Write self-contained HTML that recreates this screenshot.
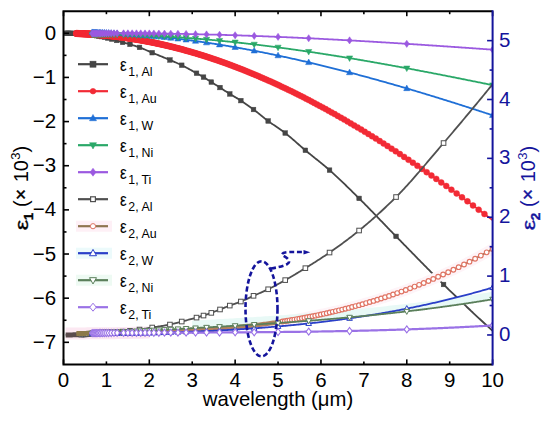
<!DOCTYPE html>
<html><head><meta charset="utf-8"><style>html,body{margin:0;padding:0;background:#fff}svg{display:block}</style></head>
<body>
<svg width="550" height="421" viewBox="0 0 550 421">
<defs><clipPath id="pc"><rect x="63.5" y="11.2" width="429.1" height="353.2"/></clipPath></defs>
<rect width="550" height="421" fill="#fff"/>
<g clip-path="url(#pc)">
<polyline points="65.65,33.27 66.72,33.28 67.79,33.29 68.86,33.30 69.93,33.32 71.00,33.34 72.07,33.37 73.14,33.40 74.21,33.43 75.28,33.46 76.35,33.49 77.42,33.54 78.49,33.59 79.56,33.66 80.63,33.73 81.70,33.82 82.77,33.91 83.84,34.01 84.91,34.12 85.98,34.23 87.05,34.35 88.12,34.47 89.19,34.59 90.26,34.72 91.33,34.86 92.40,35.01 93.47,35.17 94.54,35.34 95.61,35.52 96.68,35.71 97.75,35.90 98.82,36.11 99.89,36.31 100.96,36.53 102.03,36.75 103.10,36.97 104.17,37.20 105.24,37.43 106.31,37.67 107.38,37.91 108.45,38.17 109.52,38.44 110.59,38.72 111.66,39.02 112.73,39.32 113.80,39.62 114.87,39.93 115.94,40.25 117.01,40.56 118.08,40.89 119.15,41.23 120.22,41.58 121.29,41.92 122.36,42.25 123.43,42.55 124.50,42.84 125.57,43.12 126.64,43.40 127.71,43.68 128.78,43.96 129.85,44.27 130.92,44.58 131.99,44.91 133.06,45.24 134.13,45.57 135.20,45.92 136.27,46.28 137.34,46.64 138.41,47.01 139.48,47.40 140.55,47.80 141.62,48.21 142.69,48.64 143.76,49.08 144.83,49.54 145.90,50.00 146.97,50.46 148.04,50.92 149.11,51.39 150.18,51.85 151.25,52.31 152.32,52.75 153.39,53.19 154.46,53.63 155.53,54.07 156.60,54.51 157.67,54.94 158.74,55.37 159.81,55.81 160.88,56.24 161.95,56.68 163.02,57.11 164.09,57.55 165.16,57.99 166.23,58.43 167.30,58.88 168.37,59.33 169.44,59.78 170.51,60.24 171.58,60.70 172.65,61.15 173.72,61.61 174.79,62.07 175.86,62.54 176.93,63.01 178.00,63.49 179.07,63.97 180.14,64.47 181.21,64.98 182.28,65.50 183.35,66.03 184.42,66.58 185.49,67.14 186.56,67.71 187.63,68.29 188.70,68.88 189.77,69.47 190.84,70.07 191.91,70.66 192.98,71.26 194.05,71.86 195.12,72.46 196.19,73.05 197.26,73.64 198.33,74.22 199.40,74.80 200.47,75.39 201.54,75.98 202.61,76.59 203.68,77.22 204.75,77.87 205.82,78.54 206.89,79.22 207.96,79.92 209.03,80.61 210.10,81.31 211.17,81.99 212.24,82.67 213.31,83.34 214.38,84.01 215.45,84.67 216.52,85.34 217.59,86.01 218.66,86.69 219.73,87.37 220.80,88.06 221.87,88.76 222.94,89.46 224.01,90.17 225.08,90.89 226.15,91.59 227.22,92.30 228.29,92.99 229.36,93.68 230.43,94.35 231.51,95.00 232.58,95.64 233.65,96.27 234.72,96.90 235.79,97.52 236.86,98.15 237.93,98.79 239.00,99.44 240.07,100.10 241.14,100.79 242.21,101.49 243.28,102.21 244.35,102.93 245.42,103.67 246.49,104.41 247.56,105.17 248.63,105.93 249.70,106.70 250.77,107.48 251.84,108.26 252.91,109.05 253.98,109.84 255.05,110.65 256.12,111.48 257.19,112.32 258.26,113.17 259.33,114.03 260.40,114.89 261.47,115.76 262.54,116.62 263.61,117.48 264.68,118.33 265.75,119.17 266.82,120.00 267.89,120.81 268.96,121.61 270.03,122.38 271.10,123.14 272.17,123.89 273.24,124.63 274.31,125.36 275.38,126.09 276.45,126.82 277.52,127.54 278.59,128.28 279.66,129.01 280.73,129.76 281.80,130.52 282.87,131.29 283.94,132.08 285.01,132.89 286.08,133.73 287.15,134.58 288.22,135.45 289.29,136.33 290.36,137.23 291.43,138.14 292.50,139.06 293.57,139.99 294.64,140.93 295.71,141.87 296.78,142.82 297.85,143.77 298.92,144.71 299.99,145.66 301.06,146.59 302.13,147.53 303.20,148.45 304.27,149.37 305.34,150.27 306.41,151.16 307.48,152.05 308.55,152.93 309.62,153.80 310.69,154.66 311.76,155.53 312.83,156.39 313.90,157.24 314.97,158.10 316.04,158.96 317.11,159.81 318.18,160.67 319.25,161.53 320.32,162.40 321.39,163.26 322.46,164.14 323.53,165.02 324.60,165.91 325.67,166.81 326.74,167.71 327.81,168.63 328.88,169.56 329.95,170.50 331.02,171.45 332.09,172.41 333.16,173.38 334.23,174.35 335.30,175.33 336.37,176.32 337.44,177.32 338.51,178.32 339.58,179.33 340.65,180.35 341.72,181.37 342.79,182.39 343.86,183.42 344.93,184.46 346.00,185.49 347.07,186.54 348.14,187.58 349.21,188.63 350.28,189.68 351.35,190.73 352.42,191.79 353.49,192.84 354.56,193.90 355.63,194.96 356.70,196.02 357.77,197.08 358.84,198.13 359.91,199.19 360.98,200.26 362.05,201.33 363.12,202.40 364.19,203.48 365.26,204.56 366.33,205.65 367.40,206.74 368.47,207.83 369.54,208.93 370.61,210.03 371.68,211.13 372.75,212.23 373.82,213.34 374.89,214.45 375.96,215.56 377.03,216.67 378.10,217.78 379.17,218.89 380.24,220.01 381.31,221.12 382.38,222.23 383.45,223.35 384.52,224.46 385.59,225.57 386.66,226.68 387.73,227.80 388.80,228.90 389.87,230.01 390.94,231.12 392.01,232.22 393.08,233.32 394.15,234.42 395.22,235.52 396.29,236.61 397.36,237.70 398.43,238.80 399.50,239.89 400.57,240.99 401.64,242.08 402.71,243.18 403.78,244.28 404.85,245.37 405.93,246.47 407.00,247.57 408.07,248.66 409.14,249.76 410.21,250.86 411.28,251.96 412.35,253.05 413.42,254.15 414.49,255.24 415.56,256.34 416.63,257.43 417.70,258.53 418.77,259.62 419.84,260.71 420.91,261.80 421.98,262.89 423.05,263.98 424.12,265.07 425.19,266.15 426.26,267.24 427.33,268.32 428.40,269.40 429.47,270.48 430.54,271.56 431.61,272.64 432.68,273.71 433.75,274.78 434.82,275.85 435.89,276.92 436.96,277.98 438.03,279.04 439.10,280.10 440.17,281.16 441.24,282.22 442.31,283.27 443.38,284.32 444.45,285.36 445.52,286.41 446.59,287.45 447.66,288.49 448.73,289.53 449.80,290.57 450.87,291.61 451.94,292.64 453.01,293.68 454.08,294.71 455.15,295.74 456.22,296.77 457.29,297.80 458.36,298.83 459.43,299.85 460.50,300.88 461.57,301.90 462.64,302.92 463.71,303.94 464.78,304.95 465.85,305.97 466.92,306.98 467.99,308.00 469.06,309.01 470.13,310.02 471.20,311.03 472.27,312.03 473.34,313.04 474.41,314.04 475.48,315.04 476.55,316.04 477.62,317.04 478.69,318.04 479.76,319.03 480.83,320.03 481.90,321.02 482.97,322.01 484.04,323.00 485.11,323.98 486.18,324.97 487.25,325.95 488.32,326.93 489.39,327.91 490.46,328.89 491.53,329.87 492.60,330.85" fill="none" stroke="#454545" stroke-width="1.8"/>
<rect x="63.86" y="30.98" width="4.6" height="4.6" fill="#454545" stroke="#454545" stroke-width="0.5"/>
<rect x="64.75" y="30.98" width="4.6" height="4.6" fill="#454545" stroke="#454545" stroke-width="0.5"/>
<rect x="65.63" y="30.99" width="4.6" height="4.6" fill="#454545" stroke="#454545" stroke-width="0.5"/>
<rect x="66.52" y="31.00" width="4.6" height="4.6" fill="#454545" stroke="#454545" stroke-width="0.5"/>
<rect x="67.85" y="31.02" width="4.6" height="4.6" fill="#454545" stroke="#454545" stroke-width="0.5"/>
<rect x="68.80" y="31.04" width="4.6" height="4.6" fill="#454545" stroke="#454545" stroke-width="0.5"/>
<rect x="70.07" y="31.08" width="4.6" height="4.6" fill="#454545" stroke="#454545" stroke-width="0.5"/>
<rect x="71.84" y="31.13" width="4.6" height="4.6" fill="#454545" stroke="#454545" stroke-width="0.5"/>
<rect x="73.02" y="31.16" width="4.6" height="4.6" fill="#454545" stroke="#454545" stroke-width="0.5"/>
<rect x="74.50" y="31.21" width="4.6" height="4.6" fill="#454545" stroke="#454545" stroke-width="0.5"/>
<rect x="76.40" y="31.30" width="4.6" height="4.6" fill="#454545" stroke="#454545" stroke-width="0.5"/>
<rect x="78.94" y="31.48" width="4.6" height="4.6" fill="#454545" stroke="#454545" stroke-width="0.5"/>
<rect x="80.20" y="31.59" width="4.6" height="4.6" fill="#454545" stroke="#454545" stroke-width="0.5"/>
<rect x="81.66" y="31.73" width="4.6" height="4.6" fill="#454545" stroke="#454545" stroke-width="0.5"/>
<rect x="83.37" y="31.90" width="4.6" height="4.6" fill="#454545" stroke="#454545" stroke-width="0.5"/>
<rect x="85.39" y="32.12" width="4.6" height="4.6" fill="#454545" stroke="#454545" stroke-width="0.5"/>
<rect x="87.80" y="32.40" width="4.6" height="4.6" fill="#454545" stroke="#454545" stroke-width="0.5"/>
<rect x="89.20" y="32.58" width="4.6" height="4.6" fill="#454545" stroke="#454545" stroke-width="0.5"/>
<rect x="90.76" y="32.81" width="4.6" height="4.6" fill="#454545" stroke="#454545" stroke-width="0.5"/>
<rect x="92.50" y="33.08" width="4.6" height="4.6" fill="#454545" stroke="#454545" stroke-width="0.5"/>
<rect x="94.46" y="33.42" width="4.6" height="4.6" fill="#454545" stroke="#454545" stroke-width="0.5"/>
<rect x="96.67" y="33.84" width="4.6" height="4.6" fill="#454545" stroke="#454545" stroke-width="0.5"/>
<rect x="99.21" y="34.34" width="4.6" height="4.6" fill="#454545" stroke="#454545" stroke-width="0.5"/>
<rect x="102.13" y="34.96" width="4.6" height="4.6" fill="#454545" stroke="#454545" stroke-width="0.5"/>
<rect x="105.54" y="35.72" width="4.6" height="4.6" fill="#454545" stroke="#454545" stroke-width="0.5"/>
<rect x="109.57" y="36.77" width="4.6" height="4.6" fill="#454545" stroke="#454545" stroke-width="0.5"/>
<rect x="114.41" y="38.17" width="4.6" height="4.6" fill="#454545" stroke="#454545" stroke-width="0.5"/>
<rect x="120.32" y="40.02" width="4.6" height="4.6" fill="#454545" stroke="#454545" stroke-width="0.5"/>
<rect x="127.71" y="42.01" width="4.6" height="4.6" fill="#454545" stroke="#454545" stroke-width="0.5"/>
<rect x="137.21" y="45.11" width="4.6" height="4.6" fill="#454545" stroke="#454545" stroke-width="0.5"/>
<rect x="149.88" y="50.40" width="4.6" height="4.6" fill="#454545" stroke="#454545" stroke-width="0.5"/>
<rect x="167.62" y="57.69" width="4.6" height="4.6" fill="#454545" stroke="#454545" stroke-width="0.5"/>
<rect x="179.44" y="62.93" width="4.6" height="4.6" fill="#454545" stroke="#454545" stroke-width="0.5"/>
<rect x="194.22" y="70.93" width="4.6" height="4.6" fill="#454545" stroke="#454545" stroke-width="0.5"/>
<rect x="201.22" y="74.82" width="4.6" height="4.6" fill="#454545" stroke="#454545" stroke-width="0.5"/>
<rect x="209.00" y="79.77" width="4.6" height="4.6" fill="#454545" stroke="#454545" stroke-width="0.5"/>
<rect x="217.70" y="85.24" width="4.6" height="4.6" fill="#454545" stroke="#454545" stroke-width="0.5"/>
<rect x="227.48" y="91.64" width="4.6" height="4.6" fill="#454545" stroke="#454545" stroke-width="0.5"/>
<rect x="238.56" y="98.31" width="4.6" height="4.6" fill="#454545" stroke="#454545" stroke-width="0.5"/>
<rect x="251.23" y="107.21" width="4.6" height="4.6" fill="#454545" stroke="#454545" stroke-width="0.5"/>
<rect x="265.85" y="118.71" width="4.6" height="4.6" fill="#454545" stroke="#454545" stroke-width="0.5"/>
<rect x="282.90" y="130.74" width="4.6" height="4.6" fill="#454545" stroke="#454545" stroke-width="0.5"/>
<rect x="303.06" y="147.99" width="4.6" height="4.6" fill="#454545" stroke="#454545" stroke-width="0.5"/>
<rect x="327.24" y="167.84" width="4.6" height="4.6" fill="#454545" stroke="#454545" stroke-width="0.5"/>
<rect x="356.80" y="196.09" width="4.6" height="4.6" fill="#454545" stroke="#454545" stroke-width="0.5"/>
<rect x="393.75" y="234.06" width="4.6" height="4.6" fill="#454545" stroke="#454545" stroke-width="0.5"/>
<rect x="441.26" y="282.19" width="4.6" height="4.6" fill="#454545" stroke="#454545" stroke-width="0.5"/>
<polyline points="76.37,33.47 77.42,33.50 78.46,33.54 79.50,33.57 80.55,33.61 81.59,33.66 82.63,33.70 83.68,33.75 84.72,33.80 85.76,33.85 86.80,33.91 87.85,33.96 88.89,34.02 89.93,34.09 90.98,34.15 92.02,34.22 93.06,34.29 94.11,34.36 95.15,34.44 96.19,34.52 97.24,34.60 98.28,34.68 99.32,34.77 100.37,34.85 101.41,34.95 102.45,35.04 103.50,35.13 104.54,35.23 105.58,35.33 106.63,35.44 107.67,35.54 108.71,35.65 109.75,35.76 110.80,35.87 111.84,35.99 112.88,36.11 113.93,36.23 114.97,36.35 116.01,36.48 117.06,36.61 118.10,36.74 119.14,36.87 120.19,37.00 121.23,37.14 122.27,37.28 123.32,37.43 124.36,37.57 125.40,37.72 126.45,37.87 127.49,38.02 128.53,38.18 129.57,38.34 130.62,38.50 131.66,38.66 132.70,38.83 133.75,38.99 134.79,39.17 135.83,39.34 136.88,39.51 137.92,39.69 138.96,39.87 140.01,40.05 141.05,40.24 142.09,40.43 143.14,40.62 144.18,40.81 145.22,41.01 146.27,41.20 147.31,41.40 148.35,41.61 149.40,41.81 150.44,42.02 151.48,42.23 152.52,42.44 153.57,42.65 154.61,42.87 155.65,43.09 156.70,43.31 157.74,43.54 158.78,43.76 159.83,43.99 160.87,44.23 161.91,44.46 162.96,44.70 164.00,44.93 165.04,45.18 166.09,45.42 167.13,45.67 168.17,45.91 169.22,46.17 170.26,46.42 171.30,46.67 172.35,46.93 173.39,47.19 174.43,47.46 175.47,47.72 176.52,47.99 177.56,48.26 178.60,48.53 179.65,48.81 180.69,49.08 181.73,49.36 182.78,49.65 183.82,49.93 184.86,50.22 185.91,50.51 186.95,50.80 187.99,51.09 189.04,51.39 190.08,51.68 191.12,51.99 192.17,52.29 193.21,52.59 194.25,52.90 195.29,53.21 196.34,53.52 197.38,53.84 198.42,54.16 199.47,54.48 200.51,54.80 201.55,55.12 202.60,55.45 203.64,55.78 204.68,56.11 205.73,56.44 206.77,56.78 207.81,57.11 208.86,57.46 209.90,57.80 210.94,58.14 211.99,58.49 213.03,58.84 214.07,59.19 215.12,59.54 216.16,59.90 217.20,60.26 218.24,60.62 219.29,60.98 220.33,61.35 221.37,61.71 222.42,62.08 223.46,62.46 224.50,62.83 225.55,63.21 226.59,63.59 227.63,63.97 228.68,64.35 229.72,64.73 230.76,65.12 231.81,65.51 232.85,65.90 233.89,66.30 234.94,66.69 235.98,67.09 237.02,67.49 238.07,67.90 239.11,68.30 240.15,68.71 241.19,69.12 242.24,69.53 243.28,69.94 244.32,70.36 245.37,70.78 246.41,71.20 247.45,71.62 248.50,72.04 249.54,72.47 250.58,72.90 251.63,73.33 252.67,73.76 253.71,74.20 254.76,74.64 255.80,75.08 256.84,75.52 257.89,75.96 258.93,76.41 259.97,76.86 261.02,77.31 262.06,77.76 263.10,78.21 264.14,78.67 265.19,79.13 266.23,79.59 267.27,80.05 268.32,80.51 269.36,80.98 270.40,81.45 271.45,81.92 272.49,82.39 273.53,82.87 274.58,83.35 275.62,83.82 276.66,84.31 277.71,84.79 278.75,85.27 279.79,85.76 280.84,86.25 281.88,86.74 282.92,87.23 283.96,87.73 285.01,88.23 286.05,88.73 287.09,89.23 288.14,89.73 289.18,90.24 290.22,90.74 291.27,91.25 292.31,91.76 293.35,92.28 294.40,92.79 295.44,93.31 296.48,93.83 297.53,94.35 298.57,94.87 299.61,95.39 300.66,95.92 301.70,96.45 302.74,96.98 303.79,97.51 304.83,98.05 305.87,98.58 306.91,99.12 307.96,99.66 309.00,100.20 310.04,100.75 311.09,101.29 312.13,101.84 313.17,102.39 314.22,102.94 315.26,103.49 316.30,104.05 317.35,104.60 318.39,105.16 319.43,105.72 320.48,106.29 321.52,106.85 322.56,107.42 323.61,107.98 324.65,108.55 325.69,109.12 326.74,109.70 327.78,110.27 328.82,110.85 329.86,111.43 330.91,112.01 331.95,112.59 332.99,113.17 334.04,113.76 335.08,114.35 336.12,114.94 337.17,115.53 338.21,116.12 339.25,116.71 340.30,117.31 341.34,117.91 342.38,118.51 343.43,119.11 344.47,119.71 345.51,120.32 346.56,120.92 347.60,121.53 348.64,122.14 349.68,122.75 350.73,123.37 351.77,123.98 352.81,124.60 353.86,125.22 354.90,125.84 355.94,126.46 356.99,127.08 358.03,127.71 359.07,128.33 360.12,128.96 361.16,129.59 362.20,130.22 363.25,130.86 364.29,131.49 365.33,132.13 366.38,132.76 367.42,133.40 368.46,134.05 369.51,134.69 370.55,135.33 371.59,135.98 372.63,136.63 373.68,137.27 374.72,137.93 375.76,138.58 376.81,139.23 377.85,139.89 378.89,140.54 379.94,141.20 380.98,141.86 382.02,142.52 383.07,143.19 384.11,143.85 385.15,144.52 386.20,145.18 387.24,145.85 388.28,146.52 389.33,147.20 390.37,147.87 391.41,148.54 392.46,149.22 393.50,149.90 394.54,150.58 395.58,151.26 396.63,151.94 397.67,152.62 398.71,153.31 399.76,154.00 400.80,154.68 401.84,155.37 402.89,156.06 403.93,156.76 404.97,157.45 406.02,158.14 407.06,158.84 408.10,159.54 409.15,160.24 410.19,160.94 411.23,161.64 412.28,162.34 413.32,163.05 414.36,163.75 415.41,164.46 416.45,165.17 417.49,165.88 418.53,166.59 419.58,167.30 420.62,168.02 421.66,168.73 422.71,169.45 423.75,170.17 424.79,170.89 425.84,171.61 426.88,172.33 427.92,173.05 428.97,173.78 430.01,174.50 431.05,175.23 432.10,175.96 433.14,176.69 434.18,177.42 435.23,178.15 436.27,178.88 437.31,179.62 438.35,180.35 439.40,181.09 440.44,181.83 441.48,182.57 442.53,183.31 443.57,184.05 444.61,184.79 445.66,185.54 446.70,186.28 447.74,187.03 448.79,187.78 449.83,188.53 450.87,189.28 451.92,190.03 452.96,190.78 454.00,191.53 455.05,192.29 456.09,193.05 457.13,193.80 458.18,194.56 459.22,195.32 460.26,196.08 461.30,196.84 462.35,197.60 463.39,198.37 464.43,199.13 465.48,199.90 466.52,200.66 467.56,201.43 468.61,202.20 469.65,202.97 470.69,203.74 471.74,204.52 472.78,205.29 473.82,206.06 474.87,206.84 475.91,207.61 476.95,208.39 478.00,209.17 479.04,209.95 480.08,210.73 481.13,211.51 482.17,212.29 483.21,213.08 484.25,213.86 485.30,214.65 486.34,215.43 487.38,216.22 488.43,217.01 489.47,217.80 490.51,218.59 491.56,219.38 492.60,220.17" fill="none" stroke="#f22a35" stroke-width="1.8"/>
<circle cx="76.39" cy="33.47" r="3.0" fill="#f22a35" stroke="#f22a35" stroke-width="0.4"/>
<circle cx="76.43" cy="33.47" r="3.0" fill="#f22a35" stroke="#f22a35" stroke-width="0.4"/>
<circle cx="76.47" cy="33.47" r="3.0" fill="#f22a35" stroke="#f22a35" stroke-width="0.4"/>
<circle cx="76.51" cy="33.47" r="3.0" fill="#f22a35" stroke="#f22a35" stroke-width="0.4"/>
<circle cx="76.55" cy="33.47" r="3.0" fill="#f22a35" stroke="#f22a35" stroke-width="0.4"/>
<circle cx="76.59" cy="33.47" r="3.0" fill="#f22a35" stroke="#f22a35" stroke-width="0.4"/>
<circle cx="76.62" cy="33.48" r="3.0" fill="#f22a35" stroke="#f22a35" stroke-width="0.4"/>
<circle cx="76.66" cy="33.48" r="3.0" fill="#f22a35" stroke="#f22a35" stroke-width="0.4"/>
<circle cx="76.70" cy="33.48" r="3.0" fill="#f22a35" stroke="#f22a35" stroke-width="0.4"/>
<circle cx="76.74" cy="33.48" r="3.0" fill="#f22a35" stroke="#f22a35" stroke-width="0.4"/>
<circle cx="76.78" cy="33.48" r="3.0" fill="#f22a35" stroke="#f22a35" stroke-width="0.4"/>
<circle cx="76.82" cy="33.48" r="3.0" fill="#f22a35" stroke="#f22a35" stroke-width="0.4"/>
<circle cx="76.86" cy="33.48" r="3.0" fill="#f22a35" stroke="#f22a35" stroke-width="0.4"/>
<circle cx="76.90" cy="33.48" r="3.0" fill="#f22a35" stroke="#f22a35" stroke-width="0.4"/>
<circle cx="76.94" cy="33.49" r="3.0" fill="#f22a35" stroke="#f22a35" stroke-width="0.4"/>
<circle cx="76.98" cy="33.49" r="3.0" fill="#f22a35" stroke="#f22a35" stroke-width="0.4"/>
<circle cx="77.03" cy="33.49" r="3.0" fill="#f22a35" stroke="#f22a35" stroke-width="0.4"/>
<circle cx="77.07" cy="33.49" r="3.0" fill="#f22a35" stroke="#f22a35" stroke-width="0.4"/>
<circle cx="77.11" cy="33.49" r="3.0" fill="#f22a35" stroke="#f22a35" stroke-width="0.4"/>
<circle cx="77.15" cy="33.49" r="3.0" fill="#f22a35" stroke="#f22a35" stroke-width="0.4"/>
<circle cx="77.19" cy="33.49" r="3.0" fill="#f22a35" stroke="#f22a35" stroke-width="0.4"/>
<circle cx="77.23" cy="33.49" r="3.0" fill="#f22a35" stroke="#f22a35" stroke-width="0.4"/>
<circle cx="77.28" cy="33.50" r="3.0" fill="#f22a35" stroke="#f22a35" stroke-width="0.4"/>
<circle cx="77.32" cy="33.50" r="3.0" fill="#f22a35" stroke="#f22a35" stroke-width="0.4"/>
<circle cx="77.36" cy="33.50" r="3.0" fill="#f22a35" stroke="#f22a35" stroke-width="0.4"/>
<circle cx="77.40" cy="33.50" r="3.0" fill="#f22a35" stroke="#f22a35" stroke-width="0.4"/>
<circle cx="77.45" cy="33.50" r="3.0" fill="#f22a35" stroke="#f22a35" stroke-width="0.4"/>
<circle cx="77.49" cy="33.50" r="3.0" fill="#f22a35" stroke="#f22a35" stroke-width="0.4"/>
<circle cx="77.53" cy="33.50" r="3.0" fill="#f22a35" stroke="#f22a35" stroke-width="0.4"/>
<circle cx="77.57" cy="33.51" r="3.0" fill="#f22a35" stroke="#f22a35" stroke-width="0.4"/>
<circle cx="77.62" cy="33.51" r="3.0" fill="#f22a35" stroke="#f22a35" stroke-width="0.4"/>
<circle cx="77.66" cy="33.51" r="3.0" fill="#f22a35" stroke="#f22a35" stroke-width="0.4"/>
<circle cx="77.71" cy="33.51" r="3.0" fill="#f22a35" stroke="#f22a35" stroke-width="0.4"/>
<circle cx="77.75" cy="33.51" r="3.0" fill="#f22a35" stroke="#f22a35" stroke-width="0.4"/>
<circle cx="77.79" cy="33.51" r="3.0" fill="#f22a35" stroke="#f22a35" stroke-width="0.4"/>
<circle cx="77.84" cy="33.51" r="3.0" fill="#f22a35" stroke="#f22a35" stroke-width="0.4"/>
<circle cx="77.88" cy="33.52" r="3.0" fill="#f22a35" stroke="#f22a35" stroke-width="0.4"/>
<circle cx="77.93" cy="33.52" r="3.0" fill="#f22a35" stroke="#f22a35" stroke-width="0.4"/>
<circle cx="77.97" cy="33.52" r="3.0" fill="#f22a35" stroke="#f22a35" stroke-width="0.4"/>
<circle cx="78.02" cy="33.52" r="3.0" fill="#f22a35" stroke="#f22a35" stroke-width="0.4"/>
<circle cx="78.06" cy="33.52" r="3.0" fill="#f22a35" stroke="#f22a35" stroke-width="0.4"/>
<circle cx="78.11" cy="33.52" r="3.0" fill="#f22a35" stroke="#f22a35" stroke-width="0.4"/>
<circle cx="78.16" cy="33.52" r="3.0" fill="#f22a35" stroke="#f22a35" stroke-width="0.4"/>
<circle cx="78.20" cy="33.53" r="3.0" fill="#f22a35" stroke="#f22a35" stroke-width="0.4"/>
<circle cx="78.25" cy="33.53" r="3.0" fill="#f22a35" stroke="#f22a35" stroke-width="0.4"/>
<circle cx="78.30" cy="33.53" r="3.0" fill="#f22a35" stroke="#f22a35" stroke-width="0.4"/>
<circle cx="78.34" cy="33.53" r="3.0" fill="#f22a35" stroke="#f22a35" stroke-width="0.4"/>
<circle cx="78.39" cy="33.53" r="3.0" fill="#f22a35" stroke="#f22a35" stroke-width="0.4"/>
<circle cx="78.44" cy="33.53" r="3.0" fill="#f22a35" stroke="#f22a35" stroke-width="0.4"/>
<circle cx="78.48" cy="33.54" r="3.0" fill="#f22a35" stroke="#f22a35" stroke-width="0.4"/>
<circle cx="78.53" cy="33.54" r="3.0" fill="#f22a35" stroke="#f22a35" stroke-width="0.4"/>
<circle cx="78.58" cy="33.54" r="3.0" fill="#f22a35" stroke="#f22a35" stroke-width="0.4"/>
<circle cx="78.63" cy="33.54" r="3.0" fill="#f22a35" stroke="#f22a35" stroke-width="0.4"/>
<circle cx="78.68" cy="33.54" r="3.0" fill="#f22a35" stroke="#f22a35" stroke-width="0.4"/>
<circle cx="78.72" cy="33.54" r="3.0" fill="#f22a35" stroke="#f22a35" stroke-width="0.4"/>
<circle cx="78.77" cy="33.55" r="3.0" fill="#f22a35" stroke="#f22a35" stroke-width="0.4"/>
<circle cx="78.82" cy="33.55" r="3.0" fill="#f22a35" stroke="#f22a35" stroke-width="0.4"/>
<circle cx="78.87" cy="33.55" r="3.0" fill="#f22a35" stroke="#f22a35" stroke-width="0.4"/>
<circle cx="78.92" cy="33.55" r="3.0" fill="#f22a35" stroke="#f22a35" stroke-width="0.4"/>
<circle cx="78.97" cy="33.55" r="3.0" fill="#f22a35" stroke="#f22a35" stroke-width="0.4"/>
<circle cx="79.02" cy="33.56" r="3.0" fill="#f22a35" stroke="#f22a35" stroke-width="0.4"/>
<circle cx="79.07" cy="33.56" r="3.0" fill="#f22a35" stroke="#f22a35" stroke-width="0.4"/>
<circle cx="79.12" cy="33.56" r="3.0" fill="#f22a35" stroke="#f22a35" stroke-width="0.4"/>
<circle cx="79.17" cy="33.56" r="3.0" fill="#f22a35" stroke="#f22a35" stroke-width="0.4"/>
<circle cx="79.22" cy="33.56" r="3.0" fill="#f22a35" stroke="#f22a35" stroke-width="0.4"/>
<circle cx="79.27" cy="33.56" r="3.0" fill="#f22a35" stroke="#f22a35" stroke-width="0.4"/>
<circle cx="79.32" cy="33.57" r="3.0" fill="#f22a35" stroke="#f22a35" stroke-width="0.4"/>
<circle cx="79.38" cy="33.57" r="3.0" fill="#f22a35" stroke="#f22a35" stroke-width="0.4"/>
<circle cx="79.43" cy="33.57" r="3.0" fill="#f22a35" stroke="#f22a35" stroke-width="0.4"/>
<circle cx="79.48" cy="33.57" r="3.0" fill="#f22a35" stroke="#f22a35" stroke-width="0.4"/>
<circle cx="79.53" cy="33.57" r="3.0" fill="#f22a35" stroke="#f22a35" stroke-width="0.4"/>
<circle cx="79.58" cy="33.58" r="3.0" fill="#f22a35" stroke="#f22a35" stroke-width="0.4"/>
<circle cx="79.64" cy="33.58" r="3.0" fill="#f22a35" stroke="#f22a35" stroke-width="0.4"/>
<circle cx="79.69" cy="33.58" r="3.0" fill="#f22a35" stroke="#f22a35" stroke-width="0.4"/>
<circle cx="79.74" cy="33.58" r="3.0" fill="#f22a35" stroke="#f22a35" stroke-width="0.4"/>
<circle cx="79.80" cy="33.58" r="3.0" fill="#f22a35" stroke="#f22a35" stroke-width="0.4"/>
<circle cx="79.85" cy="33.59" r="3.0" fill="#f22a35" stroke="#f22a35" stroke-width="0.4"/>
<circle cx="79.91" cy="33.59" r="3.0" fill="#f22a35" stroke="#f22a35" stroke-width="0.4"/>
<circle cx="79.96" cy="33.59" r="3.0" fill="#f22a35" stroke="#f22a35" stroke-width="0.4"/>
<circle cx="80.01" cy="33.59" r="3.0" fill="#f22a35" stroke="#f22a35" stroke-width="0.4"/>
<circle cx="80.07" cy="33.59" r="3.0" fill="#f22a35" stroke="#f22a35" stroke-width="0.4"/>
<circle cx="80.12" cy="33.60" r="3.0" fill="#f22a35" stroke="#f22a35" stroke-width="0.4"/>
<circle cx="80.18" cy="33.60" r="3.0" fill="#f22a35" stroke="#f22a35" stroke-width="0.4"/>
<circle cx="80.24" cy="33.60" r="3.0" fill="#f22a35" stroke="#f22a35" stroke-width="0.4"/>
<circle cx="80.29" cy="33.60" r="3.0" fill="#f22a35" stroke="#f22a35" stroke-width="0.4"/>
<circle cx="80.35" cy="33.61" r="3.0" fill="#f22a35" stroke="#f22a35" stroke-width="0.4"/>
<circle cx="80.40" cy="33.61" r="3.0" fill="#f22a35" stroke="#f22a35" stroke-width="0.4"/>
<circle cx="80.46" cy="33.61" r="3.0" fill="#f22a35" stroke="#f22a35" stroke-width="0.4"/>
<circle cx="80.52" cy="33.61" r="3.0" fill="#f22a35" stroke="#f22a35" stroke-width="0.4"/>
<circle cx="80.57" cy="33.61" r="3.0" fill="#f22a35" stroke="#f22a35" stroke-width="0.4"/>
<circle cx="80.63" cy="33.62" r="3.0" fill="#f22a35" stroke="#f22a35" stroke-width="0.4"/>
<circle cx="80.69" cy="33.62" r="3.0" fill="#f22a35" stroke="#f22a35" stroke-width="0.4"/>
<circle cx="80.75" cy="33.62" r="3.0" fill="#f22a35" stroke="#f22a35" stroke-width="0.4"/>
<circle cx="80.81" cy="33.62" r="3.0" fill="#f22a35" stroke="#f22a35" stroke-width="0.4"/>
<circle cx="80.86" cy="33.63" r="3.0" fill="#f22a35" stroke="#f22a35" stroke-width="0.4"/>
<circle cx="80.92" cy="33.63" r="3.0" fill="#f22a35" stroke="#f22a35" stroke-width="0.4"/>
<circle cx="80.98" cy="33.63" r="3.0" fill="#f22a35" stroke="#f22a35" stroke-width="0.4"/>
<circle cx="81.04" cy="33.63" r="3.0" fill="#f22a35" stroke="#f22a35" stroke-width="0.4"/>
<circle cx="81.10" cy="33.64" r="3.0" fill="#f22a35" stroke="#f22a35" stroke-width="0.4"/>
<circle cx="81.16" cy="33.64" r="3.0" fill="#f22a35" stroke="#f22a35" stroke-width="0.4"/>
<circle cx="81.22" cy="33.64" r="3.0" fill="#f22a35" stroke="#f22a35" stroke-width="0.4"/>
<circle cx="81.28" cy="33.64" r="3.0" fill="#f22a35" stroke="#f22a35" stroke-width="0.4"/>
<circle cx="81.34" cy="33.65" r="3.0" fill="#f22a35" stroke="#f22a35" stroke-width="0.4"/>
<circle cx="81.41" cy="33.65" r="3.0" fill="#f22a35" stroke="#f22a35" stroke-width="0.4"/>
<circle cx="81.47" cy="33.65" r="3.0" fill="#f22a35" stroke="#f22a35" stroke-width="0.4"/>
<circle cx="81.53" cy="33.65" r="3.0" fill="#f22a35" stroke="#f22a35" stroke-width="0.4"/>
<circle cx="81.59" cy="33.66" r="3.0" fill="#f22a35" stroke="#f22a35" stroke-width="0.4"/>
<circle cx="81.65" cy="33.66" r="3.0" fill="#f22a35" stroke="#f22a35" stroke-width="0.4"/>
<circle cx="81.72" cy="33.66" r="3.0" fill="#f22a35" stroke="#f22a35" stroke-width="0.4"/>
<circle cx="81.78" cy="33.66" r="3.0" fill="#f22a35" stroke="#f22a35" stroke-width="0.4"/>
<circle cx="81.84" cy="33.67" r="3.0" fill="#f22a35" stroke="#f22a35" stroke-width="0.4"/>
<circle cx="81.91" cy="33.67" r="3.0" fill="#f22a35" stroke="#f22a35" stroke-width="0.4"/>
<circle cx="81.97" cy="33.67" r="3.0" fill="#f22a35" stroke="#f22a35" stroke-width="0.4"/>
<circle cx="82.04" cy="33.67" r="3.0" fill="#f22a35" stroke="#f22a35" stroke-width="0.4"/>
<circle cx="82.10" cy="33.68" r="3.0" fill="#f22a35" stroke="#f22a35" stroke-width="0.4"/>
<circle cx="82.17" cy="33.68" r="3.0" fill="#f22a35" stroke="#f22a35" stroke-width="0.4"/>
<circle cx="82.23" cy="33.68" r="3.0" fill="#f22a35" stroke="#f22a35" stroke-width="0.4"/>
<circle cx="82.30" cy="33.69" r="3.0" fill="#f22a35" stroke="#f22a35" stroke-width="0.4"/>
<circle cx="82.36" cy="33.69" r="3.0" fill="#f22a35" stroke="#f22a35" stroke-width="0.4"/>
<circle cx="82.43" cy="33.69" r="3.0" fill="#f22a35" stroke="#f22a35" stroke-width="0.4"/>
<circle cx="82.50" cy="33.69" r="3.0" fill="#f22a35" stroke="#f22a35" stroke-width="0.4"/>
<circle cx="82.56" cy="33.70" r="3.0" fill="#f22a35" stroke="#f22a35" stroke-width="0.4"/>
<circle cx="82.63" cy="33.70" r="3.0" fill="#f22a35" stroke="#f22a35" stroke-width="0.4"/>
<circle cx="82.70" cy="33.70" r="3.0" fill="#f22a35" stroke="#f22a35" stroke-width="0.4"/>
<circle cx="82.77" cy="33.71" r="3.0" fill="#f22a35" stroke="#f22a35" stroke-width="0.4"/>
<circle cx="82.84" cy="33.71" r="3.0" fill="#f22a35" stroke="#f22a35" stroke-width="0.4"/>
<circle cx="82.90" cy="33.71" r="3.0" fill="#f22a35" stroke="#f22a35" stroke-width="0.4"/>
<circle cx="82.97" cy="33.72" r="3.0" fill="#f22a35" stroke="#f22a35" stroke-width="0.4"/>
<circle cx="83.04" cy="33.72" r="3.0" fill="#f22a35" stroke="#f22a35" stroke-width="0.4"/>
<circle cx="83.11" cy="33.72" r="3.0" fill="#f22a35" stroke="#f22a35" stroke-width="0.4"/>
<circle cx="83.18" cy="33.73" r="3.0" fill="#f22a35" stroke="#f22a35" stroke-width="0.4"/>
<circle cx="83.25" cy="33.73" r="3.0" fill="#f22a35" stroke="#f22a35" stroke-width="0.4"/>
<circle cx="83.32" cy="33.73" r="3.0" fill="#f22a35" stroke="#f22a35" stroke-width="0.4"/>
<circle cx="83.40" cy="33.74" r="3.0" fill="#f22a35" stroke="#f22a35" stroke-width="0.4"/>
<circle cx="83.47" cy="33.74" r="3.0" fill="#f22a35" stroke="#f22a35" stroke-width="0.4"/>
<circle cx="83.54" cy="33.74" r="3.0" fill="#f22a35" stroke="#f22a35" stroke-width="0.4"/>
<circle cx="83.61" cy="33.75" r="3.0" fill="#f22a35" stroke="#f22a35" stroke-width="0.4"/>
<circle cx="83.69" cy="33.75" r="3.0" fill="#f22a35" stroke="#f22a35" stroke-width="0.4"/>
<circle cx="83.76" cy="33.75" r="3.0" fill="#f22a35" stroke="#f22a35" stroke-width="0.4"/>
<circle cx="83.83" cy="33.76" r="3.0" fill="#f22a35" stroke="#f22a35" stroke-width="0.4"/>
<circle cx="83.91" cy="33.76" r="3.0" fill="#f22a35" stroke="#f22a35" stroke-width="0.4"/>
<circle cx="83.98" cy="33.76" r="3.0" fill="#f22a35" stroke="#f22a35" stroke-width="0.4"/>
<circle cx="84.06" cy="33.77" r="3.0" fill="#f22a35" stroke="#f22a35" stroke-width="0.4"/>
<circle cx="84.13" cy="33.77" r="3.0" fill="#f22a35" stroke="#f22a35" stroke-width="0.4"/>
<circle cx="84.21" cy="33.77" r="3.0" fill="#f22a35" stroke="#f22a35" stroke-width="0.4"/>
<circle cx="84.28" cy="33.78" r="3.0" fill="#f22a35" stroke="#f22a35" stroke-width="0.4"/>
<circle cx="84.36" cy="33.78" r="3.0" fill="#f22a35" stroke="#f22a35" stroke-width="0.4"/>
<circle cx="84.44" cy="33.78" r="3.0" fill="#f22a35" stroke="#f22a35" stroke-width="0.4"/>
<circle cx="84.51" cy="33.79" r="3.0" fill="#f22a35" stroke="#f22a35" stroke-width="0.4"/>
<circle cx="84.59" cy="33.79" r="3.0" fill="#f22a35" stroke="#f22a35" stroke-width="0.4"/>
<circle cx="84.67" cy="33.80" r="3.0" fill="#f22a35" stroke="#f22a35" stroke-width="0.4"/>
<circle cx="84.75" cy="33.80" r="3.0" fill="#f22a35" stroke="#f22a35" stroke-width="0.4"/>
<circle cx="84.83" cy="33.80" r="3.0" fill="#f22a35" stroke="#f22a35" stroke-width="0.4"/>
<circle cx="84.90" cy="33.81" r="3.0" fill="#f22a35" stroke="#f22a35" stroke-width="0.4"/>
<circle cx="84.98" cy="33.81" r="3.0" fill="#f22a35" stroke="#f22a35" stroke-width="0.4"/>
<circle cx="85.06" cy="33.82" r="3.0" fill="#f22a35" stroke="#f22a35" stroke-width="0.4"/>
<circle cx="85.15" cy="33.82" r="3.0" fill="#f22a35" stroke="#f22a35" stroke-width="0.4"/>
<circle cx="85.23" cy="33.82" r="3.0" fill="#f22a35" stroke="#f22a35" stroke-width="0.4"/>
<circle cx="85.31" cy="33.83" r="3.0" fill="#f22a35" stroke="#f22a35" stroke-width="0.4"/>
<circle cx="85.39" cy="33.83" r="3.0" fill="#f22a35" stroke="#f22a35" stroke-width="0.4"/>
<circle cx="85.47" cy="33.84" r="3.0" fill="#f22a35" stroke="#f22a35" stroke-width="0.4"/>
<circle cx="85.55" cy="33.84" r="3.0" fill="#f22a35" stroke="#f22a35" stroke-width="0.4"/>
<circle cx="85.64" cy="33.85" r="3.0" fill="#f22a35" stroke="#f22a35" stroke-width="0.4"/>
<circle cx="85.72" cy="33.85" r="3.0" fill="#f22a35" stroke="#f22a35" stroke-width="0.4"/>
<circle cx="85.81" cy="33.85" r="3.0" fill="#f22a35" stroke="#f22a35" stroke-width="0.4"/>
<circle cx="85.89" cy="33.86" r="3.0" fill="#f22a35" stroke="#f22a35" stroke-width="0.4"/>
<circle cx="85.98" cy="33.86" r="3.0" fill="#f22a35" stroke="#f22a35" stroke-width="0.4"/>
<circle cx="86.06" cy="33.87" r="3.0" fill="#f22a35" stroke="#f22a35" stroke-width="0.4"/>
<circle cx="86.15" cy="33.87" r="3.0" fill="#f22a35" stroke="#f22a35" stroke-width="0.4"/>
<circle cx="86.23" cy="33.88" r="3.0" fill="#f22a35" stroke="#f22a35" stroke-width="0.4"/>
<circle cx="86.32" cy="33.88" r="3.0" fill="#f22a35" stroke="#f22a35" stroke-width="0.4"/>
<circle cx="86.41" cy="33.89" r="3.0" fill="#f22a35" stroke="#f22a35" stroke-width="0.4"/>
<circle cx="86.50" cy="33.89" r="3.0" fill="#f22a35" stroke="#f22a35" stroke-width="0.4"/>
<circle cx="86.58" cy="33.89" r="3.0" fill="#f22a35" stroke="#f22a35" stroke-width="0.4"/>
<circle cx="86.67" cy="33.90" r="3.0" fill="#f22a35" stroke="#f22a35" stroke-width="0.4"/>
<circle cx="86.76" cy="33.90" r="3.0" fill="#f22a35" stroke="#f22a35" stroke-width="0.4"/>
<circle cx="86.85" cy="33.91" r="3.0" fill="#f22a35" stroke="#f22a35" stroke-width="0.4"/>
<circle cx="86.94" cy="33.91" r="3.0" fill="#f22a35" stroke="#f22a35" stroke-width="0.4"/>
<circle cx="87.03" cy="33.92" r="3.0" fill="#f22a35" stroke="#f22a35" stroke-width="0.4"/>
<circle cx="87.12" cy="33.92" r="3.0" fill="#f22a35" stroke="#f22a35" stroke-width="0.4"/>
<circle cx="87.22" cy="33.93" r="3.0" fill="#f22a35" stroke="#f22a35" stroke-width="0.4"/>
<circle cx="87.31" cy="33.93" r="3.0" fill="#f22a35" stroke="#f22a35" stroke-width="0.4"/>
<circle cx="87.40" cy="33.94" r="3.0" fill="#f22a35" stroke="#f22a35" stroke-width="0.4"/>
<circle cx="87.50" cy="33.94" r="3.0" fill="#f22a35" stroke="#f22a35" stroke-width="0.4"/>
<circle cx="87.59" cy="33.95" r="3.0" fill="#f22a35" stroke="#f22a35" stroke-width="0.4"/>
<circle cx="87.68" cy="33.96" r="3.0" fill="#f22a35" stroke="#f22a35" stroke-width="0.4"/>
<circle cx="87.78" cy="33.96" r="3.0" fill="#f22a35" stroke="#f22a35" stroke-width="0.4"/>
<circle cx="87.87" cy="33.97" r="3.0" fill="#f22a35" stroke="#f22a35" stroke-width="0.4"/>
<circle cx="87.97" cy="33.97" r="3.0" fill="#f22a35" stroke="#f22a35" stroke-width="0.4"/>
<circle cx="88.07" cy="33.98" r="3.0" fill="#f22a35" stroke="#f22a35" stroke-width="0.4"/>
<circle cx="88.16" cy="33.98" r="3.0" fill="#f22a35" stroke="#f22a35" stroke-width="0.4"/>
<circle cx="88.26" cy="33.99" r="3.0" fill="#f22a35" stroke="#f22a35" stroke-width="0.4"/>
<circle cx="88.36" cy="33.99" r="3.0" fill="#f22a35" stroke="#f22a35" stroke-width="0.4"/>
<circle cx="88.46" cy="34.00" r="3.0" fill="#f22a35" stroke="#f22a35" stroke-width="0.4"/>
<circle cx="88.56" cy="34.01" r="3.0" fill="#f22a35" stroke="#f22a35" stroke-width="0.4"/>
<circle cx="88.66" cy="34.01" r="3.0" fill="#f22a35" stroke="#f22a35" stroke-width="0.4"/>
<circle cx="88.76" cy="34.02" r="3.0" fill="#f22a35" stroke="#f22a35" stroke-width="0.4"/>
<circle cx="88.86" cy="34.02" r="3.0" fill="#f22a35" stroke="#f22a35" stroke-width="0.4"/>
<circle cx="88.96" cy="34.03" r="3.0" fill="#f22a35" stroke="#f22a35" stroke-width="0.4"/>
<circle cx="89.07" cy="34.04" r="3.0" fill="#f22a35" stroke="#f22a35" stroke-width="0.4"/>
<circle cx="89.17" cy="34.04" r="3.0" fill="#f22a35" stroke="#f22a35" stroke-width="0.4"/>
<circle cx="89.27" cy="34.05" r="3.0" fill="#f22a35" stroke="#f22a35" stroke-width="0.4"/>
<circle cx="89.38" cy="34.05" r="3.0" fill="#f22a35" stroke="#f22a35" stroke-width="0.4"/>
<circle cx="89.48" cy="34.06" r="3.0" fill="#f22a35" stroke="#f22a35" stroke-width="0.4"/>
<circle cx="89.59" cy="34.07" r="3.0" fill="#f22a35" stroke="#f22a35" stroke-width="0.4"/>
<circle cx="89.69" cy="34.07" r="3.0" fill="#f22a35" stroke="#f22a35" stroke-width="0.4"/>
<circle cx="89.80" cy="34.08" r="3.0" fill="#f22a35" stroke="#f22a35" stroke-width="0.4"/>
<circle cx="89.91" cy="34.09" r="3.0" fill="#f22a35" stroke="#f22a35" stroke-width="0.4"/>
<circle cx="90.01" cy="34.09" r="3.0" fill="#f22a35" stroke="#f22a35" stroke-width="0.4"/>
<circle cx="90.12" cy="34.10" r="3.0" fill="#f22a35" stroke="#f22a35" stroke-width="0.4"/>
<circle cx="90.23" cy="34.11" r="3.0" fill="#f22a35" stroke="#f22a35" stroke-width="0.4"/>
<circle cx="90.34" cy="34.11" r="3.0" fill="#f22a35" stroke="#f22a35" stroke-width="0.4"/>
<circle cx="90.45" cy="34.12" r="3.0" fill="#f22a35" stroke="#f22a35" stroke-width="0.4"/>
<circle cx="90.56" cy="34.13" r="3.0" fill="#f22a35" stroke="#f22a35" stroke-width="0.4"/>
<circle cx="90.68" cy="34.13" r="3.0" fill="#f22a35" stroke="#f22a35" stroke-width="0.4"/>
<circle cx="90.79" cy="34.14" r="3.0" fill="#f22a35" stroke="#f22a35" stroke-width="0.4"/>
<circle cx="90.90" cy="34.15" r="3.0" fill="#f22a35" stroke="#f22a35" stroke-width="0.4"/>
<circle cx="91.01" cy="34.16" r="3.0" fill="#f22a35" stroke="#f22a35" stroke-width="0.4"/>
<circle cx="91.13" cy="34.16" r="3.0" fill="#f22a35" stroke="#f22a35" stroke-width="0.4"/>
<circle cx="91.24" cy="34.17" r="3.0" fill="#f22a35" stroke="#f22a35" stroke-width="0.4"/>
<circle cx="91.36" cy="34.18" r="3.0" fill="#f22a35" stroke="#f22a35" stroke-width="0.4"/>
<circle cx="91.48" cy="34.19" r="3.0" fill="#f22a35" stroke="#f22a35" stroke-width="0.4"/>
<circle cx="91.59" cy="34.19" r="3.0" fill="#f22a35" stroke="#f22a35" stroke-width="0.4"/>
<circle cx="91.71" cy="34.20" r="3.0" fill="#f22a35" stroke="#f22a35" stroke-width="0.4"/>
<circle cx="91.83" cy="34.21" r="3.0" fill="#f22a35" stroke="#f22a35" stroke-width="0.4"/>
<circle cx="91.95" cy="34.22" r="3.0" fill="#f22a35" stroke="#f22a35" stroke-width="0.4"/>
<circle cx="92.07" cy="34.22" r="3.0" fill="#f22a35" stroke="#f22a35" stroke-width="0.4"/>
<circle cx="92.19" cy="34.23" r="3.0" fill="#f22a35" stroke="#f22a35" stroke-width="0.4"/>
<circle cx="92.31" cy="34.24" r="3.0" fill="#f22a35" stroke="#f22a35" stroke-width="0.4"/>
<circle cx="92.44" cy="34.25" r="3.0" fill="#f22a35" stroke="#f22a35" stroke-width="0.4"/>
<circle cx="92.56" cy="34.26" r="3.0" fill="#f22a35" stroke="#f22a35" stroke-width="0.4"/>
<circle cx="92.68" cy="34.27" r="3.0" fill="#f22a35" stroke="#f22a35" stroke-width="0.4"/>
<circle cx="92.81" cy="34.27" r="3.0" fill="#f22a35" stroke="#f22a35" stroke-width="0.4"/>
<circle cx="92.93" cy="34.28" r="3.0" fill="#f22a35" stroke="#f22a35" stroke-width="0.4"/>
<circle cx="93.06" cy="34.29" r="3.0" fill="#f22a35" stroke="#f22a35" stroke-width="0.4"/>
<circle cx="93.19" cy="34.30" r="3.0" fill="#f22a35" stroke="#f22a35" stroke-width="0.4"/>
<circle cx="93.31" cy="34.31" r="3.0" fill="#f22a35" stroke="#f22a35" stroke-width="0.4"/>
<circle cx="93.44" cy="34.32" r="3.0" fill="#f22a35" stroke="#f22a35" stroke-width="0.4"/>
<circle cx="93.57" cy="34.33" r="3.0" fill="#f22a35" stroke="#f22a35" stroke-width="0.4"/>
<circle cx="93.70" cy="34.34" r="3.0" fill="#f22a35" stroke="#f22a35" stroke-width="0.4"/>
<circle cx="93.83" cy="34.34" r="3.0" fill="#f22a35" stroke="#f22a35" stroke-width="0.4"/>
<circle cx="93.96" cy="34.35" r="3.0" fill="#f22a35" stroke="#f22a35" stroke-width="0.4"/>
<circle cx="94.10" cy="34.36" r="3.0" fill="#f22a35" stroke="#f22a35" stroke-width="0.4"/>
<circle cx="94.23" cy="34.37" r="3.0" fill="#f22a35" stroke="#f22a35" stroke-width="0.4"/>
<circle cx="94.36" cy="34.38" r="3.0" fill="#f22a35" stroke="#f22a35" stroke-width="0.4"/>
<circle cx="94.50" cy="34.39" r="3.0" fill="#f22a35" stroke="#f22a35" stroke-width="0.4"/>
<circle cx="94.64" cy="34.40" r="3.0" fill="#f22a35" stroke="#f22a35" stroke-width="0.4"/>
<circle cx="94.77" cy="34.41" r="3.0" fill="#f22a35" stroke="#f22a35" stroke-width="0.4"/>
<circle cx="94.91" cy="34.42" r="3.0" fill="#f22a35" stroke="#f22a35" stroke-width="0.4"/>
<circle cx="95.05" cy="34.43" r="3.0" fill="#f22a35" stroke="#f22a35" stroke-width="0.4"/>
<circle cx="95.19" cy="34.44" r="3.0" fill="#f22a35" stroke="#f22a35" stroke-width="0.4"/>
<circle cx="95.33" cy="34.45" r="3.0" fill="#f22a35" stroke="#f22a35" stroke-width="0.4"/>
<circle cx="95.47" cy="34.46" r="3.0" fill="#f22a35" stroke="#f22a35" stroke-width="0.4"/>
<circle cx="95.61" cy="34.47" r="3.0" fill="#f22a35" stroke="#f22a35" stroke-width="0.4"/>
<circle cx="95.76" cy="34.48" r="3.0" fill="#f22a35" stroke="#f22a35" stroke-width="0.4"/>
<circle cx="95.90" cy="34.50" r="3.0" fill="#f22a35" stroke="#f22a35" stroke-width="0.4"/>
<circle cx="96.04" cy="34.51" r="3.0" fill="#f22a35" stroke="#f22a35" stroke-width="0.4"/>
<circle cx="96.19" cy="34.52" r="3.0" fill="#f22a35" stroke="#f22a35" stroke-width="0.4"/>
<circle cx="96.34" cy="34.53" r="3.0" fill="#f22a35" stroke="#f22a35" stroke-width="0.4"/>
<circle cx="96.48" cy="34.54" r="3.0" fill="#f22a35" stroke="#f22a35" stroke-width="0.4"/>
<circle cx="96.63" cy="34.55" r="3.0" fill="#f22a35" stroke="#f22a35" stroke-width="0.4"/>
<circle cx="96.78" cy="34.56" r="3.0" fill="#f22a35" stroke="#f22a35" stroke-width="0.4"/>
<circle cx="96.93" cy="34.57" r="3.0" fill="#f22a35" stroke="#f22a35" stroke-width="0.4"/>
<circle cx="97.09" cy="34.59" r="3.0" fill="#f22a35" stroke="#f22a35" stroke-width="0.4"/>
<circle cx="97.24" cy="34.60" r="3.0" fill="#f22a35" stroke="#f22a35" stroke-width="0.4"/>
<circle cx="97.39" cy="34.61" r="3.0" fill="#f22a35" stroke="#f22a35" stroke-width="0.4"/>
<circle cx="97.55" cy="34.62" r="3.0" fill="#f22a35" stroke="#f22a35" stroke-width="0.4"/>
<circle cx="97.70" cy="34.63" r="3.0" fill="#f22a35" stroke="#f22a35" stroke-width="0.4"/>
<circle cx="97.86" cy="34.65" r="3.0" fill="#f22a35" stroke="#f22a35" stroke-width="0.4"/>
<circle cx="98.02" cy="34.66" r="3.0" fill="#f22a35" stroke="#f22a35" stroke-width="0.4"/>
<circle cx="98.18" cy="34.67" r="3.0" fill="#f22a35" stroke="#f22a35" stroke-width="0.4"/>
<circle cx="98.34" cy="34.69" r="3.0" fill="#f22a35" stroke="#f22a35" stroke-width="0.4"/>
<circle cx="98.50" cy="34.70" r="3.0" fill="#f22a35" stroke="#f22a35" stroke-width="0.4"/>
<circle cx="98.66" cy="34.71" r="3.0" fill="#f22a35" stroke="#f22a35" stroke-width="0.4"/>
<circle cx="98.82" cy="34.73" r="3.0" fill="#f22a35" stroke="#f22a35" stroke-width="0.4"/>
<circle cx="98.99" cy="34.74" r="3.0" fill="#f22a35" stroke="#f22a35" stroke-width="0.4"/>
<circle cx="99.15" cy="34.75" r="3.0" fill="#f22a35" stroke="#f22a35" stroke-width="0.4"/>
<circle cx="99.32" cy="34.77" r="3.0" fill="#f22a35" stroke="#f22a35" stroke-width="0.4"/>
<circle cx="99.48" cy="34.78" r="3.0" fill="#f22a35" stroke="#f22a35" stroke-width="0.4"/>
<circle cx="99.65" cy="34.79" r="3.0" fill="#f22a35" stroke="#f22a35" stroke-width="0.4"/>
<circle cx="99.82" cy="34.81" r="3.0" fill="#f22a35" stroke="#f22a35" stroke-width="0.4"/>
<circle cx="99.99" cy="34.82" r="3.0" fill="#f22a35" stroke="#f22a35" stroke-width="0.4"/>
<circle cx="100.17" cy="34.84" r="3.0" fill="#f22a35" stroke="#f22a35" stroke-width="0.4"/>
<circle cx="100.34" cy="34.85" r="3.0" fill="#f22a35" stroke="#f22a35" stroke-width="0.4"/>
<circle cx="100.51" cy="34.87" r="3.0" fill="#f22a35" stroke="#f22a35" stroke-width="0.4"/>
<circle cx="100.69" cy="34.88" r="3.0" fill="#f22a35" stroke="#f22a35" stroke-width="0.4"/>
<circle cx="100.87" cy="34.90" r="3.0" fill="#f22a35" stroke="#f22a35" stroke-width="0.4"/>
<circle cx="101.04" cy="34.91" r="3.0" fill="#f22a35" stroke="#f22a35" stroke-width="0.4"/>
<circle cx="101.22" cy="34.93" r="3.0" fill="#f22a35" stroke="#f22a35" stroke-width="0.4"/>
<circle cx="101.40" cy="34.94" r="3.0" fill="#f22a35" stroke="#f22a35" stroke-width="0.4"/>
<circle cx="101.59" cy="34.96" r="3.0" fill="#f22a35" stroke="#f22a35" stroke-width="0.4"/>
<circle cx="101.77" cy="34.98" r="3.0" fill="#f22a35" stroke="#f22a35" stroke-width="0.4"/>
<circle cx="101.95" cy="34.99" r="3.0" fill="#f22a35" stroke="#f22a35" stroke-width="0.4"/>
<circle cx="102.14" cy="35.01" r="3.0" fill="#f22a35" stroke="#f22a35" stroke-width="0.4"/>
<circle cx="102.33" cy="35.03" r="3.0" fill="#f22a35" stroke="#f22a35" stroke-width="0.4"/>
<circle cx="102.51" cy="35.04" r="3.0" fill="#f22a35" stroke="#f22a35" stroke-width="0.4"/>
<circle cx="102.70" cy="35.06" r="3.0" fill="#f22a35" stroke="#f22a35" stroke-width="0.4"/>
<circle cx="102.89" cy="35.08" r="3.0" fill="#f22a35" stroke="#f22a35" stroke-width="0.4"/>
<circle cx="103.09" cy="35.10" r="3.0" fill="#f22a35" stroke="#f22a35" stroke-width="0.4"/>
<circle cx="103.28" cy="35.11" r="3.0" fill="#f22a35" stroke="#f22a35" stroke-width="0.4"/>
<circle cx="103.48" cy="35.13" r="3.0" fill="#f22a35" stroke="#f22a35" stroke-width="0.4"/>
<circle cx="103.67" cy="35.15" r="3.0" fill="#f22a35" stroke="#f22a35" stroke-width="0.4"/>
<circle cx="103.87" cy="35.17" r="3.0" fill="#f22a35" stroke="#f22a35" stroke-width="0.4"/>
<circle cx="104.07" cy="35.19" r="3.0" fill="#f22a35" stroke="#f22a35" stroke-width="0.4"/>
<circle cx="104.27" cy="35.21" r="3.0" fill="#f22a35" stroke="#f22a35" stroke-width="0.4"/>
<circle cx="104.47" cy="35.23" r="3.0" fill="#f22a35" stroke="#f22a35" stroke-width="0.4"/>
<circle cx="104.67" cy="35.25" r="3.0" fill="#f22a35" stroke="#f22a35" stroke-width="0.4"/>
<circle cx="104.88" cy="35.26" r="3.0" fill="#f22a35" stroke="#f22a35" stroke-width="0.4"/>
<circle cx="105.09" cy="35.28" r="3.0" fill="#f22a35" stroke="#f22a35" stroke-width="0.4"/>
<circle cx="105.29" cy="35.30" r="3.0" fill="#f22a35" stroke="#f22a35" stroke-width="0.4"/>
<circle cx="105.50" cy="35.33" r="3.0" fill="#f22a35" stroke="#f22a35" stroke-width="0.4"/>
<circle cx="105.71" cy="35.35" r="3.0" fill="#f22a35" stroke="#f22a35" stroke-width="0.4"/>
<circle cx="105.93" cy="35.37" r="3.0" fill="#f22a35" stroke="#f22a35" stroke-width="0.4"/>
<circle cx="106.14" cy="35.39" r="3.0" fill="#f22a35" stroke="#f22a35" stroke-width="0.4"/>
<circle cx="106.35" cy="35.41" r="3.0" fill="#f22a35" stroke="#f22a35" stroke-width="0.4"/>
<circle cx="106.57" cy="35.43" r="3.0" fill="#f22a35" stroke="#f22a35" stroke-width="0.4"/>
<circle cx="106.79" cy="35.45" r="3.0" fill="#f22a35" stroke="#f22a35" stroke-width="0.4"/>
<circle cx="107.01" cy="35.47" r="3.0" fill="#f22a35" stroke="#f22a35" stroke-width="0.4"/>
<circle cx="107.23" cy="35.50" r="3.0" fill="#f22a35" stroke="#f22a35" stroke-width="0.4"/>
<circle cx="107.46" cy="35.52" r="3.0" fill="#f22a35" stroke="#f22a35" stroke-width="0.4"/>
<circle cx="107.68" cy="35.54" r="3.0" fill="#f22a35" stroke="#f22a35" stroke-width="0.4"/>
<circle cx="107.91" cy="35.57" r="3.0" fill="#f22a35" stroke="#f22a35" stroke-width="0.4"/>
<circle cx="108.14" cy="35.59" r="3.0" fill="#f22a35" stroke="#f22a35" stroke-width="0.4"/>
<circle cx="108.37" cy="35.61" r="3.0" fill="#f22a35" stroke="#f22a35" stroke-width="0.4"/>
<circle cx="108.60" cy="35.64" r="3.0" fill="#f22a35" stroke="#f22a35" stroke-width="0.4"/>
<circle cx="108.83" cy="35.66" r="3.0" fill="#f22a35" stroke="#f22a35" stroke-width="0.4"/>
<circle cx="109.07" cy="35.69" r="3.0" fill="#f22a35" stroke="#f22a35" stroke-width="0.4"/>
<circle cx="109.30" cy="35.71" r="3.0" fill="#f22a35" stroke="#f22a35" stroke-width="0.4"/>
<circle cx="109.54" cy="35.74" r="3.0" fill="#f22a35" stroke="#f22a35" stroke-width="0.4"/>
<circle cx="109.78" cy="35.76" r="3.0" fill="#f22a35" stroke="#f22a35" stroke-width="0.4"/>
<circle cx="110.03" cy="35.79" r="3.0" fill="#f22a35" stroke="#f22a35" stroke-width="0.4"/>
<circle cx="110.27" cy="35.82" r="3.0" fill="#f22a35" stroke="#f22a35" stroke-width="0.4"/>
<circle cx="110.52" cy="35.84" r="3.0" fill="#f22a35" stroke="#f22a35" stroke-width="0.4"/>
<circle cx="110.76" cy="35.87" r="3.0" fill="#f22a35" stroke="#f22a35" stroke-width="0.4"/>
<circle cx="111.01" cy="35.90" r="3.0" fill="#f22a35" stroke="#f22a35" stroke-width="0.4"/>
<circle cx="111.27" cy="35.93" r="3.0" fill="#f22a35" stroke="#f22a35" stroke-width="0.4"/>
<circle cx="111.52" cy="35.95" r="3.0" fill="#f22a35" stroke="#f22a35" stroke-width="0.4"/>
<circle cx="111.78" cy="35.98" r="3.0" fill="#f22a35" stroke="#f22a35" stroke-width="0.4"/>
<circle cx="112.03" cy="36.01" r="3.0" fill="#f22a35" stroke="#f22a35" stroke-width="0.4"/>
<circle cx="112.29" cy="36.04" r="3.0" fill="#f22a35" stroke="#f22a35" stroke-width="0.4"/>
<circle cx="112.56" cy="36.07" r="3.0" fill="#f22a35" stroke="#f22a35" stroke-width="0.4"/>
<circle cx="112.82" cy="36.10" r="3.0" fill="#f22a35" stroke="#f22a35" stroke-width="0.4"/>
<circle cx="113.08" cy="36.13" r="3.0" fill="#f22a35" stroke="#f22a35" stroke-width="0.4"/>
<circle cx="113.35" cy="36.16" r="3.0" fill="#f22a35" stroke="#f22a35" stroke-width="0.4"/>
<circle cx="113.62" cy="36.19" r="3.0" fill="#f22a35" stroke="#f22a35" stroke-width="0.4"/>
<circle cx="113.89" cy="36.22" r="3.0" fill="#f22a35" stroke="#f22a35" stroke-width="0.4"/>
<circle cx="114.17" cy="36.26" r="3.0" fill="#f22a35" stroke="#f22a35" stroke-width="0.4"/>
<circle cx="114.45" cy="36.29" r="3.0" fill="#f22a35" stroke="#f22a35" stroke-width="0.4"/>
<circle cx="114.72" cy="36.32" r="3.0" fill="#f22a35" stroke="#f22a35" stroke-width="0.4"/>
<circle cx="115.00" cy="36.36" r="3.0" fill="#f22a35" stroke="#f22a35" stroke-width="0.4"/>
<circle cx="115.29" cy="36.39" r="3.0" fill="#f22a35" stroke="#f22a35" stroke-width="0.4"/>
<circle cx="115.57" cy="36.42" r="3.0" fill="#f22a35" stroke="#f22a35" stroke-width="0.4"/>
<circle cx="115.86" cy="36.46" r="3.0" fill="#f22a35" stroke="#f22a35" stroke-width="0.4"/>
<circle cx="116.15" cy="36.49" r="3.0" fill="#f22a35" stroke="#f22a35" stroke-width="0.4"/>
<circle cx="116.44" cy="36.53" r="3.0" fill="#f22a35" stroke="#f22a35" stroke-width="0.4"/>
<circle cx="116.74" cy="36.57" r="3.0" fill="#f22a35" stroke="#f22a35" stroke-width="0.4"/>
<circle cx="117.03" cy="36.60" r="3.0" fill="#f22a35" stroke="#f22a35" stroke-width="0.4"/>
<circle cx="117.33" cy="36.64" r="3.0" fill="#f22a35" stroke="#f22a35" stroke-width="0.4"/>
<circle cx="117.63" cy="36.68" r="3.0" fill="#f22a35" stroke="#f22a35" stroke-width="0.4"/>
<circle cx="117.94" cy="36.72" r="3.0" fill="#f22a35" stroke="#f22a35" stroke-width="0.4"/>
<circle cx="118.24" cy="36.75" r="3.0" fill="#f22a35" stroke="#f22a35" stroke-width="0.4"/>
<circle cx="118.55" cy="36.79" r="3.0" fill="#f22a35" stroke="#f22a35" stroke-width="0.4"/>
<circle cx="118.87" cy="36.83" r="3.0" fill="#f22a35" stroke="#f22a35" stroke-width="0.4"/>
<circle cx="119.18" cy="36.87" r="3.0" fill="#f22a35" stroke="#f22a35" stroke-width="0.4"/>
<circle cx="119.50" cy="36.91" r="3.0" fill="#f22a35" stroke="#f22a35" stroke-width="0.4"/>
<circle cx="119.82" cy="36.96" r="3.0" fill="#f22a35" stroke="#f22a35" stroke-width="0.4"/>
<circle cx="120.14" cy="37.00" r="3.0" fill="#f22a35" stroke="#f22a35" stroke-width="0.4"/>
<circle cx="120.46" cy="37.04" r="3.0" fill="#f22a35" stroke="#f22a35" stroke-width="0.4"/>
<circle cx="120.79" cy="37.08" r="3.0" fill="#f22a35" stroke="#f22a35" stroke-width="0.4"/>
<circle cx="121.12" cy="37.13" r="3.0" fill="#f22a35" stroke="#f22a35" stroke-width="0.4"/>
<circle cx="121.45" cy="37.17" r="3.0" fill="#f22a35" stroke="#f22a35" stroke-width="0.4"/>
<circle cx="121.79" cy="37.22" r="3.0" fill="#f22a35" stroke="#f22a35" stroke-width="0.4"/>
<circle cx="122.13" cy="37.26" r="3.0" fill="#f22a35" stroke="#f22a35" stroke-width="0.4"/>
<circle cx="122.47" cy="37.31" r="3.0" fill="#f22a35" stroke="#f22a35" stroke-width="0.4"/>
<circle cx="122.81" cy="37.36" r="3.0" fill="#f22a35" stroke="#f22a35" stroke-width="0.4"/>
<circle cx="123.16" cy="37.40" r="3.0" fill="#f22a35" stroke="#f22a35" stroke-width="0.4"/>
<circle cx="123.51" cy="37.45" r="3.0" fill="#f22a35" stroke="#f22a35" stroke-width="0.4"/>
<circle cx="123.86" cy="37.50" r="3.0" fill="#f22a35" stroke="#f22a35" stroke-width="0.4"/>
<circle cx="124.22" cy="37.55" r="3.0" fill="#f22a35" stroke="#f22a35" stroke-width="0.4"/>
<circle cx="124.57" cy="37.60" r="3.0" fill="#f22a35" stroke="#f22a35" stroke-width="0.4"/>
<circle cx="124.94" cy="37.65" r="3.0" fill="#f22a35" stroke="#f22a35" stroke-width="0.4"/>
<circle cx="125.30" cy="37.71" r="3.0" fill="#f22a35" stroke="#f22a35" stroke-width="0.4"/>
<circle cx="125.67" cy="37.76" r="3.0" fill="#f22a35" stroke="#f22a35" stroke-width="0.4"/>
<circle cx="126.04" cy="37.81" r="3.0" fill="#f22a35" stroke="#f22a35" stroke-width="0.4"/>
<circle cx="126.42" cy="37.87" r="3.0" fill="#f22a35" stroke="#f22a35" stroke-width="0.4"/>
<circle cx="126.79" cy="37.92" r="3.0" fill="#f22a35" stroke="#f22a35" stroke-width="0.4"/>
<circle cx="127.17" cy="37.98" r="3.0" fill="#f22a35" stroke="#f22a35" stroke-width="0.4"/>
<circle cx="127.56" cy="38.03" r="3.0" fill="#f22a35" stroke="#f22a35" stroke-width="0.4"/>
<circle cx="127.95" cy="38.09" r="3.0" fill="#f22a35" stroke="#f22a35" stroke-width="0.4"/>
<circle cx="128.34" cy="38.15" r="3.0" fill="#f22a35" stroke="#f22a35" stroke-width="0.4"/>
<circle cx="128.73" cy="38.21" r="3.0" fill="#f22a35" stroke="#f22a35" stroke-width="0.4"/>
<circle cx="129.13" cy="38.27" r="3.0" fill="#f22a35" stroke="#f22a35" stroke-width="0.4"/>
<circle cx="129.53" cy="38.33" r="3.0" fill="#f22a35" stroke="#f22a35" stroke-width="0.4"/>
<circle cx="129.94" cy="38.39" r="3.0" fill="#f22a35" stroke="#f22a35" stroke-width="0.4"/>
<circle cx="130.34" cy="38.46" r="3.0" fill="#f22a35" stroke="#f22a35" stroke-width="0.4"/>
<circle cx="130.76" cy="38.52" r="3.0" fill="#f22a35" stroke="#f22a35" stroke-width="0.4"/>
<circle cx="131.17" cy="38.58" r="3.0" fill="#f22a35" stroke="#f22a35" stroke-width="0.4"/>
<circle cx="131.59" cy="38.65" r="3.0" fill="#f22a35" stroke="#f22a35" stroke-width="0.4"/>
<circle cx="132.02" cy="38.72" r="3.0" fill="#f22a35" stroke="#f22a35" stroke-width="0.4"/>
<circle cx="132.44" cy="38.79" r="3.0" fill="#f22a35" stroke="#f22a35" stroke-width="0.4"/>
<circle cx="132.87" cy="38.85" r="3.0" fill="#f22a35" stroke="#f22a35" stroke-width="0.4"/>
<circle cx="133.31" cy="38.92" r="3.0" fill="#f22a35" stroke="#f22a35" stroke-width="0.4"/>
<circle cx="133.75" cy="39.00" r="3.0" fill="#f22a35" stroke="#f22a35" stroke-width="0.4"/>
<circle cx="134.19" cy="39.07" r="3.0" fill="#f22a35" stroke="#f22a35" stroke-width="0.4"/>
<circle cx="134.64" cy="39.14" r="3.0" fill="#f22a35" stroke="#f22a35" stroke-width="0.4"/>
<circle cx="135.09" cy="39.21" r="3.0" fill="#f22a35" stroke="#f22a35" stroke-width="0.4"/>
<circle cx="135.54" cy="39.29" r="3.0" fill="#f22a35" stroke="#f22a35" stroke-width="0.4"/>
<circle cx="136.00" cy="39.37" r="3.0" fill="#f22a35" stroke="#f22a35" stroke-width="0.4"/>
<circle cx="136.47" cy="39.44" r="3.0" fill="#f22a35" stroke="#f22a35" stroke-width="0.4"/>
<circle cx="136.94" cy="39.52" r="3.0" fill="#f22a35" stroke="#f22a35" stroke-width="0.4"/>
<circle cx="137.41" cy="39.60" r="3.0" fill="#f22a35" stroke="#f22a35" stroke-width="0.4"/>
<circle cx="137.88" cy="39.69" r="3.0" fill="#f22a35" stroke="#f22a35" stroke-width="0.4"/>
<circle cx="138.37" cy="39.77" r="3.0" fill="#f22a35" stroke="#f22a35" stroke-width="0.4"/>
<circle cx="138.85" cy="39.85" r="3.0" fill="#f22a35" stroke="#f22a35" stroke-width="0.4"/>
<circle cx="139.34" cy="39.94" r="3.0" fill="#f22a35" stroke="#f22a35" stroke-width="0.4"/>
<circle cx="139.84" cy="40.02" r="3.0" fill="#f22a35" stroke="#f22a35" stroke-width="0.4"/>
<circle cx="140.34" cy="40.11" r="3.0" fill="#f22a35" stroke="#f22a35" stroke-width="0.4"/>
<circle cx="140.84" cy="40.20" r="3.0" fill="#f22a35" stroke="#f22a35" stroke-width="0.4"/>
<circle cx="141.35" cy="40.29" r="3.0" fill="#f22a35" stroke="#f22a35" stroke-width="0.4"/>
<circle cx="141.86" cy="40.39" r="3.0" fill="#f22a35" stroke="#f22a35" stroke-width="0.4"/>
<circle cx="142.38" cy="40.48" r="3.0" fill="#f22a35" stroke="#f22a35" stroke-width="0.4"/>
<circle cx="142.90" cy="40.58" r="3.0" fill="#f22a35" stroke="#f22a35" stroke-width="0.4"/>
<circle cx="143.43" cy="40.67" r="3.0" fill="#f22a35" stroke="#f22a35" stroke-width="0.4"/>
<circle cx="143.97" cy="40.77" r="3.0" fill="#f22a35" stroke="#f22a35" stroke-width="0.4"/>
<circle cx="144.51" cy="40.87" r="3.0" fill="#f22a35" stroke="#f22a35" stroke-width="0.4"/>
<circle cx="145.05" cy="40.97" r="3.0" fill="#f22a35" stroke="#f22a35" stroke-width="0.4"/>
<circle cx="145.60" cy="41.08" r="3.0" fill="#f22a35" stroke="#f22a35" stroke-width="0.4"/>
<circle cx="146.15" cy="41.18" r="3.0" fill="#f22a35" stroke="#f22a35" stroke-width="0.4"/>
<circle cx="146.71" cy="41.29" r="3.0" fill="#f22a35" stroke="#f22a35" stroke-width="0.4"/>
<circle cx="147.28" cy="41.40" r="3.0" fill="#f22a35" stroke="#f22a35" stroke-width="0.4"/>
<circle cx="147.85" cy="41.51" r="3.0" fill="#f22a35" stroke="#f22a35" stroke-width="0.4"/>
<circle cx="148.43" cy="41.62" r="3.0" fill="#f22a35" stroke="#f22a35" stroke-width="0.4"/>
<circle cx="149.01" cy="41.73" r="3.0" fill="#f22a35" stroke="#f22a35" stroke-width="0.4"/>
<circle cx="149.60" cy="41.85" r="3.0" fill="#f22a35" stroke="#f22a35" stroke-width="0.4"/>
<circle cx="150.19" cy="41.97" r="3.0" fill="#f22a35" stroke="#f22a35" stroke-width="0.4"/>
<circle cx="150.79" cy="42.09" r="3.0" fill="#f22a35" stroke="#f22a35" stroke-width="0.4"/>
<circle cx="151.40" cy="42.21" r="3.0" fill="#f22a35" stroke="#f22a35" stroke-width="0.4"/>
<circle cx="152.01" cy="42.33" r="3.0" fill="#f22a35" stroke="#f22a35" stroke-width="0.4"/>
<circle cx="152.63" cy="42.46" r="3.0" fill="#f22a35" stroke="#f22a35" stroke-width="0.4"/>
<circle cx="153.25" cy="42.59" r="3.0" fill="#f22a35" stroke="#f22a35" stroke-width="0.4"/>
<circle cx="153.89" cy="42.72" r="3.0" fill="#f22a35" stroke="#f22a35" stroke-width="0.4"/>
<circle cx="154.52" cy="42.85" r="3.0" fill="#f22a35" stroke="#f22a35" stroke-width="0.4"/>
<circle cx="155.17" cy="42.99" r="3.0" fill="#f22a35" stroke="#f22a35" stroke-width="0.4"/>
<circle cx="155.82" cy="43.13" r="3.0" fill="#f22a35" stroke="#f22a35" stroke-width="0.4"/>
<circle cx="156.47" cy="43.27" r="3.0" fill="#f22a35" stroke="#f22a35" stroke-width="0.4"/>
<circle cx="157.14" cy="43.41" r="3.0" fill="#f22a35" stroke="#f22a35" stroke-width="0.4"/>
<circle cx="157.81" cy="43.55" r="3.0" fill="#f22a35" stroke="#f22a35" stroke-width="0.4"/>
<circle cx="158.49" cy="43.70" r="3.0" fill="#f22a35" stroke="#f22a35" stroke-width="0.4"/>
<circle cx="159.17" cy="43.85" r="3.0" fill="#f22a35" stroke="#f22a35" stroke-width="0.4"/>
<circle cx="159.86" cy="44.00" r="3.0" fill="#f22a35" stroke="#f22a35" stroke-width="0.4"/>
<circle cx="160.56" cy="44.16" r="3.0" fill="#f22a35" stroke="#f22a35" stroke-width="0.4"/>
<circle cx="161.27" cy="44.31" r="3.0" fill="#f22a35" stroke="#f22a35" stroke-width="0.4"/>
<circle cx="161.98" cy="44.47" r="3.0" fill="#f22a35" stroke="#f22a35" stroke-width="0.4"/>
<circle cx="162.71" cy="44.64" r="3.0" fill="#f22a35" stroke="#f22a35" stroke-width="0.4"/>
<circle cx="163.43" cy="44.80" r="3.0" fill="#f22a35" stroke="#f22a35" stroke-width="0.4"/>
<circle cx="164.17" cy="44.97" r="3.0" fill="#f22a35" stroke="#f22a35" stroke-width="0.4"/>
<circle cx="164.92" cy="45.15" r="3.0" fill="#f22a35" stroke="#f22a35" stroke-width="0.4"/>
<circle cx="165.67" cy="45.32" r="3.0" fill="#f22a35" stroke="#f22a35" stroke-width="0.4"/>
<circle cx="166.43" cy="45.50" r="3.0" fill="#f22a35" stroke="#f22a35" stroke-width="0.4"/>
<circle cx="167.20" cy="45.68" r="3.0" fill="#f22a35" stroke="#f22a35" stroke-width="0.4"/>
<circle cx="167.98" cy="45.87" r="3.0" fill="#f22a35" stroke="#f22a35" stroke-width="0.4"/>
<circle cx="168.76" cy="46.06" r="3.0" fill="#f22a35" stroke="#f22a35" stroke-width="0.4"/>
<circle cx="169.56" cy="46.25" r="3.0" fill="#f22a35" stroke="#f22a35" stroke-width="0.4"/>
<circle cx="170.36" cy="46.44" r="3.0" fill="#f22a35" stroke="#f22a35" stroke-width="0.4"/>
<circle cx="171.17" cy="46.64" r="3.0" fill="#f22a35" stroke="#f22a35" stroke-width="0.4"/>
<circle cx="171.99" cy="46.84" r="3.0" fill="#f22a35" stroke="#f22a35" stroke-width="0.4"/>
<circle cx="172.82" cy="47.05" r="3.0" fill="#f22a35" stroke="#f22a35" stroke-width="0.4"/>
<circle cx="173.66" cy="47.26" r="3.0" fill="#f22a35" stroke="#f22a35" stroke-width="0.4"/>
<circle cx="174.51" cy="47.48" r="3.0" fill="#f22a35" stroke="#f22a35" stroke-width="0.4"/>
<circle cx="175.37" cy="47.69" r="3.0" fill="#f22a35" stroke="#f22a35" stroke-width="0.4"/>
<circle cx="176.23" cy="47.92" r="3.0" fill="#f22a35" stroke="#f22a35" stroke-width="0.4"/>
<circle cx="177.11" cy="48.14" r="3.0" fill="#f22a35" stroke="#f22a35" stroke-width="0.4"/>
<circle cx="178.00" cy="48.37" r="3.0" fill="#f22a35" stroke="#f22a35" stroke-width="0.4"/>
<circle cx="178.90" cy="48.61" r="3.0" fill="#f22a35" stroke="#f22a35" stroke-width="0.4"/>
<circle cx="179.80" cy="48.85" r="3.0" fill="#f22a35" stroke="#f22a35" stroke-width="0.4"/>
<circle cx="180.72" cy="49.09" r="3.0" fill="#f22a35" stroke="#f22a35" stroke-width="0.4"/>
<circle cx="181.65" cy="49.34" r="3.0" fill="#f22a35" stroke="#f22a35" stroke-width="0.4"/>
<circle cx="182.59" cy="49.59" r="3.0" fill="#f22a35" stroke="#f22a35" stroke-width="0.4"/>
<circle cx="183.54" cy="49.85" r="3.0" fill="#f22a35" stroke="#f22a35" stroke-width="0.4"/>
<circle cx="184.50" cy="50.11" r="3.0" fill="#f22a35" stroke="#f22a35" stroke-width="0.4"/>
<circle cx="185.47" cy="50.38" r="3.0" fill="#f22a35" stroke="#f22a35" stroke-width="0.4"/>
<circle cx="186.45" cy="50.66" r="3.0" fill="#f22a35" stroke="#f22a35" stroke-width="0.4"/>
<circle cx="187.44" cy="50.94" r="3.0" fill="#f22a35" stroke="#f22a35" stroke-width="0.4"/>
<circle cx="188.45" cy="51.22" r="3.0" fill="#f22a35" stroke="#f22a35" stroke-width="0.4"/>
<circle cx="189.47" cy="51.51" r="3.0" fill="#f22a35" stroke="#f22a35" stroke-width="0.4"/>
<circle cx="190.50" cy="51.81" r="3.0" fill="#f22a35" stroke="#f22a35" stroke-width="0.4"/>
<circle cx="191.54" cy="52.11" r="3.0" fill="#f22a35" stroke="#f22a35" stroke-width="0.4"/>
<circle cx="192.59" cy="52.41" r="3.0" fill="#f22a35" stroke="#f22a35" stroke-width="0.4"/>
<circle cx="193.66" cy="52.73" r="3.0" fill="#f22a35" stroke="#f22a35" stroke-width="0.4"/>
<circle cx="194.74" cy="53.05" r="3.0" fill="#f22a35" stroke="#f22a35" stroke-width="0.4"/>
<circle cx="195.83" cy="53.37" r="3.0" fill="#f22a35" stroke="#f22a35" stroke-width="0.4"/>
<circle cx="196.94" cy="53.71" r="3.0" fill="#f22a35" stroke="#f22a35" stroke-width="0.4"/>
<circle cx="198.06" cy="54.04" r="3.0" fill="#f22a35" stroke="#f22a35" stroke-width="0.4"/>
<circle cx="199.19" cy="54.39" r="3.0" fill="#f22a35" stroke="#f22a35" stroke-width="0.4"/>
<circle cx="200.34" cy="54.74" r="3.0" fill="#f22a35" stroke="#f22a35" stroke-width="0.4"/>
<circle cx="201.50" cy="55.10" r="3.0" fill="#f22a35" stroke="#f22a35" stroke-width="0.4"/>
<circle cx="202.67" cy="55.47" r="3.0" fill="#f22a35" stroke="#f22a35" stroke-width="0.4"/>
<circle cx="203.86" cy="55.85" r="3.0" fill="#f22a35" stroke="#f22a35" stroke-width="0.4"/>
<circle cx="205.07" cy="56.23" r="3.0" fill="#f22a35" stroke="#f22a35" stroke-width="0.4"/>
<circle cx="206.28" cy="56.62" r="3.0" fill="#f22a35" stroke="#f22a35" stroke-width="0.4"/>
<circle cx="207.52" cy="57.02" r="3.0" fill="#f22a35" stroke="#f22a35" stroke-width="0.4"/>
<circle cx="208.77" cy="57.43" r="3.0" fill="#f22a35" stroke="#f22a35" stroke-width="0.4"/>
<circle cx="210.03" cy="57.84" r="3.0" fill="#f22a35" stroke="#f22a35" stroke-width="0.4"/>
<circle cx="211.31" cy="58.27" r="3.0" fill="#f22a35" stroke="#f22a35" stroke-width="0.4"/>
<circle cx="212.61" cy="58.70" r="3.0" fill="#f22a35" stroke="#f22a35" stroke-width="0.4"/>
<circle cx="213.93" cy="59.14" r="3.0" fill="#f22a35" stroke="#f22a35" stroke-width="0.4"/>
<circle cx="215.26" cy="59.59" r="3.0" fill="#f22a35" stroke="#f22a35" stroke-width="0.4"/>
<circle cx="216.60" cy="60.05" r="3.0" fill="#f22a35" stroke="#f22a35" stroke-width="0.4"/>
<circle cx="217.97" cy="60.52" r="3.0" fill="#f22a35" stroke="#f22a35" stroke-width="0.4"/>
<circle cx="219.35" cy="61.00" r="3.0" fill="#f22a35" stroke="#f22a35" stroke-width="0.4"/>
<circle cx="220.75" cy="61.50" r="3.0" fill="#f22a35" stroke="#f22a35" stroke-width="0.4"/>
<circle cx="222.17" cy="62.00" r="3.0" fill="#f22a35" stroke="#f22a35" stroke-width="0.4"/>
<circle cx="223.61" cy="62.51" r="3.0" fill="#f22a35" stroke="#f22a35" stroke-width="0.4"/>
<circle cx="225.07" cy="63.03" r="3.0" fill="#f22a35" stroke="#f22a35" stroke-width="0.4"/>
<circle cx="226.54" cy="63.57" r="3.0" fill="#f22a35" stroke="#f22a35" stroke-width="0.4"/>
<circle cx="228.04" cy="64.11" r="3.0" fill="#f22a35" stroke="#f22a35" stroke-width="0.4"/>
<circle cx="229.55" cy="64.67" r="3.0" fill="#f22a35" stroke="#f22a35" stroke-width="0.4"/>
<circle cx="231.09" cy="65.24" r="3.0" fill="#f22a35" stroke="#f22a35" stroke-width="0.4"/>
<circle cx="232.64" cy="65.83" r="3.0" fill="#f22a35" stroke="#f22a35" stroke-width="0.4"/>
<circle cx="234.22" cy="66.42" r="3.0" fill="#f22a35" stroke="#f22a35" stroke-width="0.4"/>
<circle cx="235.82" cy="67.03" r="3.0" fill="#f22a35" stroke="#f22a35" stroke-width="0.4"/>
<circle cx="237.44" cy="67.65" r="3.0" fill="#f22a35" stroke="#f22a35" stroke-width="0.4"/>
<circle cx="239.08" cy="68.29" r="3.0" fill="#f22a35" stroke="#f22a35" stroke-width="0.4"/>
<circle cx="240.74" cy="68.94" r="3.0" fill="#f22a35" stroke="#f22a35" stroke-width="0.4"/>
<circle cx="242.43" cy="69.61" r="3.0" fill="#f22a35" stroke="#f22a35" stroke-width="0.4"/>
<circle cx="244.14" cy="70.29" r="3.0" fill="#f22a35" stroke="#f22a35" stroke-width="0.4"/>
<circle cx="245.87" cy="70.98" r="3.0" fill="#f22a35" stroke="#f22a35" stroke-width="0.4"/>
<circle cx="247.63" cy="71.69" r="3.0" fill="#f22a35" stroke="#f22a35" stroke-width="0.4"/>
<circle cx="249.41" cy="72.42" r="3.0" fill="#f22a35" stroke="#f22a35" stroke-width="0.4"/>
<circle cx="251.22" cy="73.16" r="3.0" fill="#f22a35" stroke="#f22a35" stroke-width="0.4"/>
<circle cx="253.06" cy="73.93" r="3.0" fill="#f22a35" stroke="#f22a35" stroke-width="0.4"/>
<circle cx="254.91" cy="74.70" r="3.0" fill="#f22a35" stroke="#f22a35" stroke-width="0.4"/>
<circle cx="256.80" cy="75.50" r="3.0" fill="#f22a35" stroke="#f22a35" stroke-width="0.4"/>
<circle cx="258.71" cy="76.32" r="3.0" fill="#f22a35" stroke="#f22a35" stroke-width="0.4"/>
<circle cx="260.65" cy="77.15" r="3.0" fill="#f22a35" stroke="#f22a35" stroke-width="0.4"/>
<circle cx="262.62" cy="78.00" r="3.0" fill="#f22a35" stroke="#f22a35" stroke-width="0.4"/>
<circle cx="264.62" cy="78.88" r="3.0" fill="#f22a35" stroke="#f22a35" stroke-width="0.4"/>
<circle cx="266.64" cy="79.77" r="3.0" fill="#f22a35" stroke="#f22a35" stroke-width="0.4"/>
<circle cx="268.70" cy="80.68" r="3.0" fill="#f22a35" stroke="#f22a35" stroke-width="0.4"/>
<circle cx="270.78" cy="81.62" r="3.0" fill="#f22a35" stroke="#f22a35" stroke-width="0.4"/>
<circle cx="272.90" cy="82.58" r="3.0" fill="#f22a35" stroke="#f22a35" stroke-width="0.4"/>
<circle cx="275.04" cy="83.56" r="3.0" fill="#f22a35" stroke="#f22a35" stroke-width="0.4"/>
<circle cx="277.22" cy="84.56" r="3.0" fill="#f22a35" stroke="#f22a35" stroke-width="0.4"/>
<circle cx="279.43" cy="85.59" r="3.0" fill="#f22a35" stroke="#f22a35" stroke-width="0.4"/>
<circle cx="281.68" cy="86.65" r="3.0" fill="#f22a35" stroke="#f22a35" stroke-width="0.4"/>
<circle cx="283.96" cy="87.73" r="3.0" fill="#f22a35" stroke="#f22a35" stroke-width="0.4"/>
<circle cx="286.27" cy="88.83" r="3.0" fill="#f22a35" stroke="#f22a35" stroke-width="0.4"/>
<circle cx="288.62" cy="89.96" r="3.0" fill="#f22a35" stroke="#f22a35" stroke-width="0.4"/>
<circle cx="291.00" cy="91.12" r="3.0" fill="#f22a35" stroke="#f22a35" stroke-width="0.4"/>
<circle cx="293.42" cy="92.31" r="3.0" fill="#f22a35" stroke="#f22a35" stroke-width="0.4"/>
<circle cx="295.88" cy="93.53" r="3.0" fill="#f22a35" stroke="#f22a35" stroke-width="0.4"/>
<circle cx="298.38" cy="94.77" r="3.0" fill="#f22a35" stroke="#f22a35" stroke-width="0.4"/>
<circle cx="300.91" cy="96.05" r="3.0" fill="#f22a35" stroke="#f22a35" stroke-width="0.4"/>
<circle cx="303.49" cy="97.36" r="3.0" fill="#f22a35" stroke="#f22a35" stroke-width="0.4"/>
<circle cx="306.10" cy="98.70" r="3.0" fill="#f22a35" stroke="#f22a35" stroke-width="0.4"/>
<circle cx="308.76" cy="100.07" r="3.0" fill="#f22a35" stroke="#f22a35" stroke-width="0.4"/>
<circle cx="311.46" cy="101.48" r="3.0" fill="#f22a35" stroke="#f22a35" stroke-width="0.4"/>
<circle cx="314.20" cy="102.93" r="3.0" fill="#f22a35" stroke="#f22a35" stroke-width="0.4"/>
<circle cx="316.98" cy="104.41" r="3.0" fill="#f22a35" stroke="#f22a35" stroke-width="0.4"/>
<circle cx="319.81" cy="105.93" r="3.0" fill="#f22a35" stroke="#f22a35" stroke-width="0.4"/>
<circle cx="322.69" cy="107.48" r="3.0" fill="#f22a35" stroke="#f22a35" stroke-width="0.4"/>
<circle cx="325.61" cy="109.08" r="3.0" fill="#f22a35" stroke="#f22a35" stroke-width="0.4"/>
<circle cx="328.58" cy="110.72" r="3.0" fill="#f22a35" stroke="#f22a35" stroke-width="0.4"/>
<circle cx="331.60" cy="112.40" r="3.0" fill="#f22a35" stroke="#f22a35" stroke-width="0.4"/>
<circle cx="334.67" cy="114.12" r="3.0" fill="#f22a35" stroke="#f22a35" stroke-width="0.4"/>
<circle cx="337.79" cy="115.88" r="3.0" fill="#f22a35" stroke="#f22a35" stroke-width="0.4"/>
<circle cx="340.97" cy="117.69" r="3.0" fill="#f22a35" stroke="#f22a35" stroke-width="0.4"/>
<circle cx="344.19" cy="119.55" r="3.0" fill="#f22a35" stroke="#f22a35" stroke-width="0.4"/>
<circle cx="347.47" cy="121.46" r="3.0" fill="#f22a35" stroke="#f22a35" stroke-width="0.4"/>
<circle cx="350.81" cy="123.42" r="3.0" fill="#f22a35" stroke="#f22a35" stroke-width="0.4"/>
<circle cx="354.20" cy="125.42" r="3.0" fill="#f22a35" stroke="#f22a35" stroke-width="0.4"/>
<circle cx="357.66" cy="127.48" r="3.0" fill="#f22a35" stroke="#f22a35" stroke-width="0.4"/>
<circle cx="361.17" cy="129.59" r="3.0" fill="#f22a35" stroke="#f22a35" stroke-width="0.4"/>
<circle cx="364.74" cy="131.76" r="3.0" fill="#f22a35" stroke="#f22a35" stroke-width="0.4"/>
<circle cx="368.37" cy="133.99" r="3.0" fill="#f22a35" stroke="#f22a35" stroke-width="0.4"/>
<circle cx="372.07" cy="136.27" r="3.0" fill="#f22a35" stroke="#f22a35" stroke-width="0.4"/>
<circle cx="375.83" cy="138.62" r="3.0" fill="#f22a35" stroke="#f22a35" stroke-width="0.4"/>
<circle cx="379.66" cy="141.03" r="3.0" fill="#f22a35" stroke="#f22a35" stroke-width="0.4"/>
<circle cx="383.56" cy="143.50" r="3.0" fill="#f22a35" stroke="#f22a35" stroke-width="0.4"/>
<circle cx="387.53" cy="146.04" r="3.0" fill="#f22a35" stroke="#f22a35" stroke-width="0.4"/>
<circle cx="391.56" cy="148.64" r="3.0" fill="#f22a35" stroke="#f22a35" stroke-width="0.4"/>
<circle cx="395.68" cy="151.32" r="3.0" fill="#f22a35" stroke="#f22a35" stroke-width="0.4"/>
<circle cx="399.86" cy="154.06" r="3.0" fill="#f22a35" stroke="#f22a35" stroke-width="0.4"/>
<circle cx="404.13" cy="156.89" r="3.0" fill="#f22a35" stroke="#f22a35" stroke-width="0.4"/>
<circle cx="408.47" cy="159.78" r="3.0" fill="#f22a35" stroke="#f22a35" stroke-width="0.4"/>
<circle cx="412.89" cy="162.76" r="3.0" fill="#f22a35" stroke="#f22a35" stroke-width="0.4"/>
<circle cx="417.39" cy="165.81" r="3.0" fill="#f22a35" stroke="#f22a35" stroke-width="0.4"/>
<circle cx="421.98" cy="168.95" r="3.0" fill="#f22a35" stroke="#f22a35" stroke-width="0.4"/>
<circle cx="426.66" cy="172.18" r="3.0" fill="#f22a35" stroke="#f22a35" stroke-width="0.4"/>
<circle cx="431.42" cy="175.49" r="3.0" fill="#f22a35" stroke="#f22a35" stroke-width="0.4"/>
<circle cx="436.27" cy="178.89" r="3.0" fill="#f22a35" stroke="#f22a35" stroke-width="0.4"/>
<circle cx="441.22" cy="182.38" r="3.0" fill="#f22a35" stroke="#f22a35" stroke-width="0.4"/>
<circle cx="446.26" cy="185.97" r="3.0" fill="#f22a35" stroke="#f22a35" stroke-width="0.4"/>
<circle cx="451.40" cy="189.66" r="3.0" fill="#f22a35" stroke="#f22a35" stroke-width="0.4"/>
<circle cx="456.65" cy="193.45" r="3.0" fill="#f22a35" stroke="#f22a35" stroke-width="0.4"/>
<circle cx="461.99" cy="197.34" r="3.0" fill="#f22a35" stroke="#f22a35" stroke-width="0.4"/>
<circle cx="467.44" cy="201.34" r="3.0" fill="#f22a35" stroke="#f22a35" stroke-width="0.4"/>
<circle cx="473.00" cy="205.45" r="3.0" fill="#f22a35" stroke="#f22a35" stroke-width="0.4"/>
<circle cx="478.66" cy="209.67" r="3.0" fill="#f22a35" stroke="#f22a35" stroke-width="0.4"/>
<circle cx="484.45" cy="214.01" r="3.0" fill="#f22a35" stroke="#f22a35" stroke-width="0.4"/>
<polyline points="92.12,32.30 93.12,32.33 94.13,32.36 95.13,32.39 96.14,32.42 97.14,32.45 98.14,32.48 99.15,32.52 100.15,32.55 101.15,32.59 102.16,32.63 103.16,32.67 104.17,32.71 105.17,32.75 106.17,32.80 107.18,32.84 108.18,32.89 109.18,32.93 110.19,32.98 111.19,33.03 112.20,33.08 113.20,33.13 114.20,33.18 115.21,33.24 116.21,33.29 117.21,33.35 118.22,33.40 119.22,33.46 120.22,33.52 121.23,33.58 122.23,33.64 123.24,33.70 124.24,33.77 125.24,33.83 126.25,33.90 127.25,33.97 128.25,34.03 129.26,34.10 130.26,34.17 131.27,34.25 132.27,34.32 133.27,34.39 134.28,34.47 135.28,34.54 136.28,34.62 137.29,34.70 138.29,34.78 139.30,34.86 140.30,34.94 141.30,35.02 142.31,35.11 143.31,35.19 144.31,35.28 145.32,35.36 146.32,35.45 147.32,35.54 148.33,35.63 149.33,35.72 150.34,35.82 151.34,35.91 152.34,36.00 153.35,36.10 154.35,36.20 155.35,36.29 156.36,36.39 157.36,36.49 158.37,36.59 159.37,36.69 160.37,36.80 161.38,36.90 162.38,37.01 163.38,37.11 164.39,37.22 165.39,37.33 166.40,37.44 167.40,37.55 168.40,37.66 169.41,37.77 170.41,37.88 171.41,38.00 172.42,38.11 173.42,38.23 174.42,38.35 175.43,38.47 176.43,38.59 177.44,38.71 178.44,38.83 179.44,38.95 180.45,39.07 181.45,39.20 182.45,39.32 183.46,39.45 184.46,39.58 185.47,39.71 186.47,39.84 187.47,39.97 188.48,40.10 189.48,40.23 190.48,40.36 191.49,40.50 192.49,40.63 193.50,40.77 194.50,40.91 195.50,41.05 196.51,41.19 197.51,41.33 198.51,41.47 199.52,41.61 200.52,41.75 201.53,41.90 202.53,42.04 203.53,42.19 204.54,42.33 205.54,42.48 206.54,42.63 207.55,42.78 208.55,42.93 209.55,43.08 210.56,43.24 211.56,43.39 212.57,43.54 213.57,43.70 214.57,43.86 215.58,44.01 216.58,44.17 217.58,44.33 218.59,44.49 219.59,44.65 220.60,44.82 221.60,44.98 222.60,45.14 223.61,45.31 224.61,45.47 225.61,45.64 226.62,45.81 227.62,45.97 228.63,46.14 229.63,46.31 230.63,46.49 231.64,46.66 232.64,46.83 233.64,47.00 234.65,47.18 235.65,47.35 236.65,47.53 237.66,47.71 238.66,47.89 239.67,48.07 240.67,48.25 241.67,48.43 242.68,48.61 243.68,48.79 244.68,48.97 245.69,49.16 246.69,49.34 247.70,49.53 248.70,49.72 249.70,49.90 250.71,50.09 251.71,50.28 252.71,50.47 253.72,50.66 254.72,50.86 255.73,51.05 256.73,51.24 257.73,51.44 258.74,51.63 259.74,51.83 260.74,52.02 261.75,52.22 262.75,52.42 263.75,52.62 264.76,52.82 265.76,53.02 266.77,53.22 267.77,53.43 268.77,53.63 269.78,53.84 270.78,54.04 271.78,54.25 272.79,54.45 273.79,54.66 274.80,54.87 275.80,55.08 276.80,55.29 277.81,55.50 278.81,55.71 279.81,55.92 280.82,56.14 281.82,56.35 282.83,56.57 283.83,56.78 284.83,57.00 285.84,57.21 286.84,57.43 287.84,57.65 288.85,57.87 289.85,58.09 290.85,58.31 291.86,58.53 292.86,58.76 293.87,58.98 294.87,59.20 295.87,59.43 296.88,59.65 297.88,59.88 298.88,60.11 299.89,60.33 300.89,60.56 301.90,60.79 302.90,61.02 303.90,61.25 304.91,61.48 305.91,61.72 306.91,61.95 307.92,62.18 308.92,62.42 309.93,62.65 310.93,62.89 311.93,63.13 312.94,63.36 313.94,63.60 314.94,63.84 315.95,64.08 316.95,64.32 317.96,64.56 318.96,64.80 319.96,65.04 320.97,65.29 321.97,65.53 322.97,65.78 323.98,66.02 324.98,66.27 325.98,66.51 326.99,66.76 327.99,67.01 329.00,67.26 330.00,67.51 331.00,67.76 332.01,68.01 333.01,68.26 334.01,68.51 335.02,68.76 336.02,69.01 337.03,69.27 338.03,69.52 339.03,69.78 340.04,70.03 341.04,70.29 342.04,70.55 343.05,70.81 344.05,71.06 345.06,71.32 346.06,71.58 347.06,71.84 348.07,72.11 349.07,72.37 350.07,72.63 351.08,72.89 352.08,73.16 353.08,73.42 354.09,73.69 355.09,73.95 356.10,74.22 357.10,74.48 358.10,74.75 359.11,75.02 360.11,75.29 361.11,75.56 362.12,75.83 363.12,76.10 364.13,76.37 365.13,76.64 366.13,76.91 367.14,77.19 368.14,77.46 369.14,77.73 370.15,78.01 371.15,78.28 372.16,78.56 373.16,78.84 374.16,79.11 375.17,79.39 376.17,79.67 377.17,79.95 378.18,80.23 379.18,80.51 380.18,80.79 381.19,81.07 382.19,81.35 383.20,81.63 384.20,81.91 385.20,82.20 386.21,82.48 387.21,82.77 388.21,83.05 389.22,83.34 390.22,83.62 391.23,83.91 392.23,84.20 393.23,84.48 394.24,84.77 395.24,85.06 396.24,85.35 397.25,85.64 398.25,85.93 399.26,86.22 400.26,86.51 401.26,86.81 402.27,87.10 403.27,87.39 404.27,87.69 405.28,87.98 406.28,88.27 407.28,88.57 408.29,88.86 409.29,89.16 410.30,89.46 411.30,89.76 412.30,90.05 413.31,90.35 414.31,90.65 415.31,90.95 416.32,91.25 417.32,91.55 418.33,91.85 419.33,92.15 420.33,92.45 421.34,92.75 422.34,93.06 423.34,93.36 424.35,93.66 425.35,93.97 426.36,94.27 427.36,94.58 428.36,94.88 429.37,95.19 430.37,95.49 431.37,95.80 432.38,96.11 433.38,96.42 434.39,96.72 435.39,97.03 436.39,97.34 437.40,97.65 438.40,97.96 439.40,98.27 440.41,98.58 441.41,98.90 442.41,99.21 443.42,99.52 444.42,99.83 445.43,100.14 446.43,100.46 447.43,100.77 448.44,101.09 449.44,101.40 450.44,101.72 451.45,102.03 452.45,102.35 453.46,102.66 454.46,102.98 455.46,103.30 456.47,103.62 457.47,103.93 458.47,104.25 459.48,104.57 460.48,104.89 461.49,105.21 462.49,105.53 463.49,105.85 464.50,106.17 465.50,106.49 466.50,106.82 467.51,107.14 468.51,107.46 469.51,107.78 470.52,108.11 471.52,108.43 472.53,108.75 473.53,109.08 474.53,109.40 475.54,109.73 476.54,110.05 477.54,110.38 478.55,110.70 479.55,111.03 480.56,111.36 481.56,111.68 482.56,112.01 483.57,112.34 484.57,112.67 485.57,113.00 486.58,113.33 487.58,113.65 488.59,113.98 489.59,114.31 490.59,114.64 491.60,114.97 492.60,115.31" fill="none" stroke="#1f6fd6" stroke-width="1.8"/>
<path d="M92.11,28.95 L95.21,34.53 L89.01,34.53Z" fill="#1f6fd6" stroke="#1f6fd6" stroke-width="0.5"/>
<path d="M93.09,28.98 L96.19,34.56 L89.99,34.56Z" fill="#1f6fd6" stroke="#1f6fd6" stroke-width="0.5"/>
<path d="M94.15,29.01 L97.25,34.59 L91.05,34.59Z" fill="#1f6fd6" stroke="#1f6fd6" stroke-width="0.5"/>
<path d="M95.29,29.04 L98.39,34.62 L92.19,34.62Z" fill="#1f6fd6" stroke="#1f6fd6" stroke-width="0.5"/>
<path d="M96.51,29.08 L99.61,34.66 L93.41,34.66Z" fill="#1f6fd6" stroke="#1f6fd6" stroke-width="0.5"/>
<path d="M97.83,29.13 L100.93,34.71 L94.73,34.71Z" fill="#1f6fd6" stroke="#1f6fd6" stroke-width="0.5"/>
<path d="M99.26,29.17 L102.36,34.75 L96.16,34.75Z" fill="#1f6fd6" stroke="#1f6fd6" stroke-width="0.5"/>
<path d="M100.81,29.23 L103.91,34.81 L97.71,34.81Z" fill="#1f6fd6" stroke="#1f6fd6" stroke-width="0.5"/>
<path d="M102.51,29.30 L105.61,34.88 L99.41,34.88Z" fill="#1f6fd6" stroke="#1f6fd6" stroke-width="0.5"/>
<path d="M104.37,29.37 L107.47,34.95 L101.27,34.95Z" fill="#1f6fd6" stroke="#1f6fd6" stroke-width="0.5"/>
<path d="M106.41,29.46 L109.51,35.04 L103.31,35.04Z" fill="#1f6fd6" stroke="#1f6fd6" stroke-width="0.5"/>
<path d="M108.67,29.56 L111.77,35.14 L105.57,35.14Z" fill="#1f6fd6" stroke="#1f6fd6" stroke-width="0.5"/>
<path d="M111.18,29.68 L114.28,35.26 L108.08,35.26Z" fill="#1f6fd6" stroke="#1f6fd6" stroke-width="0.5"/>
<path d="M113.98,29.82 L117.08,35.40 L110.88,35.40Z" fill="#1f6fd6" stroke="#1f6fd6" stroke-width="0.5"/>
<path d="M117.14,29.99 L120.24,35.57 L114.04,35.57Z" fill="#1f6fd6" stroke="#1f6fd6" stroke-width="0.5"/>
<path d="M123.57,30.38 L126.67,35.96 L120.47,35.96Z" fill="#1f6fd6" stroke="#1f6fd6" stroke-width="0.5"/>
<path d="M127.87,30.66 L130.97,36.24 L124.77,36.24Z" fill="#1f6fd6" stroke="#1f6fd6" stroke-width="0.5"/>
<path d="M132.16,30.96 L135.26,36.54 L129.06,36.54Z" fill="#1f6fd6" stroke="#1f6fd6" stroke-width="0.5"/>
<path d="M136.45,31.29 L139.55,36.87 L133.35,36.87Z" fill="#1f6fd6" stroke="#1f6fd6" stroke-width="0.5"/>
<path d="M140.74,31.63 L143.84,37.21 L137.64,37.21Z" fill="#1f6fd6" stroke="#1f6fd6" stroke-width="0.5"/>
<path d="M145.03,31.99 L148.13,37.57 L141.93,37.57Z" fill="#1f6fd6" stroke="#1f6fd6" stroke-width="0.5"/>
<path d="M149.32,32.37 L152.42,37.95 L146.22,37.95Z" fill="#1f6fd6" stroke="#1f6fd6" stroke-width="0.5"/>
<path d="M153.84,32.80 L156.94,38.38 L150.74,38.38Z" fill="#1f6fd6" stroke="#1f6fd6" stroke-width="0.5"/>
<path d="M158.86,33.29 L161.96,38.87 L155.76,38.87Z" fill="#1f6fd6" stroke="#1f6fd6" stroke-width="0.5"/>
<path d="M164.46,33.88 L167.56,39.46 L161.36,39.46Z" fill="#1f6fd6" stroke="#1f6fd6" stroke-width="0.5"/>
<path d="M170.78,34.58 L173.88,40.16 L167.68,40.16Z" fill="#1f6fd6" stroke="#1f6fd6" stroke-width="0.5"/>
<path d="M177.93,35.42 L181.03,41.00 L174.83,41.00Z" fill="#1f6fd6" stroke="#1f6fd6" stroke-width="0.5"/>
<path d="M186.10,36.44 L189.20,42.02 L183.00,42.02Z" fill="#1f6fd6" stroke="#1f6fd6" stroke-width="0.5"/>
<path d="M195.53,37.70 L198.63,43.28 L192.43,43.28Z" fill="#1f6fd6" stroke="#1f6fd6" stroke-width="0.5"/>
<path d="M206.53,39.28 L209.63,44.86 L203.43,44.86Z" fill="#1f6fd6" stroke="#1f6fd6" stroke-width="0.5"/>
<path d="M219.54,41.30 L222.64,46.88 L216.44,46.88Z" fill="#1f6fd6" stroke="#1f6fd6" stroke-width="0.5"/>
<path d="M235.14,43.92 L238.24,49.50 L232.04,49.50Z" fill="#1f6fd6" stroke="#1f6fd6" stroke-width="0.5"/>
<path d="M254.21,47.41 L257.31,52.99 L251.11,52.99Z" fill="#1f6fd6" stroke="#1f6fd6" stroke-width="0.5"/>
<path d="M278.05,52.20 L281.15,57.78 L274.95,57.78Z" fill="#1f6fd6" stroke="#1f6fd6" stroke-width="0.5"/>
<path d="M308.70,59.02 L311.80,64.60 L305.60,64.60Z" fill="#1f6fd6" stroke="#1f6fd6" stroke-width="0.5"/>
<path d="M349.57,69.15 L352.67,74.73 L346.47,74.73Z" fill="#1f6fd6" stroke="#1f6fd6" stroke-width="0.5"/>
<path d="M406.78,85.07 L409.88,90.65 L403.68,90.65Z" fill="#1f6fd6" stroke="#1f6fd6" stroke-width="0.5"/>
<path d="M492.60,111.96 L495.70,117.54 L489.50,117.54Z" fill="#1f6fd6" stroke="#1f6fd6" stroke-width="0.5"/>
<polyline points="92.12,34.40 93.12,34.40 94.13,34.40 95.13,34.40 96.14,34.40 97.14,34.40 98.14,34.41 99.15,34.41 100.15,34.41 101.15,34.42 102.16,34.43 103.16,34.43 104.17,34.44 105.17,34.45 106.17,34.46 107.18,34.47 108.18,34.48 109.18,34.49 110.19,34.51 111.19,34.52 112.20,34.53 113.20,34.55 114.20,34.57 115.21,34.58 116.21,34.60 117.21,34.62 118.22,34.64 119.22,34.66 120.22,34.68 121.23,34.71 122.23,34.73 123.24,34.75 124.24,34.78 125.24,34.80 126.25,34.83 127.25,34.86 128.25,34.89 129.26,34.92 130.26,34.95 131.27,34.98 132.27,35.01 133.27,35.04 134.28,35.07 135.28,35.11 136.28,35.14 137.29,35.18 138.29,35.21 139.30,35.25 140.30,35.29 141.30,35.33 142.31,35.37 143.31,35.41 144.31,35.45 145.32,35.49 146.32,35.53 147.32,35.58 148.33,35.62 149.33,35.67 150.34,35.71 151.34,35.76 152.34,35.81 153.35,35.86 154.35,35.91 155.35,35.96 156.36,36.01 157.36,36.06 158.37,36.11 159.37,36.16 160.37,36.22 161.38,36.27 162.38,36.33 163.38,36.38 164.39,36.44 165.39,36.50 166.40,36.56 167.40,36.62 168.40,36.68 169.41,36.74 170.41,36.80 171.41,36.86 172.42,36.92 173.42,36.99 174.42,37.05 175.43,37.12 176.43,37.18 177.44,37.25 178.44,37.32 179.44,37.39 180.45,37.45 181.45,37.52 182.45,37.59 183.46,37.67 184.46,37.74 185.47,37.81 186.47,37.88 187.47,37.96 188.48,38.03 189.48,38.11 190.48,38.18 191.49,38.26 192.49,38.34 193.50,38.42 194.50,38.50 195.50,38.58 196.51,38.66 197.51,38.74 198.51,38.82 199.52,38.90 200.52,38.99 201.53,39.07 202.53,39.15 203.53,39.24 204.54,39.33 205.54,39.41 206.54,39.50 207.55,39.59 208.55,39.68 209.55,39.77 210.56,39.86 211.56,39.95 212.57,40.04 213.57,40.13 214.57,40.22 215.58,40.32 216.58,40.41 217.58,40.51 218.59,40.60 219.59,40.70 220.60,40.80 221.60,40.89 222.60,40.99 223.61,41.09 224.61,41.19 225.61,41.29 226.62,41.39 227.62,41.49 228.63,41.60 229.63,41.70 230.63,41.80 231.64,41.91 232.64,42.01 233.64,42.12 234.65,42.22 235.65,42.33 236.65,42.44 237.66,42.55 238.66,42.66 239.67,42.76 240.67,42.87 241.67,42.99 242.68,43.10 243.68,43.21 244.68,43.32 245.69,43.43 246.69,43.55 247.70,43.66 248.70,43.78 249.70,43.89 250.71,44.01 251.71,44.13 252.71,44.24 253.72,44.36 254.72,44.48 255.73,44.60 256.73,44.72 257.73,44.84 258.74,44.96 259.74,45.08 260.74,45.20 261.75,45.33 262.75,45.45 263.75,45.57 264.76,45.70 265.76,45.82 266.77,45.95 267.77,46.08 268.77,46.20 269.78,46.33 270.78,46.46 271.78,46.59 272.79,46.72 273.79,46.85 274.80,46.98 275.80,47.11 276.80,47.24 277.81,47.37 278.81,47.51 279.81,47.64 280.82,47.77 281.82,47.91 282.83,48.04 283.83,48.18 284.83,48.31 285.84,48.45 286.84,48.59 287.84,48.72 288.85,48.86 289.85,49.00 290.85,49.14 291.86,49.28 292.86,49.42 293.87,49.56 294.87,49.70 295.87,49.84 296.88,49.99 297.88,50.13 298.88,50.27 299.89,50.42 300.89,50.56 301.90,50.71 302.90,50.85 303.90,51.00 304.91,51.14 305.91,51.29 306.91,51.44 307.92,51.59 308.92,51.73 309.93,51.88 310.93,52.03 311.93,52.18 312.94,52.33 313.94,52.48 314.94,52.63 315.95,52.79 316.95,52.94 317.96,53.09 318.96,53.25 319.96,53.40 320.97,53.55 321.97,53.71 322.97,53.86 323.98,54.02 324.98,54.17 325.98,54.33 326.99,54.49 327.99,54.65 329.00,54.80 330.00,54.96 331.00,55.12 332.01,55.28 333.01,55.44 334.01,55.60 335.02,55.76 336.02,55.92 337.03,56.08 338.03,56.25 339.03,56.41 340.04,56.57 341.04,56.73 342.04,56.90 343.05,57.06 344.05,57.23 345.06,57.39 346.06,57.56 347.06,57.72 348.07,57.89 349.07,58.06 350.07,58.22 351.08,58.39 352.08,58.56 353.08,58.73 354.09,58.89 355.09,59.06 356.10,59.23 357.10,59.40 358.10,59.57 359.11,59.74 360.11,59.92 361.11,60.09 362.12,60.26 363.12,60.43 364.13,60.60 365.13,60.78 366.13,60.95 367.14,61.12 368.14,61.30 369.14,61.47 370.15,61.65 371.15,61.82 372.16,62.00 373.16,62.17 374.16,62.35 375.17,62.53 376.17,62.70 377.17,62.88 378.18,63.06 379.18,63.24 380.18,63.42 381.19,63.59 382.19,63.77 383.20,63.95 384.20,64.13 385.20,64.31 386.21,64.49 387.21,64.67 388.21,64.86 389.22,65.04 390.22,65.22 391.23,65.40 392.23,65.58 393.23,65.77 394.24,65.95 395.24,66.13 396.24,66.32 397.25,66.50 398.25,66.69 399.26,66.87 400.26,67.06 401.26,67.24 402.27,67.43 403.27,67.61 404.27,67.80 405.28,67.99 406.28,68.17 407.28,68.36 408.29,68.55 409.29,68.74 410.30,68.92 411.30,69.11 412.30,69.30 413.31,69.49 414.31,69.68 415.31,69.87 416.32,70.06 417.32,70.25 418.33,70.44 419.33,70.63 420.33,70.82 421.34,71.01 422.34,71.20 423.34,71.39 424.35,71.59 425.35,71.78 426.36,71.97 427.36,72.16 428.36,72.36 429.37,72.55 430.37,72.74 431.37,72.94 432.38,73.13 433.38,73.32 434.39,73.52 435.39,73.71 436.39,73.91 437.40,74.10 438.40,74.30 439.40,74.49 440.41,74.69 441.41,74.89 442.41,75.08 443.42,75.28 444.42,75.47 445.43,75.67 446.43,75.87 447.43,76.07 448.44,76.26 449.44,76.46 450.44,76.66 451.45,76.86 452.45,77.06 453.46,77.25 454.46,77.45 455.46,77.65 456.47,77.85 457.47,78.05 458.47,78.25 459.48,78.45 460.48,78.65 461.49,78.85 462.49,79.05 463.49,79.25 464.50,79.45 465.50,79.65 466.50,79.85 467.51,80.05 468.51,80.26 469.51,80.46 470.52,80.66 471.52,80.86 472.53,81.06 473.53,81.26 474.53,81.47 475.54,81.67 476.54,81.87 477.54,82.07 478.55,82.28 479.55,82.48 480.56,82.68 481.56,82.89 482.56,83.09 483.57,83.29 484.57,83.50 485.57,83.70 486.58,83.91 487.58,84.11 488.59,84.31 489.59,84.52 490.59,84.72 491.60,84.93 492.60,85.13" fill="none" stroke="#2aa868" stroke-width="1.8"/>
<path d="M92.11,37.75 L95.21,32.17 L89.01,32.17Z" fill="#2aa868" stroke="#2aa868" stroke-width="0.5"/>
<path d="M93.09,37.75 L96.19,32.17 L89.99,32.17Z" fill="#2aa868" stroke="#2aa868" stroke-width="0.5"/>
<path d="M94.15,37.75 L97.25,32.17 L91.05,32.17Z" fill="#2aa868" stroke="#2aa868" stroke-width="0.5"/>
<path d="M95.29,37.75 L98.39,32.17 L92.19,32.17Z" fill="#2aa868" stroke="#2aa868" stroke-width="0.5"/>
<path d="M96.51,37.75 L99.61,32.17 L93.41,32.17Z" fill="#2aa868" stroke="#2aa868" stroke-width="0.5"/>
<path d="M97.83,37.75 L100.93,32.17 L94.73,32.17Z" fill="#2aa868" stroke="#2aa868" stroke-width="0.5"/>
<path d="M99.26,37.76 L102.36,32.18 L96.16,32.18Z" fill="#2aa868" stroke="#2aa868" stroke-width="0.5"/>
<path d="M100.81,37.77 L103.91,32.19 L97.71,32.19Z" fill="#2aa868" stroke="#2aa868" stroke-width="0.5"/>
<path d="M102.51,37.78 L105.61,32.20 L99.41,32.20Z" fill="#2aa868" stroke="#2aa868" stroke-width="0.5"/>
<path d="M104.37,37.79 L107.47,32.21 L101.27,32.21Z" fill="#2aa868" stroke="#2aa868" stroke-width="0.5"/>
<path d="M106.41,37.81 L109.51,32.23 L103.31,32.23Z" fill="#2aa868" stroke="#2aa868" stroke-width="0.5"/>
<path d="M108.67,37.83 L111.77,32.25 L105.57,32.25Z" fill="#2aa868" stroke="#2aa868" stroke-width="0.5"/>
<path d="M111.18,37.87 L114.28,32.29 L108.08,32.29Z" fill="#2aa868" stroke="#2aa868" stroke-width="0.5"/>
<path d="M113.98,37.91 L117.08,32.33 L110.88,32.33Z" fill="#2aa868" stroke="#2aa868" stroke-width="0.5"/>
<path d="M117.14,37.97 L120.24,32.39 L114.04,32.39Z" fill="#2aa868" stroke="#2aa868" stroke-width="0.5"/>
<path d="M123.57,38.11 L126.67,32.53 L120.47,32.53Z" fill="#2aa868" stroke="#2aa868" stroke-width="0.5"/>
<path d="M127.87,38.22 L130.97,32.64 L124.77,32.64Z" fill="#2aa868" stroke="#2aa868" stroke-width="0.5"/>
<path d="M132.16,38.35 L135.26,32.77 L129.06,32.77Z" fill="#2aa868" stroke="#2aa868" stroke-width="0.5"/>
<path d="M136.45,38.50 L139.55,32.92 L133.35,32.92Z" fill="#2aa868" stroke="#2aa868" stroke-width="0.5"/>
<path d="M140.74,38.65 L143.84,33.07 L137.64,33.07Z" fill="#2aa868" stroke="#2aa868" stroke-width="0.5"/>
<path d="M145.03,38.83 L148.13,33.25 L141.93,33.25Z" fill="#2aa868" stroke="#2aa868" stroke-width="0.5"/>
<path d="M149.32,39.02 L152.42,33.44 L146.22,33.44Z" fill="#2aa868" stroke="#2aa868" stroke-width="0.5"/>
<path d="M153.84,39.23 L156.94,33.65 L150.74,33.65Z" fill="#2aa868" stroke="#2aa868" stroke-width="0.5"/>
<path d="M158.86,39.48 L161.96,33.90 L155.76,33.90Z" fill="#2aa868" stroke="#2aa868" stroke-width="0.5"/>
<path d="M164.46,39.79 L167.56,34.21 L161.36,34.21Z" fill="#2aa868" stroke="#2aa868" stroke-width="0.5"/>
<path d="M170.78,40.17 L173.88,34.59 L167.68,34.59Z" fill="#2aa868" stroke="#2aa868" stroke-width="0.5"/>
<path d="M177.93,40.63 L181.03,35.05 L174.83,35.05Z" fill="#2aa868" stroke="#2aa868" stroke-width="0.5"/>
<path d="M186.10,41.20 L189.20,35.62 L183.00,35.62Z" fill="#2aa868" stroke="#2aa868" stroke-width="0.5"/>
<path d="M195.53,41.93 L198.63,36.35 L192.43,36.35Z" fill="#2aa868" stroke="#2aa868" stroke-width="0.5"/>
<path d="M206.53,42.85 L209.63,37.27 L203.43,37.27Z" fill="#2aa868" stroke="#2aa868" stroke-width="0.5"/>
<path d="M219.54,44.04 L222.64,38.46 L216.44,38.46Z" fill="#2aa868" stroke="#2aa868" stroke-width="0.5"/>
<path d="M235.14,45.62 L238.24,40.04 L232.04,40.04Z" fill="#2aa868" stroke="#2aa868" stroke-width="0.5"/>
<path d="M254.21,47.77 L257.31,42.19 L251.11,42.19Z" fill="#2aa868" stroke="#2aa868" stroke-width="0.5"/>
<path d="M278.05,50.75 L281.15,45.17 L274.95,45.17Z" fill="#2aa868" stroke="#2aa868" stroke-width="0.5"/>
<path d="M308.70,55.05 L311.80,49.47 L305.60,49.47Z" fill="#2aa868" stroke="#2aa868" stroke-width="0.5"/>
<path d="M349.57,61.49 L352.67,55.91 L346.47,55.91Z" fill="#2aa868" stroke="#2aa868" stroke-width="0.5"/>
<path d="M406.78,71.61 L409.88,66.03 L403.68,66.03Z" fill="#2aa868" stroke="#2aa868" stroke-width="0.5"/>
<path d="M492.60,88.48 L495.70,82.90 L489.50,82.90Z" fill="#2aa868" stroke="#2aa868" stroke-width="0.5"/>
<polyline points="92.12,33.48 93.12,33.47 94.13,33.46 95.13,33.45 96.14,33.44 97.14,33.43 98.14,33.43 99.15,33.42 100.15,33.41 101.15,33.41 102.16,33.40 103.16,33.39 104.17,33.39 105.17,33.38 106.17,33.38 107.18,33.37 108.18,33.37 109.18,33.36 110.19,33.36 111.19,33.36 112.20,33.35 113.20,33.35 114.20,33.35 115.21,33.35 116.21,33.35 117.21,33.34 118.22,33.34 119.22,33.34 120.22,33.34 121.23,33.34 122.23,33.34 123.24,33.34 124.24,33.34 125.24,33.35 126.25,33.35 127.25,33.35 128.25,33.35 129.26,33.35 130.26,33.36 131.27,33.36 132.27,33.36 133.27,33.37 134.28,33.37 135.28,33.38 136.28,33.38 137.29,33.39 138.29,33.39 139.30,33.40 140.30,33.40 141.30,33.41 142.31,33.42 143.31,33.42 144.31,33.43 145.32,33.44 146.32,33.45 147.32,33.45 148.33,33.46 149.33,33.47 150.34,33.48 151.34,33.49 152.34,33.50 153.35,33.51 154.35,33.52 155.35,33.53 156.36,33.54 157.36,33.55 158.37,33.56 159.37,33.58 160.37,33.59 161.38,33.60 162.38,33.61 163.38,33.63 164.39,33.64 165.39,33.65 166.40,33.67 167.40,33.68 168.40,33.70 169.41,33.71 170.41,33.72 171.41,33.74 172.42,33.76 173.42,33.77 174.42,33.79 175.43,33.80 176.43,33.82 177.44,33.84 178.44,33.86 179.44,33.87 180.45,33.89 181.45,33.91 182.45,33.93 183.46,33.95 184.46,33.97 185.47,33.99 186.47,34.00 187.47,34.02 188.48,34.04 189.48,34.07 190.48,34.09 191.49,34.11 192.49,34.13 193.50,34.15 194.50,34.17 195.50,34.19 196.51,34.22 197.51,34.24 198.51,34.26 199.52,34.28 200.52,34.31 201.53,34.33 202.53,34.36 203.53,34.38 204.54,34.40 205.54,34.43 206.54,34.45 207.55,34.48 208.55,34.51 209.55,34.53 210.56,34.56 211.56,34.58 212.57,34.61 213.57,34.64 214.57,34.66 215.58,34.69 216.58,34.72 217.58,34.75 218.59,34.78 219.59,34.80 220.60,34.83 221.60,34.86 222.60,34.89 223.61,34.92 224.61,34.95 225.61,34.98 226.62,35.01 227.62,35.04 228.63,35.07 229.63,35.10 230.63,35.13 231.64,35.16 232.64,35.20 233.64,35.23 234.65,35.26 235.65,35.29 236.65,35.33 237.66,35.36 238.66,35.39 239.67,35.42 240.67,35.46 241.67,35.49 242.68,35.53 243.68,35.56 244.68,35.60 245.69,35.63 246.69,35.67 247.70,35.70 248.70,35.74 249.70,35.77 250.71,35.81 251.71,35.84 252.71,35.88 253.72,35.92 254.72,35.95 255.73,35.99 256.73,36.03 257.73,36.07 258.74,36.10 259.74,36.14 260.74,36.18 261.75,36.22 262.75,36.26 263.75,36.30 264.76,36.34 265.76,36.38 266.77,36.42 267.77,36.46 268.77,36.50 269.78,36.54 270.78,36.58 271.78,36.62 272.79,36.66 273.79,36.70 274.80,36.74 275.80,36.78 276.80,36.83 277.81,36.87 278.81,36.91 279.81,36.95 280.82,37.00 281.82,37.04 282.83,37.08 283.83,37.12 284.83,37.17 285.84,37.21 286.84,37.26 287.84,37.30 288.85,37.34 289.85,37.39 290.85,37.43 291.86,37.48 292.86,37.52 293.87,37.57 294.87,37.62 295.87,37.66 296.88,37.71 297.88,37.75 298.88,37.80 299.89,37.85 300.89,37.89 301.90,37.94 302.90,37.99 303.90,38.04 304.91,38.08 305.91,38.13 306.91,38.18 307.92,38.23 308.92,38.28 309.93,38.32 310.93,38.37 311.93,38.42 312.94,38.47 313.94,38.52 314.94,38.57 315.95,38.62 316.95,38.67 317.96,38.72 318.96,38.77 319.96,38.82 320.97,38.87 321.97,38.92 322.97,38.97 323.98,39.03 324.98,39.08 325.98,39.13 326.99,39.18 327.99,39.23 329.00,39.28 330.00,39.34 331.00,39.39 332.01,39.44 333.01,39.50 334.01,39.55 335.02,39.60 336.02,39.66 337.03,39.71 338.03,39.76 339.03,39.82 340.04,39.87 341.04,39.93 342.04,39.98 343.05,40.03 344.05,40.09 345.06,40.14 346.06,40.20 347.06,40.25 348.07,40.31 349.07,40.37 350.07,40.42 351.08,40.48 352.08,40.53 353.08,40.59 354.09,40.65 355.09,40.70 356.10,40.76 357.10,40.82 358.10,40.87 359.11,40.93 360.11,40.99 361.11,41.05 362.12,41.10 363.12,41.16 364.13,41.22 365.13,41.28 366.13,41.34 367.14,41.40 368.14,41.45 369.14,41.51 370.15,41.57 371.15,41.63 372.16,41.69 373.16,41.75 374.16,41.81 375.17,41.87 376.17,41.93 377.17,41.99 378.18,42.05 379.18,42.11 380.18,42.17 381.19,42.23 382.19,42.29 383.20,42.35 384.20,42.41 385.20,42.47 386.21,42.54 387.21,42.60 388.21,42.66 389.22,42.72 390.22,42.78 391.23,42.84 392.23,42.91 393.23,42.97 394.24,43.03 395.24,43.09 396.24,43.16 397.25,43.22 398.25,43.28 399.26,43.34 400.26,43.41 401.26,43.47 402.27,43.53 403.27,43.60 404.27,43.66 405.28,43.73 406.28,43.79 407.28,43.85 408.29,43.92 409.29,43.98 410.30,44.05 411.30,44.11 412.30,44.18 413.31,44.24 414.31,44.31 415.31,44.37 416.32,44.44 417.32,44.50 418.33,44.57 419.33,44.63 420.33,44.70 421.34,44.76 422.34,44.83 423.34,44.90 424.35,44.96 425.35,45.03 426.36,45.09 427.36,45.16 428.36,45.23 429.37,45.29 430.37,45.36 431.37,45.43 432.38,45.50 433.38,45.56 434.39,45.63 435.39,45.70 436.39,45.76 437.40,45.83 438.40,45.90 439.40,45.97 440.41,46.04 441.41,46.10 442.41,46.17 443.42,46.24 444.42,46.31 445.43,46.38 446.43,46.44 447.43,46.51 448.44,46.58 449.44,46.65 450.44,46.72 451.45,46.79 452.45,46.86 453.46,46.93 454.46,47.00 455.46,47.07 456.47,47.13 457.47,47.20 458.47,47.27 459.48,47.34 460.48,47.41 461.49,47.48 462.49,47.55 463.49,47.62 464.50,47.69 465.50,47.76 466.50,47.83 467.51,47.90 468.51,47.97 469.51,48.04 470.52,48.12 471.52,48.19 472.53,48.26 473.53,48.33 474.53,48.40 475.54,48.47 476.54,48.54 477.54,48.61 478.55,48.68 479.55,48.75 480.56,48.83 481.56,48.90 482.56,48.97 483.57,49.04 484.57,49.11 485.57,49.18 486.58,49.26 487.58,49.33 488.59,49.40 489.59,49.47 490.59,49.54 491.60,49.62 492.60,49.69" fill="none" stroke="#9b59e0" stroke-width="1.8"/>
<path d="M92.11,29.88 L94.61,33.48 L92.11,37.08 L89.61,33.48Z" fill="#9b59e0" stroke="#9b59e0" stroke-width="0.5"/>
<path d="M93.09,29.87 L95.59,33.47 L93.09,37.07 L90.59,33.47Z" fill="#9b59e0" stroke="#9b59e0" stroke-width="0.5"/>
<path d="M94.15,29.86 L96.65,33.46 L94.15,37.06 L91.65,33.46Z" fill="#9b59e0" stroke="#9b59e0" stroke-width="0.5"/>
<path d="M95.29,29.85 L97.79,33.45 L95.29,37.05 L92.79,33.45Z" fill="#9b59e0" stroke="#9b59e0" stroke-width="0.5"/>
<path d="M96.51,29.84 L99.01,33.44 L96.51,37.04 L94.01,33.44Z" fill="#9b59e0" stroke="#9b59e0" stroke-width="0.5"/>
<path d="M97.83,29.83 L100.33,33.43 L97.83,37.03 L95.33,33.43Z" fill="#9b59e0" stroke="#9b59e0" stroke-width="0.5"/>
<path d="M99.26,29.82 L101.76,33.42 L99.26,37.02 L96.76,33.42Z" fill="#9b59e0" stroke="#9b59e0" stroke-width="0.5"/>
<path d="M100.81,29.81 L103.31,33.41 L100.81,37.01 L98.31,33.41Z" fill="#9b59e0" stroke="#9b59e0" stroke-width="0.5"/>
<path d="M102.51,29.80 L105.01,33.40 L102.51,37.00 L100.01,33.40Z" fill="#9b59e0" stroke="#9b59e0" stroke-width="0.5"/>
<path d="M104.37,29.79 L106.87,33.39 L104.37,36.99 L101.87,33.39Z" fill="#9b59e0" stroke="#9b59e0" stroke-width="0.5"/>
<path d="M106.41,29.78 L108.91,33.38 L106.41,36.98 L103.91,33.38Z" fill="#9b59e0" stroke="#9b59e0" stroke-width="0.5"/>
<path d="M108.67,29.77 L111.17,33.37 L108.67,36.97 L106.17,33.37Z" fill="#9b59e0" stroke="#9b59e0" stroke-width="0.5"/>
<path d="M111.18,29.76 L113.68,33.36 L111.18,36.96 L108.68,33.36Z" fill="#9b59e0" stroke="#9b59e0" stroke-width="0.5"/>
<path d="M113.98,29.75 L116.48,33.35 L113.98,36.95 L111.48,33.35Z" fill="#9b59e0" stroke="#9b59e0" stroke-width="0.5"/>
<path d="M117.14,29.74 L119.64,33.34 L117.14,36.94 L114.64,33.34Z" fill="#9b59e0" stroke="#9b59e0" stroke-width="0.5"/>
<path d="M123.57,29.74 L126.07,33.34 L123.57,36.94 L121.07,33.34Z" fill="#9b59e0" stroke="#9b59e0" stroke-width="0.5"/>
<path d="M127.87,29.75 L130.37,33.35 L127.87,36.95 L125.37,33.35Z" fill="#9b59e0" stroke="#9b59e0" stroke-width="0.5"/>
<path d="M132.16,29.76 L134.66,33.36 L132.16,36.96 L129.66,33.36Z" fill="#9b59e0" stroke="#9b59e0" stroke-width="0.5"/>
<path d="M136.45,29.78 L138.95,33.38 L136.45,36.98 L133.95,33.38Z" fill="#9b59e0" stroke="#9b59e0" stroke-width="0.5"/>
<path d="M140.74,29.81 L143.24,33.41 L140.74,37.01 L138.24,33.41Z" fill="#9b59e0" stroke="#9b59e0" stroke-width="0.5"/>
<path d="M145.03,29.84 L147.53,33.44 L145.03,37.04 L142.53,33.44Z" fill="#9b59e0" stroke="#9b59e0" stroke-width="0.5"/>
<path d="M149.32,29.87 L151.82,33.47 L149.32,37.07 L146.82,33.47Z" fill="#9b59e0" stroke="#9b59e0" stroke-width="0.5"/>
<path d="M153.84,29.91 L156.34,33.51 L153.84,37.11 L151.34,33.51Z" fill="#9b59e0" stroke="#9b59e0" stroke-width="0.5"/>
<path d="M158.86,29.97 L161.36,33.57 L158.86,37.17 L156.36,33.57Z" fill="#9b59e0" stroke="#9b59e0" stroke-width="0.5"/>
<path d="M164.46,30.04 L166.96,33.64 L164.46,37.24 L161.96,33.64Z" fill="#9b59e0" stroke="#9b59e0" stroke-width="0.5"/>
<path d="M170.78,30.13 L173.28,33.73 L170.78,37.33 L168.28,33.73Z" fill="#9b59e0" stroke="#9b59e0" stroke-width="0.5"/>
<path d="M177.93,30.25 L180.43,33.85 L177.93,37.45 L175.43,33.85Z" fill="#9b59e0" stroke="#9b59e0" stroke-width="0.5"/>
<path d="M186.10,30.40 L188.60,34.00 L186.10,37.60 L183.60,34.00Z" fill="#9b59e0" stroke="#9b59e0" stroke-width="0.5"/>
<path d="M195.53,30.59 L198.03,34.19 L195.53,37.79 L193.03,34.19Z" fill="#9b59e0" stroke="#9b59e0" stroke-width="0.5"/>
<path d="M206.53,30.85 L209.03,34.45 L206.53,38.05 L204.03,34.45Z" fill="#9b59e0" stroke="#9b59e0" stroke-width="0.5"/>
<path d="M219.54,31.20 L222.04,34.80 L219.54,38.40 L217.04,34.80Z" fill="#9b59e0" stroke="#9b59e0" stroke-width="0.5"/>
<path d="M235.14,31.68 L237.64,35.28 L235.14,38.88 L232.64,35.28Z" fill="#9b59e0" stroke="#9b59e0" stroke-width="0.5"/>
<path d="M254.21,32.34 L256.71,35.94 L254.21,39.54 L251.71,35.94Z" fill="#9b59e0" stroke="#9b59e0" stroke-width="0.5"/>
<path d="M278.05,33.28 L280.55,36.88 L278.05,40.48 L275.55,36.88Z" fill="#9b59e0" stroke="#9b59e0" stroke-width="0.5"/>
<path d="M308.70,34.67 L311.20,38.27 L308.70,41.87 L306.20,38.27Z" fill="#9b59e0" stroke="#9b59e0" stroke-width="0.5"/>
<path d="M349.57,36.79 L352.07,40.39 L349.57,43.99 L347.07,40.39Z" fill="#9b59e0" stroke="#9b59e0" stroke-width="0.5"/>
<path d="M406.78,40.22 L409.28,43.82 L406.78,47.42 L404.28,43.82Z" fill="#9b59e0" stroke="#9b59e0" stroke-width="0.5"/>
<path d="M492.60,46.09 L495.10,49.69 L492.60,53.29 L490.10,49.69Z" fill="#9b59e0" stroke="#9b59e0" stroke-width="0.5"/>
<polyline points="65.65,333.46 67.79,333.46 69.94,333.45 72.08,333.44 74.23,333.43 76.37,333.42 78.52,333.41 80.66,333.40 82.81,333.39 84.95,333.38 87.10,333.37 89.25,333.36 91.39,333.34 93.54,333.33 95.68,333.31 97.83,333.30 99.97,333.28 102.12,333.26 104.26,333.24 106.41,333.22 108.56,333.20 110.70,333.18 112.85,333.15 114.99,333.13 117.14,333.10 119.28,333.07 121.43,333.04 123.57,333.01 125.72,332.97 127.87,332.94 130.01,332.90 132.16,332.86 134.30,332.82 136.45,332.77 138.59,332.73 140.74,332.68 142.88,332.63 145.03,332.57 147.17,332.52 149.32,332.46" fill="none" stroke="#fce8f2" stroke-width="12"/>
<polyline points="248.01,326.09 250.07,325.86 252.12,325.62 254.18,325.38 256.23,325.14 258.29,324.88 260.35,324.63 262.40,324.36 264.46,324.10 266.51,323.82 268.57,323.54 270.62,323.26 272.68,322.97 274.73,322.68 276.79,322.38 278.84,322.07 280.90,321.76 282.95,321.44 285.01,321.12 287.06,320.79 289.12,320.45 291.18,320.11 293.23,319.76 295.29,319.41 297.34,319.05 299.40,318.69 301.45,318.31 303.51,317.94 305.56,317.55 307.62,317.16 309.67,316.76 311.73,316.36 313.78,315.95 315.84,315.53 317.90,315.11 319.95,314.68 322.01,314.24 324.06,313.79 326.12,313.34 328.17,312.89 330.23,312.42 332.28,311.95 334.34,311.47 336.39,310.98 338.45,310.49 340.50,309.99 342.56,309.48 344.61,308.96 346.67,308.44 348.73,307.91 350.78,307.37 352.84,306.83 354.89,306.27 356.95,305.71 359.00,305.14 361.06,304.57 363.11,303.98 365.17,303.39 367.22,302.79 369.28,302.18 371.33,301.57 373.39,300.94 375.44,300.31 377.50,299.67 379.56,299.02 381.61,298.36 383.67,297.69 385.72,297.02 387.78,296.34 389.83,295.64 391.89,294.94 393.94,294.23 396.00,293.52 398.05,292.79 400.11,292.06 402.16,291.31 404.22,290.56 406.28,289.80 408.33,289.02 410.39,288.24 412.44,287.45 414.50,286.66 416.55,285.85 418.61,285.03 420.66,284.20 422.72,283.37 424.77,282.52 426.83,281.67 428.88,280.80 430.94,279.93 432.99,279.04 435.05,278.15 437.11,277.25 439.16,276.33 441.22,275.41 443.27,274.47 445.33,273.53 447.38,272.58 449.44,271.61 451.49,270.64 453.55,269.66 455.60,268.66 457.66,267.66 459.71,266.64 461.77,265.62 463.83,264.58 465.88,263.53 467.94,262.47 469.99,261.41 472.05,260.33 474.10,259.24 476.16,258.14 478.21,257.03 480.27,255.90 482.32,254.77 484.38,253.63 486.43,252.47 488.49,251.30 490.54,250.13 492.60,248.94" fill="none" stroke="#fef4f8" stroke-width="11"/>
<polyline points="192.23,324.64 194.75,324.50 197.28,324.37 199.80,324.23 202.33,324.09 204.85,323.95 207.37,323.81 209.90,323.67 212.42,323.53 214.95,323.39 217.47,323.24 220.00,323.10 222.52,322.96 225.04,322.81 227.57,322.66 230.09,322.52 232.62,322.37 235.14,322.22 237.66,322.07 240.19,321.92 242.71,321.76 245.24,321.61 247.76,321.45 250.28,321.30 252.81,321.14 255.33,320.98 257.86,320.82 260.38,320.66 262.91,320.49 265.43,320.33 267.95,320.16 270.48,319.99 273.00,319.82 275.53,319.65 278.05,319.48 280.57,319.31 283.10,319.13 285.62,318.95 288.15,318.77 290.67,318.59 293.19,318.41 295.72,318.22 298.24,318.04 300.77,317.85 303.29,317.66 305.82,317.47 308.34,317.27 310.86,317.08 313.39,316.88 315.91,316.68 318.44,316.48 320.96,316.27 323.48,316.07 326.01,315.86 328.53,315.65 331.06,315.43 333.58,315.22 336.10,315.00 338.63,314.78 341.15,314.56 343.68,314.33 346.20,314.11 348.73,313.88 351.25,313.64 353.77,313.41 356.30,313.17 358.82,312.93 361.35,312.69 363.87,312.44 366.39,312.20 368.92,311.95 371.44,311.69 373.97,311.44 376.49,311.18 379.01,310.92 381.54,310.65 384.06,310.39 386.59,310.12 389.11,309.84 391.64,309.57 394.16,309.29 396.68,309.01 399.21,308.72 401.73,308.43 404.26,308.14 406.78,307.85 409.30,307.55 411.83,307.25 414.35,306.95 416.88,306.64 419.40,306.33 421.92,306.01 424.45,305.70 426.97,305.38 429.50,305.05 432.02,304.72 434.55,304.39 437.07,304.06 439.59,303.72 442.12,303.38 444.64,303.03 447.17,302.68 449.69,302.33 452.21,301.97 454.74,301.61 457.26,301.25 459.79,300.88 462.31,300.51 464.83,300.14 467.36,299.76 469.88,299.37 472.41,298.99 474.93,298.59 477.46,298.20 479.98,297.80 482.50,297.40 485.03,296.99 487.55,296.58 490.08,296.16 492.60,295.74" fill="none" stroke="#e8f9f6" stroke-width="8"/>
<polyline points="65.65,334.97 66.72,334.96 67.79,334.96 68.86,334.95 69.93,334.93 71.00,334.91 72.07,334.89 73.14,334.86 74.21,334.83 75.28,334.80 76.35,334.76 77.42,334.72 78.49,334.68 79.56,334.64 80.63,334.59 81.70,334.54 82.77,334.49 83.84,334.44 84.91,334.38 85.98,334.31 87.05,334.19 88.12,334.05 89.19,333.88 90.26,333.70 91.33,333.51 92.40,333.32 93.47,333.13 94.54,332.96 95.61,332.82 96.68,332.70 97.75,332.62 98.82,332.56 99.89,332.52 100.96,332.47 102.03,332.44 103.10,332.41 104.17,332.38 105.24,332.35 106.31,332.33 107.38,332.30 108.45,332.28 109.52,332.26 110.59,332.23 111.66,332.20 112.73,332.17 113.80,332.14 114.87,332.10 115.94,332.06 117.01,332.01 118.08,331.95 119.15,331.88 120.22,331.80 121.29,331.72 122.36,331.63 123.43,331.53 124.50,331.43 125.57,331.32 126.64,331.21 127.71,331.10 128.78,330.98 129.85,330.86 130.92,330.74 131.99,330.62 133.06,330.48 134.13,330.34 135.20,330.20 136.27,330.05 137.34,329.89 138.41,329.73 139.48,329.57 140.55,329.40 141.62,329.23 142.69,329.06 143.76,328.89 144.83,328.71 145.90,328.54 146.97,328.36 148.04,328.19 149.11,328.01 150.18,327.84 151.25,327.67 152.32,327.50 153.39,327.33 154.46,327.16 155.53,327.00 156.60,326.83 157.67,326.67 158.74,326.50 159.81,326.33 160.88,326.16 161.95,325.99 163.02,325.81 164.09,325.63 165.16,325.45 166.23,325.26 167.30,325.06 168.37,324.86 169.44,324.64 170.51,324.42 171.58,324.19 172.65,323.93 173.72,323.67 174.79,323.40 175.86,323.12 176.93,322.83 178.00,322.54 179.07,322.25 180.14,321.96 181.21,321.68 182.28,321.40 183.35,321.12 184.42,320.84 185.49,320.56 186.56,320.28 187.63,320.00 188.70,319.72 189.77,319.44 190.84,319.15 191.91,318.86 192.98,318.58 194.05,318.28 195.12,317.99 196.19,317.69 197.26,317.39 198.33,317.09 199.40,316.79 200.47,316.48 201.54,316.16 202.61,315.84 203.68,315.51 204.75,315.16 205.82,314.81 206.89,314.45 207.96,314.08 209.03,313.70 210.10,313.32 211.17,312.93 212.24,312.53 213.31,312.12 214.38,311.71 215.45,311.28 216.52,310.86 217.59,310.43 218.66,310.00 219.73,309.58 220.80,309.15 221.87,308.73 222.94,308.30 224.01,307.87 225.08,307.44 226.15,307.01 227.22,306.58 228.29,306.16 229.36,305.75 230.43,305.34 231.51,304.95 232.58,304.56 233.65,304.18 234.72,303.81 235.79,303.43 236.86,303.05 237.93,302.66 239.00,302.26 240.07,301.85 241.14,301.42 242.21,300.97 243.28,300.52 244.35,300.04 245.42,299.56 246.49,299.07 247.56,298.58 248.63,298.08 249.70,297.59 250.77,297.09 251.84,296.60 252.91,296.11 253.98,295.63 255.05,295.16 256.12,294.69 257.19,294.22 258.26,293.76 259.33,293.29 260.40,292.83 261.47,292.35 262.54,291.88 263.61,291.40 264.68,290.91 265.75,290.42 266.82,289.91 267.89,289.40 268.96,288.87 270.03,288.34 271.10,287.79 272.17,287.24 273.24,286.68 274.31,286.12 275.38,285.55 276.45,284.97 277.52,284.39 278.59,283.80 279.66,283.21 280.73,282.62 281.80,282.03 282.87,281.43 283.94,280.83 285.01,280.23 286.08,279.62 287.15,279.02 288.22,278.41 289.29,277.79 290.36,277.17 291.43,276.55 292.50,275.92 293.57,275.29 294.64,274.66 295.71,274.02 296.78,273.38 297.85,272.74 298.92,272.09 299.99,271.45 301.06,270.80 302.13,270.14 303.20,269.49 304.27,268.83 305.34,268.17 306.41,267.51 307.48,266.85 308.55,266.19 309.62,265.52 310.69,264.85 311.76,264.18 312.83,263.51 313.90,262.84 314.97,262.16 316.04,261.48 317.11,260.80 318.18,260.11 319.25,259.42 320.32,258.73 321.39,258.03 322.46,257.33 323.53,256.62 324.60,255.91 325.67,255.19 326.74,254.47 327.81,253.74 328.88,253.01 329.95,252.27 331.02,251.53 332.09,250.78 333.16,250.03 334.23,249.28 335.30,248.53 336.37,247.77 337.44,247.00 338.51,246.24 339.58,245.47 340.65,244.69 341.72,243.91 342.79,243.12 343.86,242.34 344.93,241.54 346.00,240.74 347.07,239.94 348.14,239.13 349.21,238.31 350.28,237.49 351.35,236.67 352.42,235.84 353.49,235.00 354.56,234.16 355.63,233.31 356.70,232.46 357.77,231.60 358.84,230.73 359.91,229.86 360.98,228.98 362.05,228.09 363.12,227.20 364.19,226.31 365.26,225.41 366.33,224.51 367.40,223.59 368.47,222.68 369.54,221.76 370.61,220.83 371.68,219.90 372.75,218.96 373.82,218.01 374.89,217.06 375.96,216.11 377.03,215.14 378.10,214.18 379.17,213.20 380.24,212.22 381.31,211.24 382.38,210.25 383.45,209.25 384.52,208.25 385.59,207.24 386.66,206.22 387.73,205.20 388.80,204.17 389.87,203.14 390.94,202.10 392.01,201.05 393.08,200.00 394.15,198.94 395.22,197.87 396.29,196.80 397.36,195.72 398.43,194.62 399.50,193.52 400.57,192.41 401.64,191.28 402.71,190.15 403.78,189.01 404.85,187.86 405.93,186.70 407.00,185.53 408.07,184.35 409.14,183.17 410.21,181.98 411.28,180.78 412.35,179.57 413.42,178.36 414.49,177.15 415.56,175.92 416.63,174.70 417.70,173.46 418.77,172.23 419.84,170.99 420.91,169.74 421.98,168.49 423.05,167.24 424.12,165.98 425.19,164.73 426.26,163.47 427.33,162.20 428.40,160.94 429.47,159.68 430.54,158.41 431.61,157.14 432.68,155.88 433.75,154.61 434.82,153.34 435.89,152.08 436.96,150.81 438.03,149.55 439.10,148.29 440.17,147.03 441.24,145.77 442.31,144.52 443.38,143.27 444.45,142.02 445.52,140.77 446.59,139.51 447.66,138.26 448.73,137.00 449.80,135.75 450.87,134.49 451.94,133.23 453.01,131.97 454.08,130.70 455.15,129.44 456.22,128.17 457.29,126.90 458.36,125.63 459.43,124.36 460.50,123.09 461.57,121.81 462.64,120.54 463.71,119.26 464.78,117.98 465.85,116.70 466.92,115.42 467.99,114.13 469.06,112.85 470.13,111.56 471.20,110.27 472.27,108.99 473.34,107.69 474.41,106.40 475.48,105.11 476.55,103.81 477.62,102.51 478.69,101.22 479.76,99.92 480.83,98.61 481.90,97.31 482.97,96.01 484.04,94.70 485.11,93.39 486.18,92.08 487.25,90.77 488.32,89.46 489.39,88.15 490.46,86.83 491.53,85.51 492.60,84.19" fill="none" stroke="#505050" stroke-width="1.8"/>
<polyline points="65.65,334.97 66.16,334.97 66.68,334.96 67.20,334.96 67.72,334.96 68.23,334.95 68.75,334.95 69.27,334.94 69.79,334.93 70.31,334.92 70.82,334.92 71.34,334.90 71.86,334.89 72.38,334.88 72.90,334.87 73.41,334.85 73.93,334.84 74.45,334.82 74.97,334.81 75.49,334.79 76.00,334.77 76.52,334.76 77.04,334.74 77.56,334.72 78.07,334.70 78.59,334.68 79.11,334.66 79.63,334.63 80.15,334.61 80.66,334.59" fill="none" stroke="#5a4a4c" stroke-width="5"/>
<rect x="78.94" y="332.26" width="4.6" height="4.6" fill="#fff" stroke="#505050" stroke-width="1.0"/>
<rect x="80.20" y="332.20" width="4.6" height="4.6" fill="#fff" stroke="#505050" stroke-width="1.0"/>
<rect x="81.66" y="332.13" width="4.6" height="4.6" fill="#fff" stroke="#505050" stroke-width="1.0"/>
<rect x="83.37" y="332.03" width="4.6" height="4.6" fill="#fff" stroke="#505050" stroke-width="1.0"/>
<rect x="85.39" y="331.81" width="4.6" height="4.6" fill="#fff" stroke="#505050" stroke-width="1.0"/>
<rect x="87.80" y="331.43" width="4.6" height="4.6" fill="#fff" stroke="#505050" stroke-width="1.0"/>
<rect x="89.20" y="331.18" width="4.6" height="4.6" fill="#fff" stroke="#505050" stroke-width="1.0"/>
<rect x="90.76" y="330.90" width="4.6" height="4.6" fill="#fff" stroke="#505050" stroke-width="1.0"/>
<rect x="92.50" y="330.62" width="4.6" height="4.6" fill="#fff" stroke="#505050" stroke-width="1.0"/>
<rect x="94.46" y="330.39" width="4.6" height="4.6" fill="#fff" stroke="#505050" stroke-width="1.0"/>
<rect x="96.67" y="330.26" width="4.6" height="4.6" fill="#fff" stroke="#505050" stroke-width="1.0"/>
<rect x="99.21" y="330.15" width="4.6" height="4.6" fill="#fff" stroke="#505050" stroke-width="1.0"/>
<rect x="102.13" y="330.07" width="4.6" height="4.6" fill="#fff" stroke="#505050" stroke-width="1.0"/>
<rect x="105.54" y="329.99" width="4.6" height="4.6" fill="#fff" stroke="#505050" stroke-width="1.0"/>
<rect x="109.57" y="329.90" width="4.6" height="4.6" fill="#fff" stroke="#505050" stroke-width="1.0"/>
<rect x="114.41" y="329.72" width="4.6" height="4.6" fill="#fff" stroke="#505050" stroke-width="1.0"/>
<rect x="120.32" y="329.31" width="4.6" height="4.6" fill="#fff" stroke="#505050" stroke-width="1.0"/>
<rect x="127.71" y="328.55" width="4.6" height="4.6" fill="#fff" stroke="#505050" stroke-width="1.0"/>
<rect x="137.21" y="327.27" width="4.6" height="4.6" fill="#fff" stroke="#505050" stroke-width="1.0"/>
<rect x="149.88" y="325.22" width="4.6" height="4.6" fill="#fff" stroke="#505050" stroke-width="1.0"/>
<rect x="167.62" y="322.25" width="4.6" height="4.6" fill="#fff" stroke="#505050" stroke-width="1.0"/>
<rect x="179.44" y="319.24" width="4.6" height="4.6" fill="#fff" stroke="#505050" stroke-width="1.0"/>
<rect x="194.22" y="315.30" width="4.6" height="4.6" fill="#fff" stroke="#505050" stroke-width="1.0"/>
<rect x="201.22" y="313.26" width="4.6" height="4.6" fill="#fff" stroke="#505050" stroke-width="1.0"/>
<rect x="209.00" y="310.58" width="4.6" height="4.6" fill="#fff" stroke="#505050" stroke-width="1.0"/>
<rect x="217.70" y="307.18" width="4.6" height="4.6" fill="#fff" stroke="#505050" stroke-width="1.0"/>
<rect x="227.48" y="303.29" width="4.6" height="4.6" fill="#fff" stroke="#505050" stroke-width="1.0"/>
<rect x="238.56" y="299.23" width="4.6" height="4.6" fill="#fff" stroke="#505050" stroke-width="1.0"/>
<rect x="251.23" y="293.53" width="4.6" height="4.6" fill="#fff" stroke="#505050" stroke-width="1.0"/>
<rect x="265.85" y="286.97" width="4.6" height="4.6" fill="#fff" stroke="#505050" stroke-width="1.0"/>
<rect x="282.90" y="277.82" width="4.6" height="4.6" fill="#fff" stroke="#505050" stroke-width="1.0"/>
<rect x="303.06" y="265.86" width="4.6" height="4.6" fill="#fff" stroke="#505050" stroke-width="1.0"/>
<rect x="327.24" y="250.25" width="4.6" height="4.6" fill="#fff" stroke="#505050" stroke-width="1.0"/>
<rect x="356.80" y="228.22" width="4.6" height="4.6" fill="#fff" stroke="#505050" stroke-width="1.0"/>
<rect x="393.75" y="194.74" width="4.6" height="4.6" fill="#fff" stroke="#505050" stroke-width="1.0"/>
<rect x="441.26" y="140.75" width="4.6" height="4.6" fill="#fff" stroke="#505050" stroke-width="1.0"/>
<polyline points="76.37,333.42 77.42,333.42 78.46,333.41 79.50,333.41 80.55,333.40 81.59,333.40 82.63,333.39 83.68,333.39 84.72,333.38 85.76,333.38 86.80,333.37 87.85,333.36 88.89,333.36 89.93,333.35 90.98,333.35 92.02,333.34 93.06,333.33 94.11,333.32 95.15,333.32 96.19,333.31 97.24,333.30 98.28,333.29 99.32,333.29 100.37,333.28 101.41,333.27 102.45,333.26 103.50,333.25 104.54,333.24 105.58,333.23 106.63,333.22 107.67,333.21 108.71,333.20 109.75,333.19 110.80,333.18 111.84,333.16 112.88,333.15 113.93,333.14 114.97,333.13 116.01,333.11 117.06,333.10 118.10,333.09 119.14,333.07 120.19,333.06 121.23,333.04 122.27,333.03 123.32,333.01 124.36,333.00 125.40,332.98 126.45,332.96 127.49,332.94 128.53,332.93 129.57,332.91 130.62,332.89 131.66,332.87 132.70,332.85 133.75,332.83 134.79,332.81 135.83,332.79 136.88,332.76 137.92,332.74 138.96,332.72 140.01,332.70 141.05,332.67 142.09,332.65 143.14,332.62 144.18,332.60 145.22,332.57 146.27,332.54 147.31,332.52 148.35,332.49 149.40,332.46 150.44,332.43 151.48,332.40 152.52,332.37 153.57,332.34 154.61,332.31 155.65,332.28 156.70,332.24 157.74,332.21 158.78,332.18 159.83,332.14 160.87,332.11 161.91,332.07 162.96,332.03 164.00,332.00 165.04,331.96 166.09,331.92 167.13,331.88 168.17,331.84 169.22,331.80 170.26,331.76 171.30,331.71 172.35,331.67 173.39,331.63 174.43,331.58 175.47,331.54 176.52,331.49 177.56,331.44 178.60,331.40 179.65,331.35 180.69,331.30 181.73,331.25 182.78,331.20 183.82,331.15 184.86,331.09 185.91,331.04 186.95,330.98 187.99,330.93 189.04,330.87 190.08,330.82 191.12,330.76 192.17,330.70 193.21,330.64 194.25,330.58 195.29,330.52 196.34,330.46 197.38,330.39 198.42,330.33 199.47,330.27 200.51,330.20 201.55,330.13 202.60,330.06 203.64,330.00 204.68,329.93 205.73,329.86 206.77,329.78 207.81,329.71 208.86,329.64 209.90,329.56 210.94,329.49 211.99,329.41 213.03,329.33 214.07,329.25 215.12,329.18 216.16,329.09 217.20,329.01 218.24,328.93 219.29,328.85 220.33,328.76 221.37,328.68 222.42,328.59 223.46,328.50 224.50,328.41 225.55,328.32 226.59,328.23 227.63,328.14 228.68,328.04 229.72,327.95 230.76,327.85 231.81,327.75 232.85,327.66 233.89,327.56 234.94,327.46 235.98,327.35 237.02,327.25 238.07,327.15 239.11,327.04 240.15,326.94 241.19,326.83 242.24,326.72 243.28,326.61 244.32,326.50 245.37,326.38 246.41,326.27 247.45,326.16 248.50,326.04 249.54,325.92 250.58,325.80 251.63,325.68 252.67,325.56 253.71,325.44 254.76,325.31 255.80,325.19 256.84,325.06 257.89,324.93 258.93,324.80 259.97,324.67 261.02,324.54 262.06,324.41 263.10,324.27 264.14,324.14 265.19,324.00 266.23,323.86 267.27,323.72 268.32,323.58 269.36,323.44 270.40,323.29 271.45,323.15 272.49,323.00 273.53,322.85 274.58,322.70 275.62,322.55 276.66,322.39 277.71,322.24 278.75,322.08 279.79,321.93 280.84,321.77 281.88,321.61 282.92,321.45 283.96,321.28 285.01,321.12 286.05,320.95 287.09,320.78 288.14,320.61 289.18,320.44 290.22,320.27 291.27,320.10 292.31,319.92 293.35,319.74 294.40,319.56 295.44,319.38 296.48,319.20 297.53,319.02 298.57,318.83 299.61,318.65 300.66,318.46 301.70,318.27 302.74,318.08 303.79,317.88 304.83,317.69 305.87,317.49 306.91,317.29 307.96,317.09 309.00,316.89 310.04,316.69 311.09,316.49 312.13,316.28 313.17,316.07 314.22,315.86 315.26,315.65 316.30,315.44 317.35,315.22 318.39,315.00 319.43,314.79 320.48,314.57 321.52,314.34 322.56,314.12 323.61,313.89 324.65,313.67 325.69,313.44 326.74,313.21 327.78,312.97 328.82,312.74 329.86,312.50 330.91,312.26 331.95,312.02 332.99,311.78 334.04,311.54 335.08,311.29 336.12,311.05 337.17,310.80 338.21,310.55 339.25,310.29 340.30,310.04 341.34,309.78 342.38,309.52 343.43,309.26 344.47,309.00 345.51,308.74 346.56,308.47 347.60,308.20 348.64,307.93 349.68,307.66 350.73,307.39 351.77,307.11 352.81,306.83 353.86,306.55 354.90,306.27 355.94,305.99 356.99,305.70 358.03,305.41 359.07,305.12 360.12,304.83 361.16,304.54 362.20,304.24 363.25,303.94 364.29,303.64 365.33,303.34 366.38,303.04 367.42,302.73 368.46,302.42 369.51,302.11 370.55,301.80 371.59,301.49 372.63,301.17 373.68,300.85 374.72,300.53 375.76,300.21 376.81,299.88 377.85,299.56 378.89,299.23 379.94,298.90 380.98,298.56 382.02,298.23 383.07,297.89 384.11,297.55 385.15,297.21 386.20,296.86 387.24,296.52 388.28,296.17 389.33,295.82 390.37,295.46 391.41,295.11 392.46,294.75 393.50,294.39 394.54,294.03 395.58,293.66 396.63,293.30 397.67,292.93 398.71,292.56 399.76,292.18 400.80,291.81 401.84,291.43 402.89,291.05 403.93,290.66 404.97,290.28 406.02,289.89 407.06,289.50 408.10,289.11 409.15,288.72 410.19,288.32 411.23,287.92 412.28,287.52 413.32,287.11 414.36,286.71 415.41,286.30 416.45,285.89 417.49,285.48 418.53,285.06 419.58,284.64 420.62,284.22 421.66,283.80 422.71,283.37 423.75,282.94 424.79,282.51 425.84,282.08 426.88,281.64 427.92,281.21 428.97,280.77 430.01,280.32 431.05,279.88 432.10,279.43 433.14,278.98 434.18,278.53 435.23,278.07 436.27,277.61 437.31,277.15 438.35,276.69 439.40,276.23 440.44,275.76 441.48,275.29 442.53,274.81 443.57,274.34 444.61,273.86 445.66,273.38 446.70,272.89 447.74,272.41 448.79,271.92 449.83,271.43 450.87,270.93 451.92,270.44 452.96,269.94 454.00,269.44 455.05,268.93 456.09,268.42 457.13,267.91 458.18,267.40 459.22,266.89 460.26,266.37 461.30,265.85 462.35,265.32 463.39,264.80 464.43,264.27 465.48,263.74 466.52,263.20 467.56,262.67 468.61,262.13 469.65,261.58 470.69,261.04 471.74,260.49 472.78,259.94 473.82,259.39 474.87,258.83 475.91,258.27 476.95,257.71 478.00,257.14 479.04,256.58 480.08,256.01 481.13,255.43 482.17,254.86 483.21,254.28 484.25,253.70 485.30,253.11 486.34,252.52 487.38,251.93 488.43,251.34 489.47,250.74 490.51,250.14 491.56,249.54 492.60,248.94" fill="none" stroke="#8f7550" stroke-width="1.8"/>
<polyline points="76.37,333.42 77.32,333.42 78.26,333.41 79.21,333.41 80.15,333.40 81.10,333.40 82.05,333.40 82.99,333.39 83.94,333.39 84.88,333.38 85.83,333.38 86.77,333.37 87.72,333.37 88.66,333.36 89.61,333.35 90.56,333.35 91.50,333.34 92.45,333.34 93.39,333.33 94.34,333.32 95.28,333.32 96.23,333.31 97.17,333.30 98.12,333.30 99.06,333.29 100.01,333.28 100.96,333.27 101.90,333.26 102.85,333.26 103.79,333.25 104.74,333.24 105.68,333.23 106.63,333.22 107.57,333.21 108.52,333.20 109.46,333.19 110.41,333.18 111.36,333.17 112.30,333.16 113.25,333.15 114.19,333.14 115.14,333.13 116.08,333.11 117.03,333.10 117.97,333.09 118.92,333.08 119.86,333.06 120.81,333.05 121.76,333.04 122.70,333.02 123.65,333.01 124.59,332.99 125.54,332.98 126.48,332.96 127.43,332.94 128.37,332.93 129.32,332.91 130.27,332.89 131.21,332.88 132.16,332.86" fill="none" stroke="#8c7848" stroke-width="5"/>
<polyline points="132.16,332.86 133.67,332.83 135.19,332.80 136.71,332.77 138.22,332.74 139.74,332.70 141.26,332.67 142.78,332.63 144.29,332.59 145.81,332.56 147.33,332.52 148.84,332.47 150.36,332.43 151.88,332.39 153.39,332.35 154.91,332.30 156.43,332.25 157.95,332.20 159.46,332.15 160.98,332.10 162.50,332.05 164.01,332.00 165.53,331.94 167.05,331.88 168.56,331.82 170.08,331.76 171.60,331.70 173.12,331.64 174.63,331.57 176.15,331.51 177.67,331.44 179.18,331.37 180.70,331.30 182.22,331.22 183.73,331.15 185.25,331.07 186.77,330.99 188.29,330.91 189.80,330.83 191.32,330.75 192.84,330.66 194.35,330.57 195.87,330.49 197.39,330.39 198.90,330.30 200.42,330.20 201.94,330.11 203.46,330.01 204.97,329.91 206.49,329.80 208.01,329.70 209.52,329.59 211.04,329.48 212.56,329.37 214.08,329.25 215.59,329.14 217.11,329.02 218.63,328.90 220.14,328.78 221.66,328.65 223.18,328.52 224.69,328.39 226.21,328.26 227.73,328.13 229.25,327.99 230.76,327.85 232.28,327.71 233.80,327.57 235.31,327.42 236.83,327.27 238.35,327.12 239.86,326.96 241.38,326.81 242.90,326.65 244.42,326.49 245.93,326.32 247.45,326.16 248.97,325.99 250.48,325.81 252.00,325.64 253.52,325.46 255.03,325.28 256.55,325.10 258.07,324.91 259.59,324.72 261.10,324.53 262.62,324.34 264.14,324.14 265.65,323.94 267.17,323.73 268.69,323.53 270.20,323.32 271.72,323.11 273.24,322.89 274.76,322.67 276.27,322.45 277.79,322.23 279.31,322.00 280.82,321.77 282.34,321.54" fill="none" stroke="#b3815f" stroke-width="4.6"/>
<circle cx="282.53" cy="321.51" r="2.35" fill="#fff" stroke="#e07464" stroke-width="1.15"/>
<circle cx="284.82" cy="321.15" r="2.35" fill="#fff" stroke="#e07464" stroke-width="1.15"/>
<circle cx="287.15" cy="320.77" r="2.35" fill="#fff" stroke="#e07464" stroke-width="1.15"/>
<circle cx="289.51" cy="320.39" r="2.35" fill="#fff" stroke="#e07464" stroke-width="1.15"/>
<circle cx="291.91" cy="319.99" r="2.35" fill="#fff" stroke="#e07464" stroke-width="1.15"/>
<circle cx="294.34" cy="319.57" r="2.35" fill="#fff" stroke="#e07464" stroke-width="1.15"/>
<circle cx="296.82" cy="319.14" r="2.35" fill="#fff" stroke="#e07464" stroke-width="1.15"/>
<circle cx="299.33" cy="318.70" r="2.35" fill="#fff" stroke="#e07464" stroke-width="1.15"/>
<circle cx="301.88" cy="318.24" r="2.35" fill="#fff" stroke="#e07464" stroke-width="1.15"/>
<circle cx="304.47" cy="317.76" r="2.35" fill="#fff" stroke="#e07464" stroke-width="1.15"/>
<circle cx="307.10" cy="317.26" r="2.35" fill="#fff" stroke="#e07464" stroke-width="1.15"/>
<circle cx="309.77" cy="316.74" r="2.35" fill="#fff" stroke="#e07464" stroke-width="1.15"/>
<circle cx="312.48" cy="316.21" r="2.35" fill="#fff" stroke="#e07464" stroke-width="1.15"/>
<circle cx="315.24" cy="315.65" r="2.35" fill="#fff" stroke="#e07464" stroke-width="1.15"/>
<circle cx="318.04" cy="315.08" r="2.35" fill="#fff" stroke="#e07464" stroke-width="1.15"/>
<circle cx="320.89" cy="314.48" r="2.35" fill="#fff" stroke="#e07464" stroke-width="1.15"/>
<circle cx="323.78" cy="313.85" r="2.35" fill="#fff" stroke="#e07464" stroke-width="1.15"/>
<circle cx="326.73" cy="313.21" r="2.35" fill="#fff" stroke="#e07464" stroke-width="1.15"/>
<circle cx="329.72" cy="312.54" r="2.35" fill="#fff" stroke="#e07464" stroke-width="1.15"/>
<circle cx="332.75" cy="311.84" r="2.35" fill="#fff" stroke="#e07464" stroke-width="1.15"/>
<circle cx="335.84" cy="311.11" r="2.35" fill="#fff" stroke="#e07464" stroke-width="1.15"/>
<circle cx="338.98" cy="310.36" r="2.35" fill="#fff" stroke="#e07464" stroke-width="1.15"/>
<circle cx="342.18" cy="309.58" r="2.35" fill="#fff" stroke="#e07464" stroke-width="1.15"/>
<circle cx="345.42" cy="308.76" r="2.35" fill="#fff" stroke="#e07464" stroke-width="1.15"/>
<circle cx="348.72" cy="307.91" r="2.35" fill="#fff" stroke="#e07464" stroke-width="1.15"/>
<circle cx="352.08" cy="307.03" r="2.35" fill="#fff" stroke="#e07464" stroke-width="1.15"/>
<circle cx="355.50" cy="306.11" r="2.35" fill="#fff" stroke="#e07464" stroke-width="1.15"/>
<circle cx="358.97" cy="305.15" r="2.35" fill="#fff" stroke="#e07464" stroke-width="1.15"/>
<circle cx="362.50" cy="304.16" r="2.35" fill="#fff" stroke="#e07464" stroke-width="1.15"/>
<circle cx="366.10" cy="303.12" r="2.35" fill="#fff" stroke="#e07464" stroke-width="1.15"/>
<circle cx="369.76" cy="302.04" r="2.35" fill="#fff" stroke="#e07464" stroke-width="1.15"/>
<circle cx="373.48" cy="300.91" r="2.35" fill="#fff" stroke="#e07464" stroke-width="1.15"/>
<circle cx="377.27" cy="299.74" r="2.35" fill="#fff" stroke="#e07464" stroke-width="1.15"/>
<circle cx="381.12" cy="298.52" r="2.35" fill="#fff" stroke="#e07464" stroke-width="1.15"/>
<circle cx="385.04" cy="297.24" r="2.35" fill="#fff" stroke="#e07464" stroke-width="1.15"/>
<circle cx="389.04" cy="295.91" r="2.35" fill="#fff" stroke="#e07464" stroke-width="1.15"/>
<circle cx="393.10" cy="294.53" r="2.35" fill="#fff" stroke="#e07464" stroke-width="1.15"/>
<circle cx="397.24" cy="293.08" r="2.35" fill="#fff" stroke="#e07464" stroke-width="1.15"/>
<circle cx="401.46" cy="291.57" r="2.35" fill="#fff" stroke="#e07464" stroke-width="1.15"/>
<circle cx="405.75" cy="289.99" r="2.35" fill="#fff" stroke="#e07464" stroke-width="1.15"/>
<circle cx="410.12" cy="288.34" r="2.35" fill="#fff" stroke="#e07464" stroke-width="1.15"/>
<circle cx="414.58" cy="286.62" r="2.35" fill="#fff" stroke="#e07464" stroke-width="1.15"/>
<circle cx="419.11" cy="284.83" r="2.35" fill="#fff" stroke="#e07464" stroke-width="1.15"/>
<circle cx="423.73" cy="282.95" r="2.35" fill="#fff" stroke="#e07464" stroke-width="1.15"/>
<circle cx="428.44" cy="280.99" r="2.35" fill="#fff" stroke="#e07464" stroke-width="1.15"/>
<circle cx="433.24" cy="278.94" r="2.35" fill="#fff" stroke="#e07464" stroke-width="1.15"/>
<circle cx="438.13" cy="276.79" r="2.35" fill="#fff" stroke="#e07464" stroke-width="1.15"/>
<circle cx="443.11" cy="274.55" r="2.35" fill="#fff" stroke="#e07464" stroke-width="1.15"/>
<circle cx="448.19" cy="272.20" r="2.35" fill="#fff" stroke="#e07464" stroke-width="1.15"/>
<circle cx="453.37" cy="269.74" r="2.35" fill="#fff" stroke="#e07464" stroke-width="1.15"/>
<circle cx="458.65" cy="267.17" r="2.35" fill="#fff" stroke="#e07464" stroke-width="1.15"/>
<circle cx="464.03" cy="264.48" r="2.35" fill="#fff" stroke="#e07464" stroke-width="1.15"/>
<circle cx="469.52" cy="261.65" r="2.35" fill="#fff" stroke="#e07464" stroke-width="1.15"/>
<circle cx="475.12" cy="258.70" r="2.35" fill="#fff" stroke="#e07464" stroke-width="1.15"/>
<circle cx="480.83" cy="255.60" r="2.35" fill="#fff" stroke="#e07464" stroke-width="1.15"/>
<circle cx="486.66" cy="252.35" r="2.35" fill="#fff" stroke="#e07464" stroke-width="1.15"/>
<circle cx="492.60" cy="248.94" r="2.35" fill="#fff" stroke="#e07464" stroke-width="1.15"/>
<polyline points="92.12,333.67 93.12,333.67 94.13,333.66 95.13,333.65 96.14,333.64 97.14,333.64 98.14,333.63 99.15,333.62 100.15,333.61 101.15,333.60 102.16,333.59 103.16,333.58 104.17,333.58 105.17,333.57 106.17,333.56 107.18,333.55 108.18,333.54 109.18,333.53 110.19,333.52 111.19,333.51 112.20,333.49 113.20,333.48 114.20,333.47 115.21,333.46 116.21,333.45 117.21,333.44 118.22,333.42 119.22,333.41 120.22,333.40 121.23,333.39 122.23,333.37 123.24,333.36 124.24,333.35 125.24,333.33 126.25,333.32 127.25,333.30 128.25,333.29 129.26,333.27 130.26,333.26 131.27,333.24 132.27,333.22 133.27,333.21 134.28,333.19 135.28,333.17 136.28,333.16 137.29,333.14 138.29,333.12 139.30,333.10 140.30,333.09 141.30,333.07 142.31,333.05 143.31,333.03 144.31,333.01 145.32,332.99 146.32,332.97 147.32,332.95 148.33,332.93 149.33,332.91 150.34,332.88 151.34,332.86 152.34,332.84 153.35,332.82 154.35,332.79 155.35,332.77 156.36,332.75 157.36,332.72 158.37,332.70 159.37,332.67 160.37,332.65 161.38,332.62 162.38,332.60 163.38,332.57 164.39,332.55 165.39,332.52 166.40,332.49 167.40,332.46 168.40,332.44 169.41,332.41 170.41,332.38 171.41,332.35 172.42,332.32 173.42,332.29 174.42,332.26 175.43,332.23 176.43,332.20 177.44,332.16 178.44,332.13 179.44,332.10 180.45,332.07 181.45,332.03 182.45,332.00 183.46,331.97 184.46,331.93 185.47,331.90 186.47,331.86 187.47,331.82 188.48,331.79 189.48,331.75 190.48,331.71 191.49,331.68 192.49,331.64 193.50,331.60 194.50,331.56 195.50,331.52 196.51,331.48 197.51,331.44 198.51,331.40 199.52,331.36 200.52,331.32 201.53,331.27 202.53,331.23 203.53,331.19 204.54,331.14 205.54,331.10 206.54,331.06 207.55,331.01 208.55,330.96 209.55,330.92 210.56,330.87 211.56,330.82 212.57,330.78 213.57,330.73 214.57,330.68 215.58,330.63 216.58,330.58 217.58,330.53 218.59,330.48 219.59,330.43 220.60,330.38 221.60,330.32 222.60,330.27 223.61,330.22 224.61,330.16 225.61,330.11 226.62,330.05 227.62,330.00 228.63,329.94 229.63,329.89 230.63,329.83 231.64,329.77 232.64,329.71 233.64,329.65 234.65,329.59 235.65,329.53 236.65,329.47 237.66,329.41 238.66,329.35 239.67,329.29 240.67,329.22 241.67,329.16 242.68,329.10 243.68,329.03 244.68,328.97 245.69,328.90 246.69,328.83 247.70,328.77 248.70,328.70 249.70,328.63 250.71,328.56 251.71,328.49 252.71,328.42 253.72,328.35 254.72,328.28 255.73,328.21 256.73,328.13 257.73,328.06 258.74,327.99 259.74,327.91 260.74,327.84 261.75,327.76 262.75,327.68 263.75,327.61 264.76,327.53 265.76,327.45 266.77,327.37 267.77,327.29 268.77,327.21 269.78,327.13 270.78,327.05 271.78,326.97 272.79,326.88 273.79,326.80 274.80,326.71 275.80,326.63 276.80,326.54 277.81,326.46 278.81,326.37 279.81,326.28 280.82,326.19 281.82,326.10 282.83,326.01 283.83,325.92 284.83,325.83 285.84,325.74 286.84,325.65 287.84,325.55 288.85,325.46 289.85,325.36 290.85,325.27 291.86,325.17 292.86,325.07 293.87,324.98 294.87,324.88 295.87,324.78 296.88,324.68 297.88,324.58 298.88,324.48 299.89,324.37 300.89,324.27 301.90,324.17 302.90,324.06 303.90,323.96 304.91,323.85 305.91,323.74 306.91,323.64 307.92,323.53 308.92,323.42 309.93,323.31 310.93,323.20 311.93,323.09 312.94,322.97 313.94,322.86 314.94,322.75 315.95,322.63 316.95,322.52 317.96,322.40 318.96,322.28 319.96,322.17 320.97,322.05 321.97,321.93 322.97,321.81 323.98,321.69 324.98,321.56 325.98,321.44 326.99,321.32 327.99,321.19 329.00,321.07 330.00,320.94 331.00,320.81 332.01,320.69 333.01,320.56 334.01,320.43 335.02,320.30 336.02,320.17 337.03,320.04 338.03,319.90 339.03,319.77 340.04,319.63 341.04,319.50 342.04,319.36 343.05,319.23 344.05,319.09 345.06,318.95 346.06,318.81 347.06,318.67 348.07,318.53 349.07,318.38 350.07,318.24 351.08,318.10 352.08,317.95 353.08,317.81 354.09,317.66 355.09,317.51 356.10,317.36 357.10,317.21 358.10,317.06 359.11,316.91 360.11,316.76 361.11,316.61 362.12,316.45 363.12,316.30 364.13,316.14 365.13,315.98 366.13,315.83 367.14,315.67 368.14,315.51 369.14,315.35 370.15,315.19 371.15,315.02 372.16,314.86 373.16,314.70 374.16,314.53 375.17,314.36 376.17,314.20 377.17,314.03 378.18,313.86 379.18,313.69 380.18,313.52 381.19,313.35 382.19,313.17 383.20,313.00 384.20,312.82 385.20,312.65 386.21,312.47 387.21,312.29 388.21,312.11 389.22,311.93 390.22,311.75 391.23,311.57 392.23,311.39 393.23,311.20 394.24,311.02 395.24,310.83 396.24,310.65 397.25,310.46 398.25,310.27 399.26,310.08 400.26,309.89 401.26,309.70 402.27,309.50 403.27,309.31 404.27,309.11 405.28,308.92 406.28,308.72 407.28,308.52 408.29,308.32 409.29,308.12 410.30,307.92 411.30,307.72 412.30,307.51 413.31,307.31 414.31,307.10 415.31,306.90 416.32,306.69 417.32,306.48 418.33,306.27 419.33,306.06 420.33,305.85 421.34,305.63 422.34,305.42 423.34,305.20 424.35,304.99 425.35,304.77 426.36,304.55 427.36,304.33 428.36,304.11 429.37,303.89 430.37,303.66 431.37,303.44 432.38,303.21 433.38,302.99 434.39,302.76 435.39,302.53 436.39,302.30 437.40,302.07 438.40,301.84 439.40,301.61 440.41,301.37 441.41,301.14 442.41,300.90 443.42,300.66 444.42,300.42 445.43,300.18 446.43,299.94 447.43,299.70 448.44,299.45 449.44,299.21 450.44,298.96 451.45,298.72 452.45,298.47 453.46,298.22 454.46,297.97 455.46,297.72 456.47,297.46 457.47,297.21 458.47,296.95 459.48,296.70 460.48,296.44 461.49,296.18 462.49,295.92 463.49,295.66 464.50,295.40 465.50,295.13 466.50,294.87 467.51,294.60 468.51,294.34 469.51,294.07 470.52,293.80 471.52,293.53 472.53,293.25 473.53,292.98 474.53,292.71 475.54,292.43 476.54,292.15 477.54,291.87 478.55,291.60 479.55,291.31 480.56,291.03 481.56,290.75 482.56,290.46 483.57,290.18 484.57,289.89 485.57,289.60 486.58,289.31 487.58,289.02 488.59,288.73 489.59,288.44 490.59,288.14 491.60,287.85 492.60,287.55" fill="none" stroke="#2a3fc8" stroke-width="1.8"/>
<path d="M92.11,330.65 L94.91,335.69 L89.31,335.69Z" fill="#fff" stroke="#2a3fc8" stroke-width="1.0"/>
<path d="M93.09,330.64 L95.89,335.68 L90.29,335.68Z" fill="#fff" stroke="#2a3fc8" stroke-width="1.0"/>
<path d="M94.15,330.63 L96.95,335.67 L91.35,335.67Z" fill="#fff" stroke="#2a3fc8" stroke-width="1.0"/>
<path d="M95.29,330.63 L98.09,335.67 L92.49,335.67Z" fill="#fff" stroke="#2a3fc8" stroke-width="1.0"/>
<path d="M96.51,330.62 L99.31,335.66 L93.71,335.66Z" fill="#fff" stroke="#2a3fc8" stroke-width="1.0"/>
<path d="M97.83,330.61 L100.63,335.65 L95.03,335.65Z" fill="#fff" stroke="#2a3fc8" stroke-width="1.0"/>
<path d="M99.26,330.59 L102.06,335.63 L96.46,335.63Z" fill="#fff" stroke="#2a3fc8" stroke-width="1.0"/>
<path d="M100.81,330.58 L103.61,335.62 L98.01,335.62Z" fill="#fff" stroke="#2a3fc8" stroke-width="1.0"/>
<path d="M102.51,330.57 L105.31,335.61 L99.71,335.61Z" fill="#fff" stroke="#2a3fc8" stroke-width="1.0"/>
<path d="M104.37,330.55 L107.17,335.59 L101.57,335.59Z" fill="#fff" stroke="#2a3fc8" stroke-width="1.0"/>
<path d="M106.41,330.53 L109.21,335.57 L103.61,335.57Z" fill="#fff" stroke="#2a3fc8" stroke-width="1.0"/>
<path d="M108.67,330.51 L111.47,335.55 L105.87,335.55Z" fill="#fff" stroke="#2a3fc8" stroke-width="1.0"/>
<path d="M111.18,330.48 L113.98,335.52 L108.38,335.52Z" fill="#fff" stroke="#2a3fc8" stroke-width="1.0"/>
<path d="M113.98,330.45 L116.78,335.49 L111.18,335.49Z" fill="#fff" stroke="#2a3fc8" stroke-width="1.0"/>
<path d="M117.14,330.41 L119.94,335.45 L114.34,335.45Z" fill="#fff" stroke="#2a3fc8" stroke-width="1.0"/>
<path d="M123.57,330.33 L126.37,335.37 L120.77,335.37Z" fill="#fff" stroke="#2a3fc8" stroke-width="1.0"/>
<path d="M127.87,330.27 L130.67,335.31 L125.07,335.31Z" fill="#fff" stroke="#2a3fc8" stroke-width="1.0"/>
<path d="M132.16,330.20 L134.96,335.24 L129.36,335.24Z" fill="#fff" stroke="#2a3fc8" stroke-width="1.0"/>
<path d="M136.45,330.13 L139.25,335.17 L133.65,335.17Z" fill="#fff" stroke="#2a3fc8" stroke-width="1.0"/>
<path d="M140.74,330.05 L143.54,335.09 L137.94,335.09Z" fill="#fff" stroke="#2a3fc8" stroke-width="1.0"/>
<path d="M145.03,329.97 L147.83,335.01 L142.23,335.01Z" fill="#fff" stroke="#2a3fc8" stroke-width="1.0"/>
<path d="M149.32,329.88 L152.12,334.92 L146.52,334.92Z" fill="#fff" stroke="#2a3fc8" stroke-width="1.0"/>
<path d="M153.84,329.78 L156.64,334.82 L151.04,334.82Z" fill="#fff" stroke="#2a3fc8" stroke-width="1.0"/>
<path d="M158.86,329.66 L161.66,334.70 L156.06,334.70Z" fill="#fff" stroke="#2a3fc8" stroke-width="1.0"/>
<path d="M164.46,329.52 L167.26,334.56 L161.66,334.56Z" fill="#fff" stroke="#2a3fc8" stroke-width="1.0"/>
<path d="M170.78,329.34 L173.58,334.38 L167.97,334.38Z" fill="#fff" stroke="#2a3fc8" stroke-width="1.0"/>
<path d="M177.93,329.12 L180.73,334.16 L175.13,334.16Z" fill="#fff" stroke="#2a3fc8" stroke-width="1.0"/>
<path d="M186.10,328.85 L188.90,333.89 L183.30,333.89Z" fill="#fff" stroke="#2a3fc8" stroke-width="1.0"/>
<path d="M195.53,328.50 L198.33,333.54 L192.73,333.54Z" fill="#fff" stroke="#2a3fc8" stroke-width="1.0"/>
<path d="M206.53,328.03 L209.33,333.07 L203.73,333.07Z" fill="#fff" stroke="#2a3fc8" stroke-width="1.0"/>
<path d="M219.54,327.41 L222.34,332.45 L216.74,332.45Z" fill="#fff" stroke="#2a3fc8" stroke-width="1.0"/>
<path d="M235.14,326.54 L237.94,331.58 L232.34,331.58Z" fill="#fff" stroke="#2a3fc8" stroke-width="1.0"/>
<path d="M254.21,325.29 L257.01,330.33 L251.41,330.33Z" fill="#fff" stroke="#2a3fc8" stroke-width="1.0"/>
<path d="M278.05,323.41 L280.85,328.45 L275.25,328.45Z" fill="#fff" stroke="#2a3fc8" stroke-width="1.0"/>
<path d="M308.70,320.42 L311.50,325.46 L305.90,325.46Z" fill="#fff" stroke="#2a3fc8" stroke-width="1.0"/>
<path d="M349.57,315.29 L352.37,320.33 L346.77,320.33Z" fill="#fff" stroke="#2a3fc8" stroke-width="1.0"/>
<path d="M406.78,305.60 L409.58,310.64 L403.98,310.64Z" fill="#fff" stroke="#2a3fc8" stroke-width="1.0"/>
<path d="M492.60,284.52 L495.40,289.56 L489.80,289.56Z" fill="#fff" stroke="#2a3fc8" stroke-width="1.0"/>
<polyline points="92.12,333.43 93.12,333.37 94.13,333.32 95.13,333.26 96.14,333.21 97.14,333.15 98.14,333.10 99.15,333.05 100.15,332.99 101.15,332.94 102.16,332.89 103.16,332.83 104.17,332.78 105.17,332.73 106.17,332.67 107.18,332.62 108.18,332.57 109.18,332.51 110.19,332.46 111.19,332.41 112.20,332.35 113.20,332.30 114.20,332.25 115.21,332.20 116.21,332.14 117.21,332.09 118.22,332.04 119.22,331.98 120.22,331.93 121.23,331.88 122.23,331.83 123.24,331.78 124.24,331.72 125.24,331.67 126.25,331.62 127.25,331.57 128.25,331.51 129.26,331.46 130.26,331.41 131.27,331.36 132.27,331.31 133.27,331.25 134.28,331.20 135.28,331.15 136.28,331.10 137.29,331.05 138.29,330.99 139.30,330.94 140.30,330.89 141.30,330.84 142.31,330.79 143.31,330.73 144.31,330.68 145.32,330.63 146.32,330.58 147.32,330.53 148.33,330.48 149.33,330.42 150.34,330.37 151.34,330.32 152.34,330.27 153.35,330.22 154.35,330.16 155.35,330.11 156.36,330.06 157.36,330.01 158.37,329.96 159.37,329.90 160.37,329.85 161.38,329.80 162.38,329.75 163.38,329.69 164.39,329.64 165.39,329.59 166.40,329.54 167.40,329.49 168.40,329.43 169.41,329.38 170.41,329.33 171.41,329.28 172.42,329.22 173.42,329.17 174.42,329.12 175.43,329.06 176.43,329.01 177.44,328.96 178.44,328.91 179.44,328.85 180.45,328.80 181.45,328.75 182.45,328.69 183.46,328.64 184.46,328.59 185.47,328.53 186.47,328.48 187.47,328.43 188.48,328.37 189.48,328.32 190.48,328.26 191.49,328.21 192.49,328.16 193.50,328.10 194.50,328.05 195.50,327.99 196.51,327.94 197.51,327.89 198.51,327.83 199.52,327.78 200.52,327.72 201.53,327.67 202.53,327.61 203.53,327.56 204.54,327.50 205.54,327.45 206.54,327.39 207.55,327.33 208.55,327.28 209.55,327.22 210.56,327.17 211.56,327.11 212.57,327.05 213.57,327.00 214.57,326.94 215.58,326.88 216.58,326.83 217.58,326.77 218.59,326.71 219.59,326.66 220.60,326.60 221.60,326.54 222.60,326.48 223.61,326.43 224.61,326.37 225.61,326.31 226.62,326.25 227.62,326.19 228.63,326.13 229.63,326.08 230.63,326.02 231.64,325.96 232.64,325.90 233.64,325.84 234.65,325.78 235.65,325.72 236.65,325.66 237.66,325.60 238.66,325.54 239.67,325.48 240.67,325.42 241.67,325.36 242.68,325.30 243.68,325.24 244.68,325.17 245.69,325.11 246.69,325.05 247.70,324.99 248.70,324.93 249.70,324.86 250.71,324.80 251.71,324.74 252.71,324.68 253.72,324.61 254.72,324.55 255.73,324.49 256.73,324.42 257.73,324.36 258.74,324.29 259.74,324.23 260.74,324.16 261.75,324.10 262.75,324.03 263.75,323.97 264.76,323.90 265.76,323.84 266.77,323.77 267.77,323.70 268.77,323.64 269.78,323.57 270.78,323.50 271.78,323.44 272.79,323.37 273.79,323.30 274.80,323.23 275.80,323.17 276.80,323.10 277.81,323.03 278.81,322.96 279.81,322.89 280.82,322.82 281.82,322.75 282.83,322.68 283.83,322.61 284.83,322.54 285.84,322.47 286.84,322.40 287.84,322.33 288.85,322.25 289.85,322.18 290.85,322.11 291.86,322.04 292.86,321.96 293.87,321.89 294.87,321.82 295.87,321.74 296.88,321.67 297.88,321.60 298.88,321.52 299.89,321.45 300.89,321.37 301.90,321.30 302.90,321.22 303.90,321.14 304.91,321.07 305.91,320.99 306.91,320.91 307.92,320.84 308.92,320.76 309.93,320.68 310.93,320.60 311.93,320.53 312.94,320.45 313.94,320.37 314.94,320.29 315.95,320.21 316.95,320.13 317.96,320.05 318.96,319.97 319.96,319.88 320.97,319.80 321.97,319.72 322.97,319.64 323.98,319.56 324.98,319.47 325.98,319.39 326.99,319.31 327.99,319.22 329.00,319.14 330.00,319.05 331.00,318.97 332.01,318.88 333.01,318.80 334.01,318.71 335.02,318.63 336.02,318.54 337.03,318.45 338.03,318.36 339.03,318.28 340.04,318.19 341.04,318.10 342.04,318.01 343.05,317.92 344.05,317.83 345.06,317.74 346.06,317.65 347.06,317.56 348.07,317.47 349.07,317.38 350.07,317.28 351.08,317.19 352.08,317.10 353.08,317.01 354.09,316.91 355.09,316.82 356.10,316.72 357.10,316.63 358.10,316.53 359.11,316.44 360.11,316.34 361.11,316.24 362.12,316.15 363.12,316.05 364.13,315.95 365.13,315.85 366.13,315.75 367.14,315.66 368.14,315.56 369.14,315.46 370.15,315.36 371.15,315.26 372.16,315.15 373.16,315.05 374.16,314.95 375.17,314.85 376.17,314.74 377.17,314.64 378.18,314.54 379.18,314.43 380.18,314.33 381.19,314.22 382.19,314.12 383.20,314.01 384.20,313.90 385.20,313.80 386.21,313.69 387.21,313.58 388.21,313.47 389.22,313.36 390.22,313.25 391.23,313.14 392.23,313.03 393.23,312.92 394.24,312.81 395.24,312.70 396.24,312.59 397.25,312.48 398.25,312.36 399.26,312.25 400.26,312.13 401.26,312.02 402.27,311.90 403.27,311.79 404.27,311.67 405.28,311.56 406.28,311.44 407.28,311.32 408.29,311.20 409.29,311.08 410.30,310.96 411.30,310.84 412.30,310.72 413.31,310.60 414.31,310.48 415.31,310.36 416.32,310.24 417.32,310.12 418.33,309.99 419.33,309.87 420.33,309.74 421.34,309.62 422.34,309.49 423.34,309.37 424.35,309.24 425.35,309.11 426.36,308.99 427.36,308.86 428.36,308.73 429.37,308.60 430.37,308.47 431.37,308.34 432.38,308.21 433.38,308.08 434.39,307.95 435.39,307.81 436.39,307.68 437.40,307.55 438.40,307.41 439.40,307.28 440.41,307.14 441.41,307.01 442.41,306.87 443.42,306.73 444.42,306.59 445.43,306.46 446.43,306.32 447.43,306.18 448.44,306.04 449.44,305.90 450.44,305.76 451.45,305.61 452.45,305.47 453.46,305.33 454.46,305.19 455.46,305.04 456.47,304.90 457.47,304.75 458.47,304.61 459.48,304.46 460.48,304.31 461.49,304.16 462.49,304.02 463.49,303.87 464.50,303.72 465.50,303.57 466.50,303.42 467.51,303.27 468.51,303.11 469.51,302.96 470.52,302.81 471.52,302.65 472.53,302.50 473.53,302.34 474.53,302.19 475.54,302.03 476.54,301.88 477.54,301.72 478.55,301.56 479.55,301.40 480.56,301.24 481.56,301.08 482.56,300.92 483.57,300.76 484.57,300.60 485.57,300.43 486.58,300.27 487.58,300.11 488.59,299.94 489.59,299.77 490.59,299.61 491.60,299.44 492.60,299.27" fill="none" stroke="#5b7f5b" stroke-width="1.8"/>
<path d="M92.11,336.45 L94.91,331.41 L89.31,331.41Z" fill="#fff" stroke="#5b7f5b" stroke-width="1.0"/>
<path d="M93.09,336.40 L95.89,331.36 L90.29,331.36Z" fill="#fff" stroke="#5b7f5b" stroke-width="1.0"/>
<path d="M94.15,336.34 L96.95,331.30 L91.35,331.30Z" fill="#fff" stroke="#5b7f5b" stroke-width="1.0"/>
<path d="M95.29,336.28 L98.09,331.24 L92.49,331.24Z" fill="#fff" stroke="#5b7f5b" stroke-width="1.0"/>
<path d="M96.51,336.21 L99.31,331.17 L93.71,331.17Z" fill="#fff" stroke="#5b7f5b" stroke-width="1.0"/>
<path d="M97.83,336.14 L100.63,331.10 L95.03,331.10Z" fill="#fff" stroke="#5b7f5b" stroke-width="1.0"/>
<path d="M99.26,336.06 L102.06,331.02 L96.46,331.02Z" fill="#fff" stroke="#5b7f5b" stroke-width="1.0"/>
<path d="M100.81,335.98 L103.61,330.94 L98.01,330.94Z" fill="#fff" stroke="#5b7f5b" stroke-width="1.0"/>
<path d="M102.51,335.89 L105.31,330.85 L99.71,330.85Z" fill="#fff" stroke="#5b7f5b" stroke-width="1.0"/>
<path d="M104.37,335.79 L107.17,330.75 L101.57,330.75Z" fill="#fff" stroke="#5b7f5b" stroke-width="1.0"/>
<path d="M106.41,335.68 L109.21,330.64 L103.61,330.64Z" fill="#fff" stroke="#5b7f5b" stroke-width="1.0"/>
<path d="M108.67,335.56 L111.47,330.52 L105.87,330.52Z" fill="#fff" stroke="#5b7f5b" stroke-width="1.0"/>
<path d="M111.18,335.43 L113.98,330.39 L108.38,330.39Z" fill="#fff" stroke="#5b7f5b" stroke-width="1.0"/>
<path d="M113.98,335.28 L116.78,330.24 L111.18,330.24Z" fill="#fff" stroke="#5b7f5b" stroke-width="1.0"/>
<path d="M117.14,335.12 L119.94,330.08 L114.34,330.08Z" fill="#fff" stroke="#5b7f5b" stroke-width="1.0"/>
<path d="M123.57,334.78 L126.37,329.74 L120.77,329.74Z" fill="#fff" stroke="#5b7f5b" stroke-width="1.0"/>
<path d="M127.87,334.56 L130.67,329.52 L125.07,329.52Z" fill="#fff" stroke="#5b7f5b" stroke-width="1.0"/>
<path d="M132.16,334.34 L134.96,329.30 L129.36,329.30Z" fill="#fff" stroke="#5b7f5b" stroke-width="1.0"/>
<path d="M136.45,334.11 L139.25,329.07 L133.65,329.07Z" fill="#fff" stroke="#5b7f5b" stroke-width="1.0"/>
<path d="M140.74,333.89 L143.54,328.85 L137.94,328.85Z" fill="#fff" stroke="#5b7f5b" stroke-width="1.0"/>
<path d="M145.03,333.67 L147.83,328.63 L142.23,328.63Z" fill="#fff" stroke="#5b7f5b" stroke-width="1.0"/>
<path d="M149.32,333.45 L152.12,328.41 L146.52,328.41Z" fill="#fff" stroke="#5b7f5b" stroke-width="1.0"/>
<path d="M153.84,333.21 L156.64,328.17 L151.04,328.17Z" fill="#fff" stroke="#5b7f5b" stroke-width="1.0"/>
<path d="M158.86,332.95 L161.66,327.91 L156.06,327.91Z" fill="#fff" stroke="#5b7f5b" stroke-width="1.0"/>
<path d="M164.46,332.66 L167.26,327.62 L161.66,327.62Z" fill="#fff" stroke="#5b7f5b" stroke-width="1.0"/>
<path d="M170.78,332.33 L173.58,327.29 L167.97,327.29Z" fill="#fff" stroke="#5b7f5b" stroke-width="1.0"/>
<path d="M177.93,331.96 L180.73,326.92 L175.13,326.92Z" fill="#fff" stroke="#5b7f5b" stroke-width="1.0"/>
<path d="M186.10,331.52 L188.90,326.48 L183.30,326.48Z" fill="#fff" stroke="#5b7f5b" stroke-width="1.0"/>
<path d="M195.53,331.02 L198.33,325.98 L192.73,325.98Z" fill="#fff" stroke="#5b7f5b" stroke-width="1.0"/>
<path d="M206.53,330.41 L209.33,325.37 L203.73,325.37Z" fill="#fff" stroke="#5b7f5b" stroke-width="1.0"/>
<path d="M219.54,329.68 L222.34,324.64 L216.74,324.64Z" fill="#fff" stroke="#5b7f5b" stroke-width="1.0"/>
<path d="M235.14,328.77 L237.94,323.73 L232.34,323.73Z" fill="#fff" stroke="#5b7f5b" stroke-width="1.0"/>
<path d="M254.21,327.61 L257.01,322.57 L251.41,322.57Z" fill="#fff" stroke="#5b7f5b" stroke-width="1.0"/>
<path d="M278.05,326.04 L280.85,321.00 L275.25,321.00Z" fill="#fff" stroke="#5b7f5b" stroke-width="1.0"/>
<path d="M308.70,323.80 L311.50,318.76 L305.90,318.76Z" fill="#fff" stroke="#5b7f5b" stroke-width="1.0"/>
<path d="M349.57,320.35 L352.37,315.31 L346.77,315.31Z" fill="#fff" stroke="#5b7f5b" stroke-width="1.0"/>
<path d="M406.78,314.40 L409.58,309.36 L403.98,309.36Z" fill="#fff" stroke="#5b7f5b" stroke-width="1.0"/>
<path d="M492.60,302.30 L495.40,297.26 L489.80,297.26Z" fill="#fff" stroke="#5b7f5b" stroke-width="1.0"/>
<polyline points="92.12,333.10 93.12,333.09 94.13,333.08 95.13,333.07 96.14,333.07 97.14,333.06 98.14,333.05 99.15,333.04 100.15,333.04 101.15,333.03 102.16,333.02 103.16,333.02 104.17,333.01 105.17,333.00 106.17,333.00 107.18,332.99 108.18,332.98 109.18,332.98 110.19,332.97 111.19,332.96 112.20,332.96 113.20,332.95 114.20,332.95 115.21,332.94 116.21,332.93 117.21,332.93 118.22,332.92 119.22,332.92 120.22,332.91 121.23,332.90 122.23,332.90 123.24,332.89 124.24,332.89 125.24,332.88 126.25,332.88 127.25,332.87 128.25,332.87 129.26,332.86 130.26,332.86 131.27,332.85 132.27,332.85 133.27,332.84 134.28,332.84 135.28,332.83 136.28,332.83 137.29,332.82 138.29,332.82 139.30,332.81 140.30,332.81 141.30,332.80 142.31,332.80 143.31,332.79 144.31,332.79 145.32,332.78 146.32,332.78 147.32,332.77 148.33,332.77 149.33,332.77 150.34,332.76 151.34,332.76 152.34,332.75 153.35,332.75 154.35,332.74 155.35,332.74 156.36,332.74 157.36,332.73 158.37,332.73 159.37,332.72 160.37,332.72 161.38,332.71 162.38,332.71 163.38,332.71 164.39,332.70 165.39,332.70 166.40,332.69 167.40,332.69 168.40,332.69 169.41,332.68 170.41,332.68 171.41,332.67 172.42,332.67 173.42,332.66 174.42,332.66 175.43,332.66 176.43,332.65 177.44,332.65 178.44,332.64 179.44,332.64 180.45,332.64 181.45,332.63 182.45,332.63 183.46,332.62 184.46,332.62 185.47,332.62 186.47,332.61 187.47,332.61 188.48,332.60 189.48,332.60 190.48,332.59 191.49,332.59 192.49,332.59 193.50,332.58 194.50,332.58 195.50,332.57 196.51,332.57 197.51,332.56 198.51,332.56 199.52,332.56 200.52,332.55 201.53,332.55 202.53,332.54 203.53,332.54 204.54,332.53 205.54,332.53 206.54,332.52 207.55,332.52 208.55,332.51 209.55,332.51 210.56,332.50 211.56,332.50 212.57,332.49 213.57,332.49 214.57,332.48 215.58,332.48 216.58,332.47 217.58,332.47 218.59,332.46 219.59,332.46 220.60,332.45 221.60,332.45 222.60,332.44 223.61,332.44 224.61,332.43 225.61,332.43 226.62,332.42 227.62,332.41 228.63,332.41 229.63,332.40 230.63,332.40 231.64,332.39 232.64,332.39 233.64,332.38 234.65,332.37 235.65,332.37 236.65,332.36 237.66,332.35 238.66,332.35 239.67,332.34 240.67,332.34 241.67,332.33 242.68,332.32 243.68,332.32 244.68,332.31 245.69,332.30 246.69,332.29 247.70,332.29 248.70,332.28 249.70,332.27 250.71,332.27 251.71,332.26 252.71,332.25 253.72,332.24 254.72,332.24 255.73,332.23 256.73,332.22 257.73,332.21 258.74,332.20 259.74,332.20 260.74,332.19 261.75,332.18 262.75,332.17 263.75,332.16 264.76,332.15 265.76,332.15 266.77,332.14 267.77,332.13 268.77,332.12 269.78,332.11 270.78,332.10 271.78,332.09 272.79,332.08 273.79,332.07 274.80,332.06 275.80,332.05 276.80,332.04 277.81,332.03 278.81,332.02 279.81,332.01 280.82,332.00 281.82,331.99 282.83,331.98 283.83,331.97 284.83,331.96 285.84,331.95 286.84,331.94 287.84,331.93 288.85,331.92 289.85,331.90 290.85,331.89 291.86,331.88 292.86,331.87 293.87,331.86 294.87,331.85 295.87,331.83 296.88,331.82 297.88,331.81 298.88,331.80 299.89,331.78 300.89,331.77 301.90,331.76 302.90,331.74 303.90,331.73 304.91,331.72 305.91,331.70 306.91,331.69 307.92,331.68 308.92,331.66 309.93,331.65 310.93,331.63 311.93,331.62 312.94,331.60 313.94,331.59 314.94,331.57 315.95,331.56 316.95,331.54 317.96,331.53 318.96,331.51 319.96,331.50 320.97,331.48 321.97,331.46 322.97,331.45 323.98,331.43 324.98,331.42 325.98,331.40 326.99,331.38 327.99,331.37 329.00,331.35 330.00,331.33 331.00,331.31 332.01,331.30 333.01,331.28 334.01,331.26 335.02,331.24 336.02,331.22 337.03,331.20 338.03,331.19 339.03,331.17 340.04,331.15 341.04,331.13 342.04,331.11 343.05,331.09 344.05,331.07 345.06,331.05 346.06,331.03 347.06,331.01 348.07,330.99 349.07,330.97 350.07,330.94 351.08,330.92 352.08,330.90 353.08,330.88 354.09,330.86 355.09,330.84 356.10,330.81 357.10,330.79 358.10,330.77 359.11,330.75 360.11,330.72 361.11,330.70 362.12,330.68 363.12,330.65 364.13,330.63 365.13,330.61 366.13,330.58 367.14,330.56 368.14,330.53 369.14,330.51 370.15,330.48 371.15,330.46 372.16,330.43 373.16,330.41 374.16,330.38 375.17,330.35 376.17,330.33 377.17,330.30 378.18,330.27 379.18,330.25 380.18,330.22 381.19,330.19 382.19,330.16 383.20,330.14 384.20,330.11 385.20,330.08 386.21,330.05 387.21,330.02 388.21,329.99 389.22,329.96 390.22,329.93 391.23,329.90 392.23,329.87 393.23,329.84 394.24,329.81 395.24,329.78 396.24,329.75 397.25,329.72 398.25,329.69 399.26,329.65 400.26,329.62 401.26,329.59 402.27,329.56 403.27,329.52 404.27,329.49 405.28,329.46 406.28,329.42 407.28,329.39 408.29,329.36 409.29,329.32 410.30,329.29 411.30,329.25 412.30,329.22 413.31,329.18 414.31,329.15 415.31,329.11 416.32,329.07 417.32,329.04 418.33,329.00 419.33,328.96 420.33,328.93 421.34,328.89 422.34,328.85 423.34,328.81 424.35,328.77 425.35,328.74 426.36,328.70 427.36,328.66 428.36,328.62 429.37,328.58 430.37,328.54 431.37,328.50 432.38,328.46 433.38,328.42 434.39,328.38 435.39,328.33 436.39,328.29 437.40,328.25 438.40,328.21 439.40,328.17 440.41,328.12 441.41,328.08 442.41,328.04 443.42,327.99 444.42,327.95 445.43,327.90 446.43,327.86 447.43,327.81 448.44,327.77 449.44,327.72 450.44,327.68 451.45,327.63 452.45,327.58 453.46,327.54 454.46,327.49 455.46,327.44 456.47,327.40 457.47,327.35 458.47,327.30 459.48,327.25 460.48,327.20 461.49,327.15 462.49,327.10 463.49,327.05 464.50,327.00 465.50,326.95 466.50,326.90 467.51,326.85 468.51,326.80 469.51,326.75 470.52,326.69 471.52,326.64 472.53,326.59 473.53,326.54 474.53,326.48 475.54,326.43 476.54,326.37 477.54,326.32 478.55,326.26 479.55,326.21 480.56,326.15 481.56,326.10 482.56,326.04 483.57,325.99 484.57,325.93 485.57,325.87 486.58,325.81 487.58,325.76 488.59,325.70 489.59,325.64 490.59,325.58 491.60,325.52 492.60,325.46" fill="none" stroke="#9a72e6" stroke-width="2.2"/>
<path d="M92.11,329.60 L94.71,333.10 L92.11,336.60 L89.51,333.10Z" fill="#fff" stroke="#9a72e6" stroke-width="1.1"/>
<path d="M93.09,329.59 L95.69,333.09 L93.09,336.59 L90.49,333.09Z" fill="#fff" stroke="#9a72e6" stroke-width="1.1"/>
<path d="M94.15,329.58 L96.75,333.08 L94.15,336.58 L91.55,333.08Z" fill="#fff" stroke="#9a72e6" stroke-width="1.1"/>
<path d="M95.29,329.57 L97.89,333.07 L95.29,336.57 L92.69,333.07Z" fill="#fff" stroke="#9a72e6" stroke-width="1.1"/>
<path d="M96.51,329.56 L99.11,333.06 L96.51,336.56 L93.91,333.06Z" fill="#fff" stroke="#9a72e6" stroke-width="1.1"/>
<path d="M97.83,329.55 L100.43,333.05 L97.83,336.55 L95.23,333.05Z" fill="#fff" stroke="#9a72e6" stroke-width="1.1"/>
<path d="M99.26,329.54 L101.86,333.04 L99.26,336.54 L96.66,333.04Z" fill="#fff" stroke="#9a72e6" stroke-width="1.1"/>
<path d="M100.81,329.53 L103.41,333.03 L100.81,336.53 L98.21,333.03Z" fill="#fff" stroke="#9a72e6" stroke-width="1.1"/>
<path d="M102.51,329.52 L105.11,333.02 L102.51,336.52 L99.91,333.02Z" fill="#fff" stroke="#9a72e6" stroke-width="1.1"/>
<path d="M104.37,329.51 L106.97,333.01 L104.37,336.51 L101.77,333.01Z" fill="#fff" stroke="#9a72e6" stroke-width="1.1"/>
<path d="M106.41,329.49 L109.01,332.99 L106.41,336.49 L103.81,332.99Z" fill="#fff" stroke="#9a72e6" stroke-width="1.1"/>
<path d="M108.67,329.48 L111.27,332.98 L108.67,336.48 L106.07,332.98Z" fill="#fff" stroke="#9a72e6" stroke-width="1.1"/>
<path d="M111.18,329.46 L113.78,332.96 L111.18,336.46 L108.58,332.96Z" fill="#fff" stroke="#9a72e6" stroke-width="1.1"/>
<path d="M113.98,329.45 L116.58,332.95 L113.98,336.45 L111.38,332.95Z" fill="#fff" stroke="#9a72e6" stroke-width="1.1"/>
<path d="M117.14,329.43 L119.74,332.93 L117.14,336.43 L114.54,332.93Z" fill="#fff" stroke="#9a72e6" stroke-width="1.1"/>
<path d="M123.57,329.39 L126.17,332.89 L123.57,336.39 L120.97,332.89Z" fill="#fff" stroke="#9a72e6" stroke-width="1.1"/>
<path d="M127.87,329.37 L130.47,332.87 L127.87,336.37 L125.27,332.87Z" fill="#fff" stroke="#9a72e6" stroke-width="1.1"/>
<path d="M132.16,329.35 L134.76,332.85 L132.16,336.35 L129.56,332.85Z" fill="#fff" stroke="#9a72e6" stroke-width="1.1"/>
<path d="M136.45,329.33 L139.05,332.83 L136.45,336.33 L133.85,332.83Z" fill="#fff" stroke="#9a72e6" stroke-width="1.1"/>
<path d="M140.74,329.30 L143.34,332.80 L140.74,336.30 L138.14,332.80Z" fill="#fff" stroke="#9a72e6" stroke-width="1.1"/>
<path d="M145.03,329.29 L147.63,332.79 L145.03,336.29 L142.43,332.79Z" fill="#fff" stroke="#9a72e6" stroke-width="1.1"/>
<path d="M149.32,329.27 L151.92,332.77 L149.32,336.27 L146.72,332.77Z" fill="#fff" stroke="#9a72e6" stroke-width="1.1"/>
<path d="M153.84,329.25 L156.44,332.75 L153.84,336.25 L151.24,332.75Z" fill="#fff" stroke="#9a72e6" stroke-width="1.1"/>
<path d="M158.86,329.22 L161.46,332.72 L158.86,336.22 L156.26,332.72Z" fill="#fff" stroke="#9a72e6" stroke-width="1.1"/>
<path d="M164.46,329.20 L167.06,332.70 L164.46,336.20 L161.86,332.70Z" fill="#fff" stroke="#9a72e6" stroke-width="1.1"/>
<path d="M170.78,329.18 L173.38,332.68 L170.78,336.18 L168.18,332.68Z" fill="#fff" stroke="#9a72e6" stroke-width="1.1"/>
<path d="M177.93,329.15 L180.53,332.65 L177.93,336.15 L175.33,332.65Z" fill="#fff" stroke="#9a72e6" stroke-width="1.1"/>
<path d="M186.10,329.11 L188.70,332.61 L186.10,336.11 L183.50,332.61Z" fill="#fff" stroke="#9a72e6" stroke-width="1.1"/>
<path d="M195.53,329.07 L198.13,332.57 L195.53,336.07 L192.93,332.57Z" fill="#fff" stroke="#9a72e6" stroke-width="1.1"/>
<path d="M206.53,329.02 L209.13,332.52 L206.53,336.02 L203.93,332.52Z" fill="#fff" stroke="#9a72e6" stroke-width="1.1"/>
<path d="M219.54,328.96 L222.14,332.46 L219.54,335.96 L216.94,332.46Z" fill="#fff" stroke="#9a72e6" stroke-width="1.1"/>
<path d="M235.14,328.87 L237.74,332.37 L235.14,335.87 L232.54,332.37Z" fill="#fff" stroke="#9a72e6" stroke-width="1.1"/>
<path d="M254.21,328.74 L256.81,332.24 L254.21,335.74 L251.61,332.24Z" fill="#fff" stroke="#9a72e6" stroke-width="1.1"/>
<path d="M278.05,328.53 L280.65,332.03 L278.05,335.53 L275.45,332.03Z" fill="#fff" stroke="#9a72e6" stroke-width="1.1"/>
<path d="M308.70,328.16 L311.30,331.66 L308.70,335.16 L306.10,331.66Z" fill="#fff" stroke="#9a72e6" stroke-width="1.1"/>
<path d="M349.57,327.46 L352.17,330.96 L349.57,334.46 L346.97,330.96Z" fill="#fff" stroke="#9a72e6" stroke-width="1.1"/>
<path d="M406.78,325.91 L409.38,329.41 L406.78,332.91 L404.18,329.41Z" fill="#fff" stroke="#9a72e6" stroke-width="1.1"/>
<path d="M492.60,321.96 L495.20,325.46 L492.60,328.96 L490.00,325.46Z" fill="#fff" stroke="#9a72e6" stroke-width="1.1"/>
</g>
<line x1="78" y1="64.20" x2="108" y2="64.20" stroke="#454545" stroke-width="2.2"/>
<rect x="90.00" y="61.20" width="6" height="6" fill="#454545" stroke="#454545" stroke-width="0.6"/>
<text transform="translate(119.9,70.50) scale(0.8,1)" font-family="Liberation Sans, sans-serif" font-size="18.6" stroke="#000" stroke-width="0.12">ε</text>
<text x="128.3" y="75.70" font-family="Liberation Sans, sans-serif" font-size="12.3">1,</text>
<text x="141.5" y="75.70" font-family="Liberation Sans, sans-serif" font-size="12.4">Al</text>
<line x1="78" y1="91.20" x2="108" y2="91.20" stroke="#f22a35" stroke-width="2.2"/>
<circle cx="93.00" cy="91.20" r="2.8" fill="#f22a35" stroke="#f22a35" stroke-width="0.6"/>
<text transform="translate(119.9,97.50) scale(0.8,1)" font-family="Liberation Sans, sans-serif" font-size="18.6" stroke="#000" stroke-width="0.12">ε</text>
<text x="128.3" y="102.70" font-family="Liberation Sans, sans-serif" font-size="12.3">1,</text>
<text x="141.5" y="102.70" font-family="Liberation Sans, sans-serif" font-size="12.4">Au</text>
<line x1="78" y1="118.20" x2="108" y2="118.20" stroke="#1f6fd6" stroke-width="2.2"/>
<path d="M93.00,114.42 L96.50,120.72 L89.50,120.72Z" fill="#1f6fd6" stroke="#1f6fd6" stroke-width="0.5"/>
<text transform="translate(119.9,124.50) scale(0.8,1)" font-family="Liberation Sans, sans-serif" font-size="18.6" stroke="#000" stroke-width="0.12">ε</text>
<text x="128.3" y="129.70" font-family="Liberation Sans, sans-serif" font-size="12.3">1,</text>
<text x="141.5" y="129.70" font-family="Liberation Sans, sans-serif" font-size="12.4">W</text>
<line x1="78" y1="145.20" x2="108" y2="145.20" stroke="#2aa868" stroke-width="2.2"/>
<path d="M93.00,148.98 L96.50,142.68 L89.50,142.68Z" fill="#2aa868" stroke="#2aa868" stroke-width="0.5"/>
<text transform="translate(119.9,151.50) scale(0.8,1)" font-family="Liberation Sans, sans-serif" font-size="18.6" stroke="#000" stroke-width="0.12">ε</text>
<text x="128.3" y="156.70" font-family="Liberation Sans, sans-serif" font-size="12.3">1,</text>
<text x="141.5" y="156.70" font-family="Liberation Sans, sans-serif" font-size="12.4">Ni</text>
<line x1="78" y1="172.20" x2="108" y2="172.20" stroke="#9b59e0" stroke-width="2.2"/>
<path d="M93.00,168.20 L96.00,172.20 L93.00,176.20 L90.00,172.20Z" fill="#9b59e0" stroke="#9b59e0" stroke-width="0.5"/>
<text transform="translate(119.9,178.50) scale(0.8,1)" font-family="Liberation Sans, sans-serif" font-size="18.6" stroke="#000" stroke-width="0.12">ε</text>
<text x="128.3" y="183.70" font-family="Liberation Sans, sans-serif" font-size="12.3">1,</text>
<text x="141.5" y="183.70" font-family="Liberation Sans, sans-serif" font-size="12.4">Ti</text>
<line x1="78" y1="199.20" x2="108" y2="199.20" stroke="#505050" stroke-width="2.2"/>
<rect x="90.60" y="196.80" width="4.8" height="4.8" fill="#fff" stroke="#505050" stroke-width="1.2"/>
<text transform="translate(119.9,205.50) scale(0.8,1)" font-family="Liberation Sans, sans-serif" font-size="18.6" stroke="#000" stroke-width="0.12">ε</text>
<text x="128.3" y="210.70" font-family="Liberation Sans, sans-serif" font-size="12.3">2,</text>
<text x="141.5" y="210.70" font-family="Liberation Sans, sans-serif" font-size="12.4">Al</text>
<rect x="76" y="220.70" width="36" height="11" fill="#fef0f6"/>
<line x1="78" y1="226.20" x2="108" y2="226.20" stroke="#8f7550" stroke-width="2.2"/>
<circle cx="93.00" cy="226.20" r="2.6" fill="#fff" stroke="#e07464" stroke-width="1.0"/>
<text transform="translate(119.9,232.50) scale(0.8,1)" font-family="Liberation Sans, sans-serif" font-size="18.6" stroke="#000" stroke-width="0.12">ε</text>
<text x="128.3" y="237.70" font-family="Liberation Sans, sans-serif" font-size="12.3">2,</text>
<text x="141.5" y="237.70" font-family="Liberation Sans, sans-serif" font-size="12.4">Au</text>
<rect x="76" y="247.70" width="36" height="11" fill="#ecfafb"/>
<line x1="78" y1="253.20" x2="108" y2="253.20" stroke="#2a3fc8" stroke-width="2.2"/>
<path d="M93.00,249.42 L96.50,255.72 L89.50,255.72Z" fill="#fff" stroke="#2a3fc8" stroke-width="1.0"/>
<text transform="translate(119.9,259.50) scale(0.8,1)" font-family="Liberation Sans, sans-serif" font-size="18.6" stroke="#000" stroke-width="0.12">ε</text>
<text x="128.3" y="264.70" font-family="Liberation Sans, sans-serif" font-size="12.3">2,</text>
<text x="141.5" y="264.70" font-family="Liberation Sans, sans-serif" font-size="12.4">W</text>
<rect x="76" y="274.70" width="36" height="11" fill="#eefaf3"/>
<line x1="78" y1="280.20" x2="108" y2="280.20" stroke="#5b7f5b" stroke-width="2.2"/>
<path d="M93.00,283.98 L96.50,277.68 L89.50,277.68Z" fill="#fff" stroke="#5b7f5b" stroke-width="1.0"/>
<text transform="translate(119.9,286.50) scale(0.8,1)" font-family="Liberation Sans, sans-serif" font-size="18.6" stroke="#000" stroke-width="0.12">ε</text>
<text x="128.3" y="291.70" font-family="Liberation Sans, sans-serif" font-size="12.3">2,</text>
<text x="141.5" y="291.70" font-family="Liberation Sans, sans-serif" font-size="12.4">Ni</text>
<line x1="78" y1="307.20" x2="108" y2="307.20" stroke="#9a72e6" stroke-width="2.2"/>
<path d="M93.00,303.20 L96.25,307.20 L93.00,311.20 L89.75,307.20Z" fill="#fff" stroke="#9a72e6" stroke-width="1.0"/>
<text transform="translate(119.9,313.50) scale(0.8,1)" font-family="Liberation Sans, sans-serif" font-size="18.6" stroke="#000" stroke-width="0.12">ε</text>
<text x="128.3" y="318.70" font-family="Liberation Sans, sans-serif" font-size="12.3">2,</text>
<text x="141.5" y="318.70" font-family="Liberation Sans, sans-serif" font-size="12.4">Ti</text>

<g fill="none" stroke="#14149c" stroke-width="2.6" stroke-dasharray="5,2.7">
<ellipse cx="261.5" cy="308.8" rx="16" ry="47.6"/>
<path d="M271,268.5 C280,267 290,265 289,261 C288,257 282,256 282,254 C284,251.5 292,252 304,252"/>
</g>
<path d="M303.5,249.9 L310.3,252.2 L303.5,254.5 Z" fill="#14149c"/>

<line x1="63.50" y1="364.4" x2="63.50" y2="359.4" stroke="#000" stroke-width="1.6"/>
<line x1="63.50" y1="11.2" x2="63.50" y2="16.2" stroke="#000" stroke-width="1.6"/>
<text x="63.50" y="386.5" font-family="Liberation Sans, sans-serif" font-size="20.5" text-anchor="middle">0</text>
<line x1="106.41" y1="364.4" x2="106.41" y2="361.4" stroke="#000" stroke-width="1.6"/>
<line x1="106.41" y1="11.2" x2="106.41" y2="14.2" stroke="#000" stroke-width="1.6"/>
<text x="106.41" y="386.5" font-family="Liberation Sans, sans-serif" font-size="20.5" text-anchor="middle">1</text>
<line x1="149.32" y1="364.4" x2="149.32" y2="359.4" stroke="#000" stroke-width="1.6"/>
<line x1="149.32" y1="11.2" x2="149.32" y2="16.2" stroke="#000" stroke-width="1.6"/>
<text x="149.32" y="386.5" font-family="Liberation Sans, sans-serif" font-size="20.5" text-anchor="middle">2</text>
<line x1="192.23" y1="364.4" x2="192.23" y2="361.4" stroke="#000" stroke-width="1.6"/>
<line x1="192.23" y1="11.2" x2="192.23" y2="14.2" stroke="#000" stroke-width="1.6"/>
<text x="192.23" y="386.5" font-family="Liberation Sans, sans-serif" font-size="20.5" text-anchor="middle">3</text>
<line x1="235.14" y1="364.4" x2="235.14" y2="359.4" stroke="#000" stroke-width="1.6"/>
<line x1="235.14" y1="11.2" x2="235.14" y2="16.2" stroke="#000" stroke-width="1.6"/>
<text x="235.14" y="386.5" font-family="Liberation Sans, sans-serif" font-size="20.5" text-anchor="middle">4</text>
<line x1="278.05" y1="364.4" x2="278.05" y2="361.4" stroke="#000" stroke-width="1.6"/>
<line x1="278.05" y1="11.2" x2="278.05" y2="14.2" stroke="#000" stroke-width="1.6"/>
<text x="278.05" y="386.5" font-family="Liberation Sans, sans-serif" font-size="20.5" text-anchor="middle">5</text>
<line x1="320.96" y1="364.4" x2="320.96" y2="359.4" stroke="#000" stroke-width="1.6"/>
<line x1="320.96" y1="11.2" x2="320.96" y2="16.2" stroke="#000" stroke-width="1.6"/>
<text x="320.96" y="386.5" font-family="Liberation Sans, sans-serif" font-size="20.5" text-anchor="middle">6</text>
<line x1="363.87" y1="364.4" x2="363.87" y2="361.4" stroke="#000" stroke-width="1.6"/>
<line x1="363.87" y1="11.2" x2="363.87" y2="14.2" stroke="#000" stroke-width="1.6"/>
<text x="363.87" y="386.5" font-family="Liberation Sans, sans-serif" font-size="20.5" text-anchor="middle">7</text>
<line x1="406.78" y1="364.4" x2="406.78" y2="359.4" stroke="#000" stroke-width="1.6"/>
<line x1="406.78" y1="11.2" x2="406.78" y2="16.2" stroke="#000" stroke-width="1.6"/>
<text x="406.78" y="386.5" font-family="Liberation Sans, sans-serif" font-size="20.5" text-anchor="middle">8</text>
<line x1="449.69" y1="364.4" x2="449.69" y2="361.4" stroke="#000" stroke-width="1.6"/>
<line x1="449.69" y1="11.2" x2="449.69" y2="14.2" stroke="#000" stroke-width="1.6"/>
<text x="449.69" y="386.5" font-family="Liberation Sans, sans-serif" font-size="20.5" text-anchor="middle">9</text>
<line x1="492.60" y1="364.4" x2="492.60" y2="359.4" stroke="#000" stroke-width="1.6"/>
<line x1="492.60" y1="11.2" x2="492.60" y2="16.2" stroke="#000" stroke-width="1.6"/>
<text x="492.60" y="386.5" font-family="Liberation Sans, sans-serif" font-size="20.5" text-anchor="middle">10</text>
<line x1="63.5" y1="33.27" x2="69.0" y2="33.27" stroke="#000" stroke-width="1.6"/>
<text x="56.2" y="39.77" font-family="Liberation Sans, sans-serif" font-size="20.5" text-anchor="end">0</text>
<line x1="63.5" y1="55.35" x2="66.5" y2="55.35" stroke="#000" stroke-width="1.6"/>
<line x1="63.5" y1="77.42" x2="69.0" y2="77.42" stroke="#000" stroke-width="1.6"/>
<text x="56.2" y="83.92" font-family="Liberation Sans, sans-serif" font-size="20.5" text-anchor="end">−1</text>
<line x1="63.5" y1="99.50" x2="66.5" y2="99.50" stroke="#000" stroke-width="1.6"/>
<line x1="63.5" y1="121.58" x2="69.0" y2="121.58" stroke="#000" stroke-width="1.6"/>
<text x="56.2" y="128.07" font-family="Liberation Sans, sans-serif" font-size="20.5" text-anchor="end">−2</text>
<line x1="63.5" y1="143.65" x2="66.5" y2="143.65" stroke="#000" stroke-width="1.6"/>
<line x1="63.5" y1="165.72" x2="69.0" y2="165.72" stroke="#000" stroke-width="1.6"/>
<text x="56.2" y="172.22" font-family="Liberation Sans, sans-serif" font-size="20.5" text-anchor="end">−3</text>
<line x1="63.5" y1="187.80" x2="66.5" y2="187.80" stroke="#000" stroke-width="1.6"/>
<line x1="63.5" y1="209.87" x2="69.0" y2="209.87" stroke="#000" stroke-width="1.6"/>
<text x="56.2" y="216.37" font-family="Liberation Sans, sans-serif" font-size="20.5" text-anchor="end">−4</text>
<line x1="63.5" y1="231.95" x2="66.5" y2="231.95" stroke="#000" stroke-width="1.6"/>
<line x1="63.5" y1="254.02" x2="69.0" y2="254.02" stroke="#000" stroke-width="1.6"/>
<text x="56.2" y="260.52" font-family="Liberation Sans, sans-serif" font-size="20.5" text-anchor="end">−5</text>
<line x1="63.5" y1="276.10" x2="66.5" y2="276.10" stroke="#000" stroke-width="1.6"/>
<line x1="63.5" y1="298.17" x2="69.0" y2="298.17" stroke="#000" stroke-width="1.6"/>
<text x="56.2" y="304.67" font-family="Liberation Sans, sans-serif" font-size="20.5" text-anchor="end">−6</text>
<line x1="63.5" y1="320.25" x2="66.5" y2="320.25" stroke="#000" stroke-width="1.6"/>
<line x1="63.5" y1="342.32" x2="69.0" y2="342.32" stroke="#000" stroke-width="1.6"/>
<text x="56.2" y="348.82" font-family="Liberation Sans, sans-serif" font-size="20.5" text-anchor="end">−7</text>
<line x1="492.6" y1="40.63" x2="487.1" y2="40.63" stroke="#14149c" stroke-width="1.6"/>
<text x="499" y="46.63" font-family="Liberation Sans, sans-serif" font-size="20.5" fill="#14149c">5</text>
<line x1="492.6" y1="70.07" x2="489.6" y2="70.07" stroke="#14149c" stroke-width="1.6"/>
<line x1="492.6" y1="99.50" x2="487.1" y2="99.50" stroke="#14149c" stroke-width="1.6"/>
<text x="499" y="105.50" font-family="Liberation Sans, sans-serif" font-size="20.5" fill="#14149c">4</text>
<line x1="492.6" y1="128.93" x2="489.6" y2="128.93" stroke="#14149c" stroke-width="1.6"/>
<line x1="492.6" y1="158.37" x2="487.1" y2="158.37" stroke="#14149c" stroke-width="1.6"/>
<text x="499" y="164.37" font-family="Liberation Sans, sans-serif" font-size="20.5" fill="#14149c">3</text>
<line x1="492.6" y1="187.80" x2="489.6" y2="187.80" stroke="#14149c" stroke-width="1.6"/>
<line x1="492.6" y1="217.23" x2="487.1" y2="217.23" stroke="#14149c" stroke-width="1.6"/>
<text x="499" y="223.23" font-family="Liberation Sans, sans-serif" font-size="20.5" fill="#14149c">2</text>
<line x1="492.6" y1="246.67" x2="489.6" y2="246.67" stroke="#14149c" stroke-width="1.6"/>
<line x1="492.6" y1="276.10" x2="487.1" y2="276.10" stroke="#14149c" stroke-width="1.6"/>
<text x="499" y="282.10" font-family="Liberation Sans, sans-serif" font-size="20.5" fill="#14149c">1</text>
<line x1="492.6" y1="305.53" x2="489.6" y2="305.53" stroke="#14149c" stroke-width="1.6"/>
<line x1="492.6" y1="334.97" x2="487.1" y2="334.97" stroke="#14149c" stroke-width="1.6"/>
<text x="499" y="340.97" font-family="Liberation Sans, sans-serif" font-size="20.5" fill="#14149c">0</text>
<path d="M492.6,11.2 L63.5,11.2 L63.5,364.4 L492.6,364.4" fill="none" stroke="#000" stroke-width="2"/>
<line x1="492.6" y1="10.2" x2="492.6" y2="365.4" stroke="#14149c" stroke-width="2"/>

<text x="278" y="406" font-family="Liberation Sans, sans-serif" font-size="20.3" text-anchor="middle">wavelength (μm)</text>
<g transform="translate(27.9,229.2) rotate(-90)" fill="#000" font-family="Liberation Sans, sans-serif"><text transform="scale(1.17,0.95)" x="-0.8" y="0" font-size="20" stroke-width="0.35" stroke="#000">ε</text><text x="8.9" y="4.7" font-size="13.5" font-weight="bold" stroke="#000" stroke-width="0.4">1</text><text x="22.3" y="0" font-size="20">(</text><text x="29.2" y="-1.2" font-size="19" stroke="#000" stroke-width="0.45">×</text><text x="46.9" y="0" font-size="20">10</text><text x="69.5" y="-8" font-size="13">3</text><text x="76.6" y="0" font-size="20">)</text></g>
<g transform="translate(534.8,229.2) rotate(-90)" fill="#14149c" font-family="Liberation Sans, sans-serif"><text transform="scale(1.17,0.95)" x="-0.8" y="0" font-size="20" stroke-width="0.35" stroke="#14149c">ε</text><text x="8.9" y="4.7" font-size="13.5" font-weight="bold" stroke="#14149c" stroke-width="0.4">2</text><text x="22.3" y="0" font-size="20">(</text><text x="29.2" y="-1.2" font-size="19" stroke="#14149c" stroke-width="0.45">×</text><text x="46.9" y="0" font-size="20">10</text><text x="69.5" y="-8" font-size="13">3</text><text x="76.6" y="0" font-size="20">)</text></g>

</svg>
</body></html>
